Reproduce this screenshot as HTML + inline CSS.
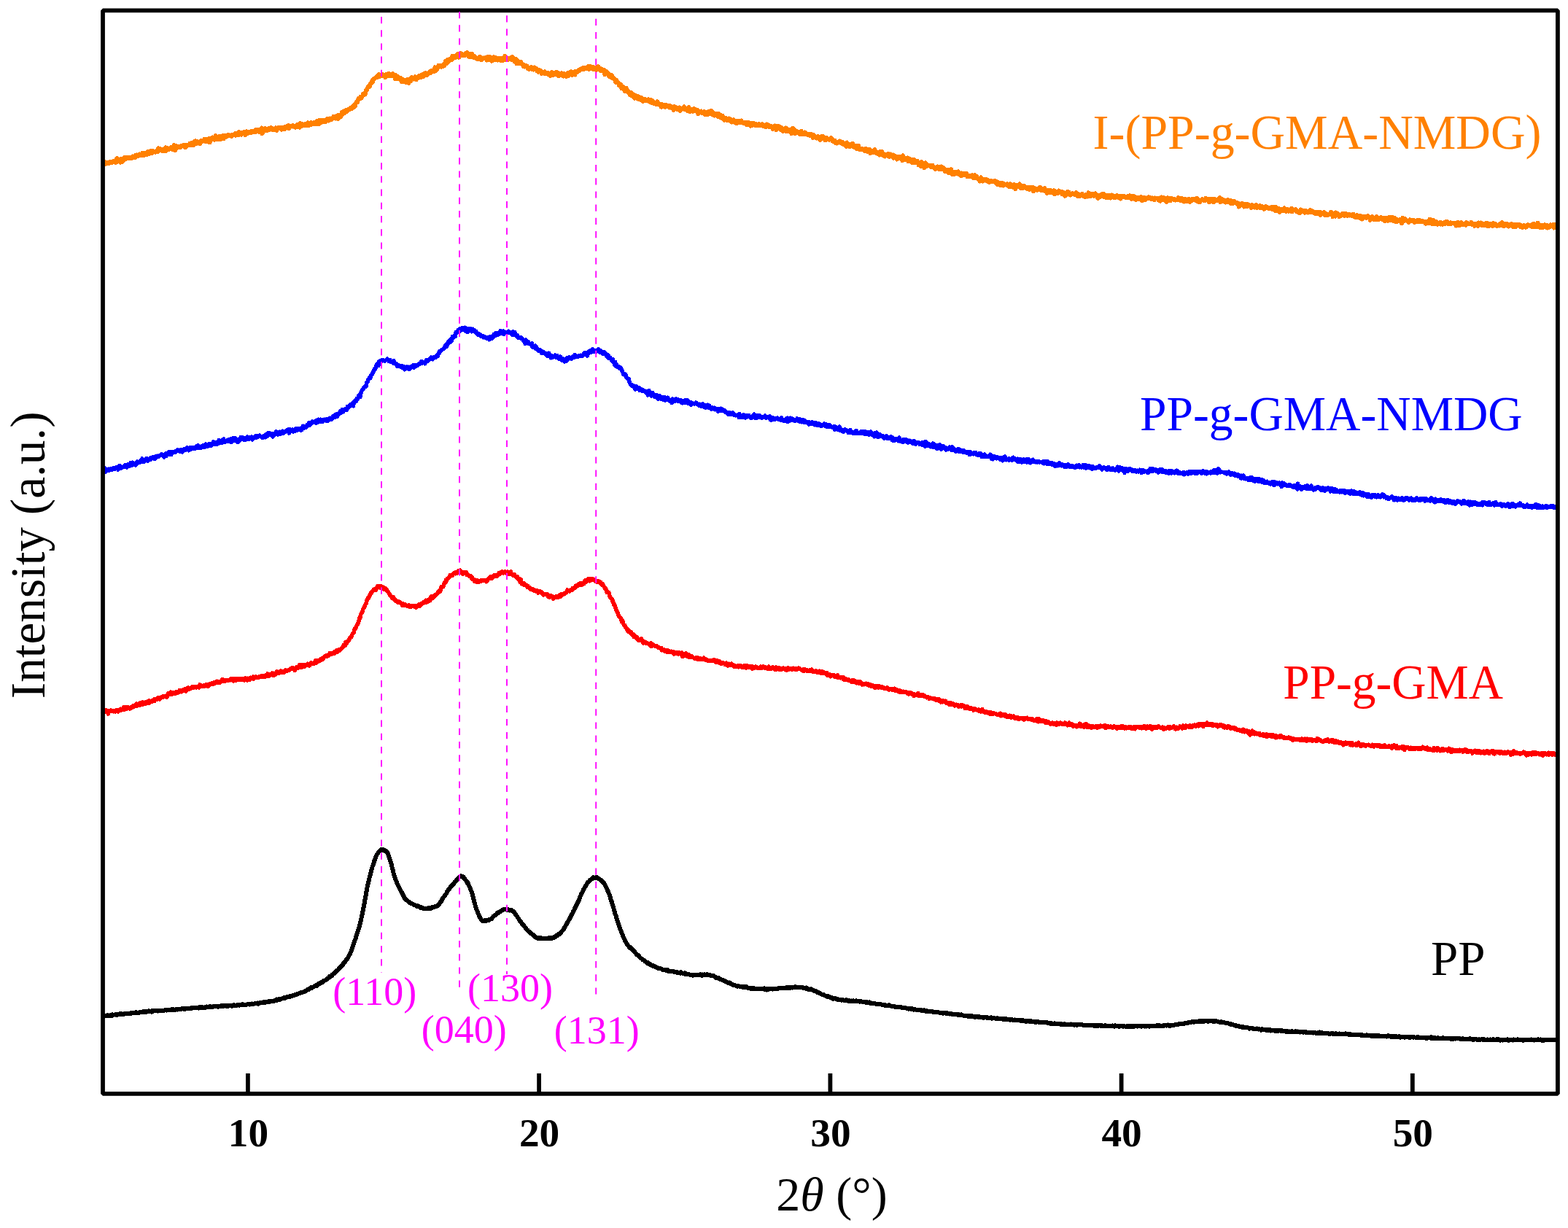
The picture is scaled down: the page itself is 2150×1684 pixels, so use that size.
<!DOCTYPE html><html><head><meta charset="utf-8"><title>XRD</title><style>html,body{margin:0;padding:0;background:#fff;}svg{display:block;}text{font-family:"Liberation Serif",serif;}</style></head><body>
<svg width="2150" height="1684" viewBox="0 0 2150 1684">
<rect x="0" y="0" width="2150" height="1684" fill="#fff"/>
<path d="M141.2 225.0L142.0 225.5L142.8 224.7L143.6 222.3L144.4 225.2L145.2 224.4L146.0 222.9L146.8 224.3L147.6 223.9L148.4 223.6L149.2 223.1L150.0 223.7L150.8 221.7L151.6 222.3L152.4 221.7L153.2 223.1L154.0 222.2L154.8 221.5L155.6 220.7L156.4 221.3L157.2 221.5L158.0 220.9L158.8 222.9L159.6 222.4L160.4 217.0L161.2 218.0L162.0 220.2L162.8 219.7L163.6 220.4L164.4 220.2L165.2 222.7L166.0 218.0L166.8 218.9L167.6 222.1L168.4 219.9L169.2 219.8L170.0 217.9L170.8 216.2L171.6 218.5L172.4 218.2L173.2 216.2L174.0 216.7L174.8 217.4L175.6 216.0L176.4 216.9L177.2 217.0L178.0 216.7L178.8 215.8L179.6 217.1L180.4 217.3L181.2 216.3L182.0 214.5L182.8 216.4L183.6 214.5L184.4 216.2L185.2 213.3L186.0 215.8L186.8 214.3L187.6 212.4L188.4 213.5L189.2 213.8L190.0 213.9L190.8 211.9L191.6 211.5L192.4 213.2L193.2 212.0L194.0 212.8L194.8 213.3L195.6 209.8L196.4 212.2L197.2 213.4L198.0 211.0L198.8 210.1L199.6 212.1L200.4 211.2L201.2 211.9L202.0 209.9L202.8 208.1L203.6 209.8L204.4 209.2L205.2 210.7L206.0 209.6L206.8 206.9L207.6 207.3L208.4 210.0L209.2 209.5L210.0 207.4L210.8 208.1L211.6 208.5L212.4 208.4L213.2 208.7L214.0 207.7L214.8 207.0L215.6 206.6L216.4 208.2L217.2 203.4L218.0 206.2L218.8 206.2L219.6 204.0L220.4 206.3L221.2 204.8L222.0 206.7L222.8 205.2L223.6 206.1L224.4 206.7L225.2 205.4L226.0 203.5L226.8 202.5L227.6 206.9L228.4 204.2L229.2 203.2L230.0 204.3L230.8 203.7L231.6 205.0L232.4 203.7L233.2 203.6L234.0 202.5L234.8 204.0L235.6 201.8L236.4 204.0L237.2 205.1L238.0 200.7L238.8 199.3L239.6 203.5L240.4 206.1L241.2 201.0L242.0 200.5L242.8 203.0L243.6 200.8L244.4 201.2L245.2 201.3L246.0 202.4L246.8 200.9L247.6 201.7L248.4 200.9L249.2 199.9L250.0 200.4L250.8 199.4L251.6 200.6L252.4 198.8L253.2 198.7L254.0 202.1L254.8 199.8L255.6 199.6L256.4 200.1L257.2 198.6L258.0 198.7L258.8 199.4L259.6 199.0L260.4 196.7L261.2 199.3L262.0 197.1L262.8 196.2L263.6 196.2L264.4 196.7L265.2 199.3L266.0 195.1L266.8 196.7L267.6 193.3L268.4 196.1L269.2 197.1L270.0 195.3L270.8 194.5L271.6 195.5L272.4 195.9L273.2 195.6L274.0 197.3L274.8 194.6L275.6 193.2L276.4 193.7L277.2 193.6L278.0 193.6L278.8 193.3L279.6 193.4L280.4 190.6L281.2 193.9L282.0 191.8L282.8 190.8L283.6 193.1L284.4 193.9L285.2 192.6L286.0 191.9L286.8 190.2L287.6 195.4L288.4 192.5L289.2 189.5L290.0 189.8L290.8 190.9L291.6 188.4L292.4 190.6L293.2 189.6L294.0 191.8L294.8 191.3L295.6 186.0L296.4 189.7L297.2 187.2L298.0 190.9L298.8 189.4L299.6 189.8L300.4 187.4L301.2 191.3L302.0 191.4L302.8 186.9L303.6 188.8L304.4 187.2L305.2 187.9L306.0 186.1L306.8 190.3L307.6 186.2L308.4 187.0L309.2 188.0L310.0 186.2L310.8 186.6L311.6 186.0L312.4 186.5L313.2 184.9L314.0 185.8L314.8 186.0L315.6 185.7L316.4 186.1L317.2 185.5L318.0 186.8L318.8 185.2L319.6 185.3L320.4 184.4L321.2 184.5L322.0 183.3L322.8 185.7L323.6 183.2L324.4 183.6L325.2 185.1L326.0 185.0L326.8 183.7L327.6 181.3L328.4 184.6L329.2 184.3L330.0 181.8L330.8 184.7L331.6 182.5L332.4 181.8L333.2 183.4L334.0 182.9L334.8 183.3L335.6 180.6L336.4 185.3L337.2 181.7L338.0 180.3L338.8 183.2L339.6 181.7L340.4 182.5L341.2 181.4L342.0 181.7L342.8 182.0L343.6 180.4L344.4 182.3L345.2 180.5L346.0 179.8L346.8 181.0L347.6 181.4L348.4 180.3L349.2 179.3L350.0 181.2L350.8 177.8L351.6 178.7L352.4 180.0L353.2 177.9L354.0 179.8L354.8 179.5L355.6 180.7L356.4 178.0L357.2 178.3L358.0 179.5L358.8 175.5L359.6 183.2L360.4 177.7L361.2 177.6L362.0 179.7L362.8 178.3L363.6 175.8L364.4 179.0L365.2 179.2L366.0 177.3L366.8 177.4L367.6 178.4L368.4 176.4L369.2 178.1L370.0 177.7L370.8 176.4L371.6 175.3L372.4 176.8L373.2 175.8L374.0 178.4L374.8 177.1L375.6 177.9L376.4 176.9L377.2 176.9L378.0 175.4L378.8 177.3L379.6 178.8L380.4 175.8L381.2 175.3L382.0 175.8L382.8 175.3L383.6 174.9L384.4 175.9L385.2 175.2L386.0 177.6L386.8 175.5L387.6 175.8L388.4 176.6L389.2 174.7L390.0 177.1L390.8 174.1L391.6 173.7L392.4 174.2L393.2 174.5L394.0 172.6L394.8 174.4L395.6 172.0L396.4 176.2L397.2 174.1L398.0 173.2L398.8 172.7L399.6 173.3L400.4 173.5L401.2 172.2L402.0 172.3L402.8 173.2L403.6 172.7L404.4 174.6L405.2 174.8L406.0 173.1L406.8 173.7L407.6 171.0L408.4 173.7L409.2 172.6L410.0 173.2L410.8 174.7L411.6 169.1L412.4 172.6L413.2 170.6L414.0 172.8L414.8 170.0L415.6 171.1L416.4 171.9L417.2 172.4L418.0 171.5L418.8 170.1L419.6 170.3L420.4 172.2L421.2 170.8L422.0 168.3L422.8 171.7L423.6 170.9L424.4 171.4L425.2 169.6L426.0 171.0L426.8 168.2L427.6 170.3L428.4 168.7L429.2 170.1L430.0 170.4L430.8 167.8L431.6 168.5L432.4 168.5L433.2 169.9L434.0 169.0L434.8 166.2L435.6 168.3L436.4 168.5L437.2 170.3L438.0 164.7L438.8 166.1L439.6 168.6L440.4 164.6L441.2 164.6L442.0 166.8L442.8 167.3L443.6 164.7L444.4 166.2L445.2 165.4L446.0 167.2L446.8 164.9L447.6 166.1L448.4 163.2L449.2 164.0L450.0 164.0L450.8 165.5L451.6 164.6L452.4 162.5L453.2 164.4L454.0 164.3L454.8 162.9L455.6 162.5L456.4 162.4L457.2 160.1L458.0 162.5L458.8 162.3L459.6 160.5L460.4 162.5L461.2 159.3L462.0 160.2L462.8 160.0L463.6 163.1L464.4 157.8L465.2 160.4L466.0 160.5L466.8 159.2L467.6 159.7L468.4 156.0L469.2 153.5L470.0 157.0L470.8 153.5L471.6 154.0L472.4 152.1L473.2 154.5L474.0 153.7L474.8 150.9L475.6 152.7L476.4 151.1L477.2 150.3L478.0 150.2L478.8 149.4L479.6 150.1L480.4 149.2L481.2 147.8L482.0 149.2L482.8 146.4L483.6 147.0L484.4 146.5L485.2 147.2L486.0 143.5L486.8 145.7L487.6 142.6L488.4 141.0L489.2 139.3L490.0 140.0L490.8 138.2L491.6 135.5L492.4 134.5L493.2 134.3L494.0 133.2L494.8 134.8L495.6 134.3L496.4 132.6L497.2 131.0L498.0 129.0L498.8 128.7L499.6 128.9L500.4 129.6L501.2 126.9L502.0 124.1L502.8 123.4L503.6 121.4L504.4 119.6L505.2 119.0L506.0 118.0L506.8 118.8L507.6 114.9L508.4 115.3L509.2 114.6L510.0 111.1L510.8 112.3L511.6 110.3L512.4 108.1L513.2 108.4L514.0 107.5L514.8 106.5L515.6 106.0L516.4 106.0L517.2 106.0L518.0 103.8L518.8 104.6L519.6 102.2L520.4 104.4L521.2 104.7L522.0 103.9L522.8 103.9L523.6 104.1L524.4 102.2L525.2 102.6L526.0 103.5L526.8 104.1L527.6 103.1L528.4 106.0L529.2 102.3L530.0 103.7L530.8 104.1L531.6 102.1L532.4 101.2L533.2 100.8L534.0 102.8L534.8 104.3L535.6 103.3L536.4 103.4L537.2 102.9L538.0 104.4L538.8 100.9L539.6 104.5L540.4 104.5L541.2 102.8L542.0 108.0L542.8 103.3L543.6 104.1L544.4 104.3L545.2 108.0L546.0 105.6L546.8 108.3L547.6 108.7L548.4 108.7L549.2 107.0L550.0 108.5L550.8 112.1L551.6 108.4L552.4 109.5L553.2 110.7L554.0 112.4L554.8 111.8L555.6 112.6L556.4 110.1L557.2 112.9L558.0 112.2L558.8 109.0L559.6 113.1L560.4 113.8L561.2 109.2L562.0 110.0L562.8 111.5L563.6 107.1L564.4 106.0L565.2 106.6L566.0 107.3L566.8 107.0L567.6 108.4L568.4 107.6L569.2 105.2L570.0 107.5L570.8 109.1L571.6 107.9L572.4 107.3L573.2 105.7L574.0 106.8L574.8 103.8L575.6 106.0L576.4 104.5L577.2 106.0L578.0 104.8L578.8 102.3L579.6 103.7L580.4 105.0L581.2 101.4L582.0 101.9L582.8 101.3L583.6 99.9L584.4 103.0L585.2 103.2L586.0 102.1L586.8 100.9L587.6 100.1L588.4 100.1L589.2 98.3L590.0 100.1L590.8 99.8L591.6 99.2L592.4 96.6L593.2 97.0L594.0 96.2L594.8 98.4L595.6 95.7L596.4 92.3L597.2 95.1L598.0 96.7L598.8 94.6L599.6 94.5L600.4 92.9L601.2 89.7L602.0 89.6L602.8 90.0L603.6 91.2L604.4 91.4L605.2 91.6L606.0 89.8L606.8 91.2L607.6 89.1L608.4 88.1L609.2 89.9L610.0 87.0L610.8 84.0L611.6 85.9L612.4 87.0L613.2 82.1L614.0 85.2L614.8 84.6L615.6 82.2L616.4 81.3L617.2 81.8L618.0 80.7L618.8 82.3L619.6 80.2L620.4 76.6L621.2 76.9L622.0 78.4L622.8 79.5L623.6 77.0L624.4 76.7L625.2 78.7L626.0 75.9L626.8 75.4L627.6 73.8L628.4 75.0L629.2 78.7L630.0 73.5L630.8 75.4L631.6 73.3L632.4 75.3L633.2 76.2L634.0 74.5L634.8 75.6L635.6 75.4L636.4 74.8L637.2 76.4L638.0 74.9L638.8 73.2L639.6 72.6L640.4 72.3L641.2 74.2L642.0 73.2L642.8 77.7L643.6 76.8L644.4 74.4L645.2 74.7L646.0 78.1L646.8 73.6L647.6 76.1L648.4 78.6L649.2 76.4L650.0 77.4L650.8 77.8L651.6 79.5L652.4 79.0L653.2 79.7L654.0 80.2L654.8 79.6L655.6 81.4L656.4 79.0L657.2 78.2L658.0 77.9L658.8 78.3L659.6 79.9L660.4 82.3L661.2 81.1L662.0 80.1L662.8 79.5L663.6 80.3L664.4 80.5L665.2 80.3L666.0 79.1L666.8 80.5L667.6 82.6L668.4 78.2L669.2 80.9L670.0 78.3L670.8 81.5L671.6 80.2L672.4 78.4L673.2 81.4L674.0 83.8L674.8 81.5L675.6 82.9L676.4 81.2L677.2 78.3L678.0 82.0L678.8 80.7L679.6 79.3L680.4 82.4L681.2 81.7L682.0 80.6L682.8 82.5L683.6 80.1L684.4 82.2L685.2 80.0L686.0 82.0L686.8 79.8L687.6 83.4L688.4 81.6L689.2 83.2L690.0 79.9L690.8 80.2L691.6 81.9L692.4 76.8L693.2 79.0L694.0 81.9L694.8 81.1L695.6 81.8L696.4 80.2L697.2 81.7L698.0 80.2L698.8 79.6L699.6 79.5L700.4 81.5L701.2 81.8L702.0 81.9L702.8 78.0L703.6 80.4L704.4 82.7L705.2 84.0L706.0 83.0L706.8 82.8L707.6 81.0L708.4 87.2L709.2 83.1L710.0 87.2L710.8 87.3L711.6 85.8L712.4 84.9L713.2 86.2L714.0 84.8L714.8 87.2L715.6 87.4L716.4 88.6L717.2 89.8L718.0 91.4L718.8 89.0L719.6 91.6L720.4 89.6L721.2 90.0L722.0 90.8L722.8 90.7L723.6 93.8L724.4 94.1L725.2 94.8L726.0 93.3L726.8 93.9L727.6 92.9L728.4 92.3L729.2 94.8L730.0 94.7L730.8 93.0L731.6 95.6L732.4 92.5L733.2 94.9L734.0 94.5L734.8 94.9L735.6 94.4L736.4 97.6L737.2 97.4L738.0 98.6L738.8 97.5L739.6 95.9L740.4 97.6L741.2 96.8L742.0 99.5L742.8 100.9L743.6 100.0L744.4 99.0L745.2 99.6L746.0 100.6L746.8 98.4L747.6 100.8L748.4 101.1L749.2 100.2L750.0 100.5L750.8 101.4L751.6 100.1L752.4 100.2L753.2 102.5L754.0 101.8L754.8 103.9L755.6 100.3L756.4 99.3L757.2 103.1L758.0 103.2L758.8 100.9L759.6 100.0L760.4 102.0L761.2 99.7L762.0 101.7L762.8 99.1L763.6 101.9L764.4 99.3L765.2 101.9L766.0 104.4L766.8 101.9L767.6 103.3L768.4 101.4L769.2 101.0L770.0 100.2L770.8 103.7L771.6 102.2L772.4 104.5L773.2 100.6L774.0 101.9L774.8 102.4L775.6 104.2L776.4 104.8L777.2 101.3L778.0 100.6L778.8 99.8L779.6 104.1L780.4 102.1L781.2 101.3L782.0 102.0L782.8 98.4L783.6 99.3L784.4 102.8L785.2 101.8L786.0 101.2L786.8 99.2L787.6 101.1L788.4 102.5L789.2 97.9L790.0 99.4L790.8 98.4L791.6 99.1L792.4 98.2L793.2 97.4L794.0 95.9L794.8 96.6L795.6 95.2L796.4 95.3L797.2 94.9L798.0 95.4L798.8 93.3L799.6 93.2L800.4 94.9L801.2 92.8L802.0 92.6L802.8 94.1L803.6 93.3L804.4 93.1L805.2 93.3L806.0 91.3L806.8 93.7L807.6 94.9L808.4 93.9L809.2 91.0L810.0 93.6L810.8 92.0L811.6 93.0L812.4 93.6L813.2 91.8L814.0 95.4L814.8 93.6L815.6 94.8L816.4 94.7L817.2 95.8L818.0 95.6L818.8 92.0L819.6 94.2L820.4 91.3L821.2 93.8L822.0 95.5L822.8 96.0L823.6 96.7L824.4 94.5L825.2 95.7L826.0 95.6L826.8 97.5L827.6 98.2L828.4 95.9L829.2 102.2L830.0 97.5L830.8 97.6L831.6 99.7L832.4 100.6L833.2 101.1L834.0 100.2L834.8 104.0L835.6 102.7L836.4 105.5L837.2 106.0L838.0 103.0L838.8 104.1L839.6 104.8L840.4 107.3L841.2 107.8L842.0 108.8L842.8 108.0L843.6 110.5L844.4 112.7L845.2 109.6L846.0 111.9L846.8 113.3L847.6 113.5L848.4 114.1L849.2 117.6L850.0 117.7L850.8 117.8L851.6 116.3L852.4 121.2L853.2 119.4L854.0 118.8L854.8 119.8L855.6 120.4L856.4 124.7L857.2 122.8L858.0 123.3L858.8 120.8L859.6 125.6L860.4 123.8L861.2 124.4L862.0 127.6L862.8 126.2L863.6 129.3L864.4 130.4L865.2 126.9L866.0 129.8L866.8 128.3L867.6 130.9L868.4 132.7L869.2 129.9L870.0 134.7L870.8 132.1L871.6 131.2L872.4 133.0L873.2 134.6L874.0 131.9L874.8 134.1L875.6 132.5L876.4 136.3L877.2 135.1L878.0 134.6L878.8 136.9L879.6 133.9L880.4 135.4L881.2 138.7L882.0 136.2L882.8 138.6L883.6 137.2L884.4 136.2L885.2 137.1L886.0 137.8L886.8 137.3L887.6 137.0L888.4 137.3L889.2 136.5L890.0 139.0L890.8 139.6L891.6 140.3L892.4 137.0L893.2 140.8L894.0 139.9L894.8 138.2L895.6 140.5L896.4 141.8L897.2 141.6L898.0 142.2L898.8 142.7L899.6 142.9L900.4 141.9L901.2 139.3L902.0 141.4L902.8 143.3L903.6 142.4L904.4 144.2L905.2 144.7L906.0 143.9L906.8 146.7L907.6 142.9L908.4 145.8L909.2 144.0L910.0 143.8L910.8 145.9L911.6 144.4L912.4 146.7L913.2 144.0L914.0 145.8L914.8 144.8L915.6 145.8L916.4 145.7L917.2 144.8L918.0 147.5L918.8 145.0L919.6 145.5L920.4 148.2L921.2 148.5L922.0 148.2L922.8 147.9L923.6 150.7L924.4 146.0L925.2 146.7L926.0 146.5L926.8 149.3L927.6 148.6L928.4 149.9L929.2 149.8L930.0 148.2L930.8 147.5L931.6 147.4L932.4 152.0L933.2 150.4L934.0 150.0L934.8 148.8L935.6 149.2L936.4 149.1L937.2 149.2L938.0 146.4L938.8 149.8L939.6 149.5L940.4 150.6L941.2 150.6L942.0 151.6L942.8 150.5L943.6 151.7L944.4 147.1L945.2 149.3L946.0 153.4L946.8 149.4L947.6 150.8L948.4 152.3L949.2 150.2L950.0 152.6L950.8 149.7L951.6 149.1L952.4 150.1L953.2 149.7L954.0 152.1L954.8 151.9L955.6 152.9L956.4 151.1L957.2 156.3L958.0 152.7L958.8 152.9L959.6 153.7L960.4 152.9L961.2 152.5L962.0 153.6L962.8 155.0L963.6 154.7L964.4 155.3L965.2 153.3L966.0 153.2L966.8 157.2L967.6 154.2L968.4 155.4L969.2 155.9L970.0 157.0L970.8 153.3L971.6 154.7L972.4 154.9L973.2 155.2L974.0 152.5L974.8 155.9L975.6 152.1L976.4 156.8L977.2 157.3L978.0 157.6L978.8 155.3L979.6 158.5L980.4 156.1L981.2 155.8L982.0 156.4L982.8 156.9L983.6 158.6L984.4 159.7L985.2 155.9L986.0 158.4L986.8 160.7L987.6 160.1L988.4 160.8L989.2 158.3L990.0 162.1L990.8 158.9L991.6 161.7L992.4 163.6L993.2 164.7L994.0 163.1L994.8 163.9L995.6 162.1L996.4 162.6L997.2 165.2L998.0 163.8L998.8 163.9L999.6 162.4L1000.4 164.8L1001.2 165.7L1002.0 163.9L1002.8 164.5L1003.6 167.6L1004.4 165.9L1005.2 165.4L1006.0 164.4L1006.8 165.3L1007.6 165.9L1008.4 168.4L1009.2 165.7L1010.0 169.2L1010.8 165.6L1011.6 166.5L1012.4 168.3L1013.2 167.0L1014.0 166.3L1014.8 167.4L1015.6 168.3L1016.4 165.4L1017.2 167.6L1018.0 167.9L1018.8 167.6L1019.6 169.3L1020.4 167.6L1021.2 168.0L1022.0 168.7L1022.8 169.8L1023.6 168.6L1024.4 171.1L1025.2 167.9L1026.0 171.1L1026.8 168.2L1027.6 169.3L1028.4 170.1L1029.2 172.6L1030.0 171.1L1030.8 169.3L1031.6 171.8L1032.4 169.8L1033.2 169.1L1034.0 170.9L1034.8 170.5L1035.6 171.8L1036.4 169.8L1037.2 171.2L1038.0 171.7L1038.8 171.3L1039.6 170.9L1040.4 170.1L1041.2 172.4L1042.0 171.5L1042.8 172.1L1043.6 171.0L1044.4 171.6L1045.2 170.2L1046.0 171.9L1046.8 173.0L1047.6 172.1L1048.4 173.3L1049.2 172.7L1050.0 174.3L1050.8 172.2L1051.6 170.4L1052.4 173.4L1053.2 172.7L1054.0 171.7L1054.8 174.1L1055.6 173.8L1056.4 174.2L1057.2 173.2L1058.0 174.1L1058.8 174.4L1059.6 176.7L1060.4 173.4L1061.2 174.5L1062.0 175.2L1062.8 172.5L1063.6 172.8L1064.4 178.3L1065.2 172.9L1066.0 176.4L1066.8 174.6L1067.6 174.8L1068.4 173.3L1069.2 175.0L1070.0 177.5L1070.8 174.6L1071.6 177.6L1072.4 177.4L1073.2 179.9L1074.0 176.6L1074.8 179.2L1075.6 178.8L1076.4 177.3L1077.2 175.5L1078.0 180.1L1078.8 176.3L1079.6 177.7L1080.4 179.7L1081.2 180.2L1082.0 177.6L1082.8 178.9L1083.6 178.7L1084.4 180.9L1085.2 182.9L1086.0 177.0L1086.8 181.0L1087.6 175.9L1088.4 180.0L1089.2 178.6L1090.0 183.1L1090.8 180.7L1091.6 179.6L1092.4 180.1L1093.2 180.2L1094.0 181.4L1094.8 181.1L1095.6 182.4L1096.4 183.8L1097.2 182.9L1098.0 180.3L1098.8 180.0L1099.6 181.4L1100.4 184.1L1101.2 182.3L1102.0 182.1L1102.8 183.4L1103.6 181.4L1104.4 182.0L1105.2 184.5L1106.0 183.6L1106.8 183.6L1107.6 184.9L1108.4 183.8L1109.2 183.9L1110.0 184.4L1110.8 186.1L1111.6 185.6L1112.4 184.0L1113.2 185.5L1114.0 187.0L1114.8 188.9L1115.6 184.9L1116.4 187.2L1117.2 186.5L1118.0 188.2L1118.8 187.9L1119.6 189.5L1120.4 188.4L1121.2 187.1L1122.0 187.3L1122.8 188.8L1123.6 188.9L1124.4 191.9L1125.2 191.1L1126.0 187.3L1126.8 189.6L1127.6 187.4L1128.4 187.1L1129.2 190.6L1130.0 190.5L1130.8 188.5L1131.6 192.4L1132.4 188.9L1133.2 188.8L1134.0 191.5L1134.8 191.1L1135.6 190.7L1136.4 191.1L1137.2 191.6L1138.0 191.3L1138.8 191.4L1139.6 189.2L1140.4 190.2L1141.2 193.1L1142.0 191.5L1142.8 193.4L1143.6 194.6L1144.4 192.6L1145.2 193.7L1146.0 196.4L1146.8 194.7L1147.6 196.5L1148.4 196.3L1149.2 195.4L1150.0 194.4L1150.8 193.6L1151.6 193.4L1152.4 195.9L1153.2 196.1L1154.0 195.4L1154.8 197.1L1155.6 195.3L1156.4 197.9L1157.2 196.7L1158.0 196.8L1158.8 197.1L1159.6 197.2L1160.4 201.0L1161.2 195.5L1162.0 198.2L1162.8 200.0L1163.6 199.5L1164.4 198.3L1165.2 201.4L1166.0 197.7L1166.8 197.6L1167.6 200.4L1168.4 197.8L1169.2 196.8L1170.0 201.6L1170.8 201.6L1171.6 201.8L1172.4 200.4L1173.2 201.6L1174.0 200.2L1174.8 204.2L1175.6 203.1L1176.4 203.3L1177.2 199.8L1178.0 203.9L1178.8 205.1L1179.6 204.9L1180.4 204.6L1181.2 203.7L1182.0 203.5L1182.8 205.0L1183.6 205.0L1184.4 205.0L1185.2 204.5L1186.0 207.5L1186.8 203.7L1187.6 205.6L1188.4 205.0L1189.2 207.5L1190.0 208.2L1190.8 208.2L1191.6 207.7L1192.4 204.9L1193.2 210.0L1194.0 208.1L1194.8 207.4L1195.6 207.8L1196.4 207.5L1197.2 208.8L1198.0 208.8L1198.8 208.1L1199.6 205.2L1200.4 209.0L1201.2 209.9L1202.0 210.2L1202.8 209.4L1203.6 210.5L1204.4 211.5L1205.2 209.6L1206.0 212.5L1206.8 207.9L1207.6 209.0L1208.4 209.7L1209.2 207.8L1210.0 210.0L1210.8 213.3L1211.6 213.5L1212.4 212.1L1213.2 214.5L1214.0 212.6L1214.8 211.7L1215.6 212.9L1216.4 212.6L1217.2 213.9L1218.0 211.0L1218.8 214.6L1219.6 212.7L1220.4 214.7L1221.2 211.5L1222.0 213.2L1222.8 214.1L1223.6 215.4L1224.4 212.5L1225.2 216.7L1226.0 215.2L1226.8 213.9L1227.6 216.5L1228.4 215.1L1229.2 216.8L1230.0 218.5L1230.8 216.5L1231.6 214.9L1232.4 215.2L1233.2 216.8L1234.0 216.5L1234.8 215.1L1235.6 215.6L1236.4 217.6L1237.2 220.2L1238.0 213.4L1238.8 218.3L1239.6 217.3L1240.4 218.9L1241.2 219.2L1242.0 218.3L1242.8 217.1L1243.6 216.8L1244.4 216.4L1245.2 221.0L1246.0 219.2L1246.8 219.0L1247.6 219.6L1248.4 218.4L1249.2 221.0L1250.0 222.7L1250.8 222.7L1251.6 219.1L1252.4 223.5L1253.2 220.8L1254.0 219.4L1254.8 220.6L1255.6 221.2L1256.4 222.8L1257.2 221.6L1258.0 221.2L1258.8 223.1L1259.6 226.4L1260.4 222.9L1261.2 224.8L1262.0 224.5L1262.8 228.3L1263.6 222.1L1264.4 226.5L1265.2 223.3L1266.0 224.5L1266.8 225.4L1267.6 230.2L1268.4 224.8L1269.2 223.5L1270.0 228.1L1270.8 225.3L1271.6 226.3L1272.4 226.8L1273.2 227.2L1274.0 227.0L1274.8 227.8L1275.6 228.2L1276.4 229.0L1277.2 227.4L1278.0 227.2L1278.8 226.9L1279.6 229.5L1280.4 228.8L1281.2 229.8L1282.0 230.0L1282.8 231.9L1283.6 230.0L1284.4 231.0L1285.2 228.5L1286.0 228.9L1286.8 230.2L1287.6 229.2L1288.4 232.1L1289.2 229.6L1290.0 231.8L1290.8 228.5L1291.6 230.7L1292.4 232.0L1293.2 232.4L1294.0 230.5L1294.8 233.4L1295.6 234.9L1296.4 234.7L1297.2 233.1L1298.0 233.4L1298.8 232.9L1299.6 235.6L1300.4 237.0L1301.2 234.5L1302.0 233.1L1302.8 235.9L1303.6 236.9L1304.4 232.3L1305.2 236.5L1306.0 239.5L1306.8 237.8L1307.6 237.6L1308.4 237.6L1309.2 238.7L1310.0 236.0L1310.8 236.3L1311.6 238.2L1312.4 236.8L1313.2 238.3L1314.0 235.4L1314.8 239.3L1315.6 239.6L1316.4 238.6L1317.2 238.9L1318.0 241.1L1318.8 237.5L1319.6 237.9L1320.4 237.7L1321.2 238.8L1322.0 238.2L1322.8 239.8L1323.6 239.0L1324.4 238.0L1325.2 238.0L1326.0 242.0L1326.8 240.4L1327.6 240.4L1328.4 240.9L1329.2 240.9L1330.0 242.3L1330.8 242.2L1331.6 240.8L1332.4 240.6L1333.2 240.4L1334.0 240.4L1334.8 244.3L1335.6 241.3L1336.4 239.9L1337.2 241.8L1338.0 242.0L1338.8 243.8L1339.6 242.3L1340.4 244.5L1341.2 244.5L1342.0 245.9L1342.8 247.4L1343.6 248.6L1344.4 246.7L1345.2 243.4L1346.0 244.6L1346.8 245.7L1347.6 248.5L1348.4 246.8L1349.2 247.7L1350.0 246.0L1350.8 247.2L1351.6 247.6L1352.4 246.2L1353.2 248.1L1354.0 248.7L1354.8 247.2L1355.6 249.1L1356.4 250.2L1357.2 248.2L1358.0 248.3L1358.8 248.1L1359.6 247.9L1360.4 249.2L1361.2 248.6L1362.0 249.0L1362.8 248.6L1363.6 247.7L1364.4 248.8L1365.2 250.8L1366.0 248.9L1366.8 249.8L1367.6 253.2L1368.4 252.7L1369.2 250.4L1370.0 252.4L1370.8 250.8L1371.6 254.2L1372.4 251.2L1373.2 252.3L1374.0 254.3L1374.8 251.4L1375.6 254.5L1376.4 251.7L1377.2 253.3L1378.0 252.7L1378.8 253.1L1379.6 253.6L1380.4 253.4L1381.2 252.2L1382.0 254.9L1382.8 254.9L1383.6 255.8L1384.4 256.0L1385.2 252.3L1386.0 256.1L1386.8 256.2L1387.6 253.8L1388.4 256.1L1389.2 256.8L1390.0 254.1L1390.8 253.0L1391.6 254.5L1392.4 259.1L1393.2 255.6L1394.0 253.7L1394.8 255.1L1395.6 254.2L1396.4 255.1L1397.2 256.0L1398.0 252.4L1398.8 256.6L1399.6 258.2L1400.4 256.0L1401.2 255.9L1402.0 258.1L1402.8 254.9L1403.6 255.0L1404.4 255.0L1405.2 256.8L1406.0 257.7L1406.8 257.2L1407.6 258.2L1408.4 258.7L1409.2 258.3L1410.0 256.6L1410.8 257.5L1411.6 259.8L1412.4 256.7L1413.2 257.9L1414.0 257.8L1414.8 258.3L1415.6 257.1L1416.4 256.9L1417.2 262.5L1418.0 260.3L1418.8 258.1L1419.6 259.2L1420.4 260.3L1421.2 259.0L1422.0 260.5L1422.8 258.9L1423.6 259.4L1424.4 259.9L1425.2 259.5L1426.0 256.8L1426.8 260.4L1427.6 260.9L1428.4 261.3L1429.2 259.3L1430.0 261.3L1430.8 261.3L1431.6 258.6L1432.4 258.1L1433.2 262.0L1434.0 260.1L1434.8 263.0L1435.6 264.7L1436.4 261.0L1437.2 260.9L1438.0 262.0L1438.8 263.1L1439.6 260.6L1440.4 264.1L1441.2 263.8L1442.0 263.5L1442.8 261.9L1443.6 264.1L1444.4 264.1L1445.2 261.3L1446.0 266.1L1446.8 262.8L1447.6 263.9L1448.4 262.7L1449.2 264.1L1450.0 265.3L1450.8 262.7L1451.6 261.6L1452.4 263.4L1453.2 262.3L1454.0 263.2L1454.8 264.2L1455.6 264.4L1456.4 266.4L1457.2 263.2L1458.0 265.2L1458.8 264.1L1459.6 266.9L1460.4 268.6L1461.2 265.6L1462.0 267.6L1462.8 264.6L1463.6 263.2L1464.4 263.7L1465.2 263.4L1466.0 264.4L1466.8 265.5L1467.6 267.5L1468.4 266.9L1469.2 266.7L1470.0 265.5L1470.8 265.2L1471.6 266.3L1472.4 266.5L1473.2 266.8L1474.0 267.0L1474.8 266.4L1475.6 263.9L1476.4 265.1L1477.2 265.6L1478.0 269.2L1478.8 266.2L1479.6 267.8L1480.4 269.0L1481.2 267.5L1482.0 266.5L1482.8 266.7L1483.6 265.7L1484.4 267.6L1485.2 268.8L1486.0 268.1L1486.8 268.4L1487.6 268.4L1488.4 270.3L1489.2 266.6L1490.0 267.8L1490.8 268.6L1491.6 269.4L1492.4 264.3L1493.2 267.0L1494.0 267.5L1494.8 266.4L1495.6 269.0L1496.4 268.2L1497.2 267.4L1498.0 265.7L1498.8 266.2L1499.6 266.7L1500.4 268.7L1501.2 266.4L1502.0 265.3L1502.8 266.2L1503.6 267.4L1504.4 270.7L1505.2 271.9L1506.0 267.7L1506.8 269.8L1507.6 270.4L1508.4 270.3L1509.2 268.4L1510.0 266.8L1510.8 268.0L1511.6 266.1L1512.4 269.1L1513.2 269.9L1514.0 266.2L1514.8 268.8L1515.6 269.3L1516.4 270.7L1517.2 270.9L1518.0 270.2L1518.8 268.1L1519.6 268.6L1520.4 270.9L1521.2 268.4L1522.0 269.2L1522.8 271.5L1523.6 269.5L1524.4 267.5L1525.2 269.0L1526.0 270.4L1526.8 269.2L1527.6 271.2L1528.4 271.4L1529.2 268.7L1530.0 269.0L1530.8 269.6L1531.6 268.1L1532.4 270.3L1533.2 269.6L1534.0 271.0L1534.8 269.1L1535.6 268.7L1536.4 272.5L1537.2 268.8L1538.0 269.2L1538.8 269.1L1539.6 269.7L1540.4 268.9L1541.2 270.2L1542.0 269.3L1542.8 269.7L1543.6 270.8L1544.4 271.4L1545.2 271.1L1546.0 269.4L1546.8 271.1L1547.6 270.4L1548.4 270.4L1549.2 268.2L1550.0 271.6L1550.8 270.5L1551.6 273.1L1552.4 271.7L1553.2 269.3L1554.0 268.9L1554.8 272.5L1555.6 269.7L1556.4 272.0L1557.2 270.6L1558.0 274.0L1558.8 271.2L1559.6 273.3L1560.4 273.1L1561.2 270.6L1562.0 270.8L1562.8 273.4L1563.6 271.4L1564.4 270.2L1565.2 273.2L1566.0 275.1L1566.8 271.5L1567.6 273.6L1568.4 271.4L1569.2 273.6L1570.0 271.4L1570.8 273.7L1571.6 272.6L1572.4 271.6L1573.2 272.3L1574.0 271.2L1574.8 270.4L1575.6 270.6L1576.4 272.0L1577.2 270.7L1578.0 272.8L1578.8 273.0L1579.6 272.9L1580.4 271.6L1581.2 272.4L1582.0 272.4L1582.8 274.3L1583.6 271.4L1584.4 272.0L1585.2 272.2L1586.0 272.4L1586.8 271.6L1587.6 271.8L1588.4 274.1L1589.2 271.9L1590.0 274.1L1590.8 275.7L1591.6 274.7L1592.4 270.4L1593.2 274.0L1594.0 273.7L1594.8 273.8L1595.6 270.8L1596.4 274.2L1597.2 271.6L1598.0 275.0L1598.8 274.7L1599.6 276.8L1600.4 272.7L1601.2 271.2L1602.0 274.8L1602.8 274.6L1603.6 272.9L1604.4 275.4L1605.2 274.5L1606.0 271.7L1606.8 273.1L1607.6 273.0L1608.4 273.5L1609.2 274.0L1610.0 272.7L1610.8 273.5L1611.6 274.6L1612.4 273.7L1613.2 273.5L1614.0 273.4L1614.8 273.7L1615.6 271.2L1616.4 274.2L1617.2 272.5L1618.0 274.1L1618.8 271.9L1619.6 275.3L1620.4 274.4L1621.2 272.2L1622.0 274.4L1622.8 273.0L1623.6 276.6L1624.4 274.8L1625.2 273.0L1626.0 274.4L1626.8 274.1L1627.6 275.8L1628.4 274.6L1629.2 274.9L1630.0 272.6L1630.8 275.3L1631.6 277.1L1632.4 275.1L1633.2 274.1L1634.0 274.4L1634.8 272.9L1635.6 274.5L1636.4 272.7L1637.2 274.3L1638.0 273.7L1638.8 273.1L1639.6 275.0L1640.4 272.1L1641.2 274.2L1642.0 272.4L1642.8 276.8L1643.6 277.0L1644.4 275.4L1645.2 276.9L1646.0 275.1L1646.8 275.0L1647.6 273.7L1648.4 273.0L1649.2 274.5L1650.0 273.5L1650.8 273.7L1651.6 275.3L1652.4 274.1L1653.2 272.1L1654.0 274.0L1654.8 273.3L1655.6 273.9L1656.4 272.8L1657.2 276.0L1658.0 277.0L1658.8 272.8L1659.6 275.3L1660.4 275.2L1661.2 272.9L1662.0 274.6L1662.8 276.4L1663.6 275.7L1664.4 276.8L1665.2 272.9L1666.0 273.5L1666.8 275.0L1667.6 275.1L1668.4 274.7L1669.2 274.2L1670.0 274.2L1670.8 274.0L1671.6 275.5L1672.4 271.1L1673.2 277.2L1674.0 274.3L1674.8 273.1L1675.6 275.9L1676.4 273.3L1677.2 275.8L1678.0 274.8L1678.8 276.3L1679.6 276.6L1680.4 277.4L1681.2 275.0L1682.0 275.4L1682.8 276.0L1683.6 274.1L1684.4 277.1L1685.2 276.6L1686.0 274.7L1686.8 278.5L1687.6 278.9L1688.4 275.3L1689.2 278.2L1690.0 279.3L1690.8 278.9L1691.6 276.6L1692.4 276.2L1693.2 278.2L1694.0 277.8L1694.8 278.7L1695.6 278.7L1696.4 279.7L1697.2 278.4L1698.0 279.1L1698.8 283.6L1699.6 279.4L1700.4 280.7L1701.2 280.2L1702.0 280.3L1702.8 278.8L1703.6 281.0L1704.4 280.3L1705.2 281.6L1706.0 283.5L1706.8 281.0L1707.6 282.0L1708.4 279.6L1709.2 281.3L1710.0 283.4L1710.8 281.3L1711.6 280.6L1712.4 281.9L1713.2 281.5L1714.0 281.5L1714.8 281.5L1715.6 284.9L1716.4 281.0L1717.2 281.8L1718.0 281.7L1718.8 284.3L1719.6 282.3L1720.4 284.6L1721.2 283.2L1722.0 283.0L1722.8 281.1L1723.6 285.0L1724.4 284.1L1725.2 284.1L1726.0 283.4L1726.8 283.1L1727.6 282.0L1728.4 285.2L1729.2 284.4L1730.0 283.6L1730.8 283.3L1731.6 284.5L1732.4 284.3L1733.2 286.8L1734.0 285.7L1734.8 283.9L1735.6 283.3L1736.4 284.6L1737.2 283.7L1738.0 285.2L1738.8 285.8L1739.6 286.2L1740.4 286.0L1741.2 285.2L1742.0 286.4L1742.8 284.4L1743.6 285.6L1744.4 286.9L1745.2 286.3L1746.0 284.2L1746.8 284.5L1747.6 283.9L1748.4 288.8L1749.2 284.1L1750.0 286.2L1750.8 289.1L1751.6 288.1L1752.4 288.5L1753.2 286.0L1754.0 287.8L1754.8 291.1L1755.6 286.9L1756.4 287.6L1757.2 286.7L1758.0 287.2L1758.8 287.8L1759.6 289.3L1760.4 286.2L1761.2 285.5L1762.0 287.6L1762.8 287.9L1763.6 289.7L1764.4 288.8L1765.2 287.0L1766.0 288.8L1766.8 289.6L1767.6 288.5L1768.4 287.7L1769.2 289.2L1770.0 287.8L1770.8 285.8L1771.6 290.4L1772.4 286.8L1773.2 288.2L1774.0 288.3L1774.8 288.3L1775.6 288.5L1776.4 287.0L1777.2 289.8L1778.0 289.2L1778.8 289.3L1779.6 290.8L1780.4 290.9L1781.2 291.3L1782.0 292.1L1782.8 290.2L1783.6 287.5L1784.4 290.0L1785.2 289.8L1786.0 290.0L1786.8 289.1L1787.6 288.8L1788.4 291.2L1789.2 291.6L1790.0 288.7L1790.8 291.1L1791.6 290.2L1792.4 290.0L1793.2 291.5L1794.0 290.6L1794.8 290.0L1795.6 290.9L1796.4 288.1L1797.2 290.1L1798.0 290.4L1798.8 289.1L1799.6 291.4L1800.4 291.6L1801.2 290.5L1802.0 291.2L1802.8 292.4L1803.6 293.0L1804.4 290.6L1805.2 292.2L1806.0 293.2L1806.8 291.8L1807.6 290.8L1808.4 290.9L1809.2 291.6L1810.0 290.7L1810.8 295.0L1811.6 291.5L1812.4 292.9L1813.2 292.7L1814.0 293.4L1814.8 292.0L1815.6 290.8L1816.4 295.0L1817.2 292.6L1818.0 293.0L1818.8 293.2L1819.6 294.7L1820.4 294.1L1821.2 294.7L1822.0 294.3L1822.8 293.4L1823.6 293.6L1824.4 292.3L1825.2 290.7L1826.0 293.1L1826.8 292.0L1827.6 297.2L1828.4 295.8L1829.2 295.4L1830.0 293.0L1830.8 296.7L1831.6 291.5L1832.4 292.3L1833.2 292.9L1834.0 292.8L1834.8 294.4L1835.6 294.5L1836.4 297.0L1837.2 295.8L1838.0 296.1L1838.8 295.1L1839.6 294.4L1840.4 293.7L1841.2 292.6L1842.0 293.6L1842.8 294.3L1843.6 296.0L1844.4 292.6L1845.2 293.1L1846.0 295.4L1846.8 293.7L1847.6 295.8L1848.4 294.8L1849.2 294.4L1850.0 293.7L1850.8 295.5L1851.6 294.7L1852.4 294.9L1853.2 295.0L1854.0 296.2L1854.8 296.3L1855.6 293.7L1856.4 296.0L1857.2 296.9L1858.0 297.9L1858.8 297.6L1859.6 296.9L1860.4 295.1L1861.2 295.7L1862.0 298.2L1862.8 296.0L1863.6 298.6L1864.4 299.0L1865.2 295.8L1866.0 298.0L1866.8 297.4L1867.6 300.5L1868.4 298.9L1869.2 297.1L1870.0 298.5L1870.8 296.7L1871.6 297.9L1872.4 298.5L1873.2 298.5L1874.0 298.8L1874.8 297.2L1875.6 296.0L1876.4 298.2L1877.2 297.5L1878.0 297.9L1878.8 301.9L1879.6 300.7L1880.4 298.9L1881.2 297.2L1882.0 297.5L1882.8 299.9L1883.6 300.9L1884.4 299.1L1885.2 299.8L1886.0 300.0L1886.8 301.2L1887.6 297.1L1888.4 300.1L1889.2 300.5L1890.0 301.3L1890.8 300.6L1891.6 298.6L1892.4 299.4L1893.2 298.1L1894.0 300.6L1894.8 300.6L1895.6 301.2L1896.4 299.1L1897.2 299.0L1898.0 302.8L1898.8 300.9L1899.6 303.2L1900.4 301.4L1901.2 298.8L1902.0 302.0L1902.8 302.7L1903.6 300.4L1904.4 298.4L1905.2 302.1L1906.0 301.0L1906.8 301.7L1907.6 297.6L1908.4 302.0L1909.2 297.6L1910.0 300.3L1910.8 302.8L1911.6 299.0L1912.4 299.0L1913.2 301.1L1914.0 304.1L1914.8 304.1L1915.6 301.0L1916.4 303.3L1917.2 302.8L1918.0 302.4L1918.8 302.6L1919.6 301.1L1920.4 303.3L1921.2 303.7L1922.0 306.1L1922.8 303.6L1923.6 298.9L1924.4 300.7L1925.2 302.9L1926.0 302.6L1926.8 299.9L1927.6 302.4L1928.4 302.1L1929.2 302.6L1930.0 302.6L1930.8 304.1L1931.6 304.9L1932.4 303.8L1933.2 301.4L1934.0 301.7L1934.8 302.1L1935.6 303.0L1936.4 302.5L1937.2 302.6L1938.0 301.9L1938.8 304.6L1939.6 304.5L1940.4 304.6L1941.2 303.2L1942.0 304.0L1942.8 302.2L1943.6 302.1L1944.4 302.8L1945.2 304.4L1946.0 303.4L1946.8 302.1L1947.6 303.9L1948.4 304.4L1949.2 304.0L1950.0 302.9L1950.8 304.0L1951.6 303.4L1952.4 303.6L1953.2 303.9L1954.0 305.2L1954.8 306.7L1955.6 306.4L1956.4 305.2L1957.2 303.8L1958.0 304.0L1958.8 304.1L1959.6 306.1L1960.4 300.7L1961.2 305.0L1962.0 301.9L1962.8 304.7L1963.6 306.7L1964.4 303.6L1965.2 301.7L1966.0 306.8L1966.8 307.1L1967.6 305.8L1968.4 306.9L1969.2 304.1L1970.0 306.9L1970.8 307.7L1971.6 306.3L1972.4 305.8L1973.2 307.3L1974.0 307.1L1974.8 304.6L1975.6 307.6L1976.4 306.8L1977.2 306.0L1978.0 307.7L1978.8 307.2L1979.6 307.0L1980.4 305.3L1981.2 307.2L1982.0 304.5L1982.8 305.9L1983.6 303.8L1984.4 303.8L1985.2 306.9L1986.0 306.2L1986.8 306.4L1987.6 307.2L1988.4 306.9L1989.2 305.2L1990.0 306.6L1990.8 306.4L1991.6 305.8L1992.4 306.4L1993.2 306.1L1994.0 305.7L1994.8 306.2L1995.6 307.0L1996.4 309.6L1997.2 305.6L1998.0 307.5L1998.8 304.7L1999.6 309.0L2000.4 306.4L2001.2 307.1L2002.0 308.7L2002.8 308.3L2003.6 304.9L2004.4 307.8L2005.2 306.7L2006.0 307.9L2006.8 307.3L2007.6 308.1L2008.4 307.5L2009.2 306.9L2010.0 308.8L2010.8 305.0L2011.6 306.6L2012.4 305.9L2013.2 307.1L2014.0 306.7L2014.8 307.1L2015.6 306.6L2016.4 306.7L2017.2 305.1L2018.0 307.4L2018.8 307.9L2019.6 306.6L2020.4 306.6L2021.2 306.6L2022.0 309.9L2022.8 307.8L2023.6 308.1L2024.4 307.2L2025.2 306.9L2026.0 306.4L2026.8 309.8L2027.6 305.3L2028.4 308.1L2029.2 307.7L2030.0 307.4L2030.8 305.6L2031.6 306.1L2032.4 309.2L2033.2 306.9L2034.0 309.1L2034.8 308.8L2035.6 308.7L2036.4 309.0L2037.2 306.3L2038.0 307.3L2038.8 309.0L2039.6 306.3L2040.4 310.4L2041.2 307.3L2042.0 308.0L2042.8 306.7L2043.6 308.7L2044.4 307.1L2045.2 307.9L2046.0 306.6L2046.8 309.9L2047.6 306.0L2048.4 308.9L2049.2 308.6L2050.0 309.0L2050.8 306.9L2051.6 309.8L2052.4 309.8L2053.2 308.7L2054.0 308.9L2054.8 308.3L2055.6 309.4L2056.4 307.4L2057.2 309.3L2058.0 309.2L2058.8 306.6L2059.6 305.0L2060.4 308.5L2061.2 308.5L2062.0 310.4L2062.8 308.8L2063.6 308.1L2064.4 306.9L2065.2 308.7L2066.0 308.1L2066.8 307.4L2067.6 308.8L2068.4 310.5L2069.2 309.1L2070.0 307.6L2070.8 309.5L2071.6 307.6L2072.4 306.9L2073.2 309.9L2074.0 308.4L2074.8 310.8L2075.6 309.7L2076.4 308.2L2077.2 309.6L2078.0 311.2L2078.8 309.1L2079.6 307.9L2080.4 308.5L2081.2 308.3L2082.0 307.8L2082.8 307.7L2083.6 310.1L2084.4 311.1L2085.2 309.1L2086.0 310.7L2086.8 310.9L2087.6 312.0L2088.4 309.4L2089.2 309.2L2090.0 310.3L2090.8 309.9L2091.6 310.2L2092.4 311.6L2093.2 309.2L2094.0 310.1L2094.8 308.4L2095.6 309.6L2096.4 308.9L2097.2 308.8L2098.0 309.6L2098.8 309.3L2099.6 310.4L2100.4 311.0L2101.2 307.8L2102.0 311.4L2102.8 306.8L2103.6 310.3L2104.4 311.0L2105.2 309.1L2106.0 309.7L2106.8 308.9L2107.6 311.3L2108.4 305.6L2109.2 308.7L2110.0 307.4L2110.8 310.4L2111.6 311.9L2112.4 311.8L2113.2 311.1L2114.0 310.5L2114.8 309.1L2115.6 311.9L2116.4 311.0L2117.2 309.0L2118.0 308.4L2118.8 309.3L2119.6 311.7L2120.4 311.9L2121.2 312.5L2122.0 309.1L2122.8 309.7L2123.6 312.1L2124.4 310.5L2125.2 311.3L2126.0 308.4L2126.8 309.7L2127.6 310.2L2128.4 309.7L2129.2 309.6L2130.0 307.9L2130.8 312.5L2131.6 310.4L2132.4 308.2L2133.2 311.7L2134.0 310.3L2134.8 311.2" fill="none" stroke="#ff8000" stroke-width="6.0" stroke-linejoin="round" stroke-linecap="butt" shape-rendering="crispEdges"/>
<path d="M141.2 645.5L142.0 644.5L142.8 644.5L143.6 641.7L144.4 647.1L145.2 646.1L146.0 644.1L146.8 645.4L147.6 644.6L148.4 643.4L149.2 645.2L150.0 643.4L150.8 643.2L151.6 642.5L152.4 644.0L153.2 643.1L154.0 643.8L154.8 642.1L155.6 642.9L156.4 641.4L157.2 643.5L158.0 642.5L158.8 642.5L159.6 642.4L160.4 640.4L161.2 642.6L162.0 644.1L162.8 639.1L163.6 638.8L164.4 638.9L165.2 641.8L166.0 640.6L166.8 641.7L167.6 641.0L168.4 640.2L169.2 640.1L170.0 639.3L170.8 640.4L171.6 637.6L172.4 638.3L173.2 639.0L174.0 640.8L174.8 637.2L175.6 636.6L176.4 637.0L177.2 638.8L178.0 637.0L178.8 638.8L179.6 634.4L180.4 638.1L181.2 637.7L182.0 634.3L182.8 636.1L183.6 637.2L184.4 635.5L185.2 636.4L186.0 638.0L186.8 635.0L187.6 634.1L188.4 633.2L189.2 634.8L190.0 633.4L190.8 633.2L191.6 633.1L192.4 633.8L193.2 631.4L194.0 630.5L194.8 629.1L195.6 633.6L196.4 631.9L197.2 633.6L198.0 631.4L198.8 630.2L199.6 631.5L200.4 630.6L201.2 628.8L202.0 629.1L202.8 632.3L203.6 630.3L204.4 630.1L205.2 629.0L206.0 628.2L206.8 630.1L207.6 628.5L208.4 627.5L209.2 628.0L210.0 626.8L210.8 628.0L211.6 629.0L212.4 626.2L213.2 629.0L214.0 626.0L214.8 626.9L215.6 625.3L216.4 625.9L217.2 626.1L218.0 625.2L218.8 624.6L219.6 624.4L220.4 624.0L221.2 622.9L222.0 624.3L222.8 625.0L223.6 625.4L224.4 624.9L225.2 627.0L226.0 624.0L226.8 622.8L227.6 625.6L228.4 621.5L229.2 623.9L230.0 621.2L230.8 622.7L231.6 619.4L232.4 622.9L233.2 621.3L234.0 620.0L234.8 623.3L235.6 621.8L236.4 620.7L237.2 619.4L238.0 620.1L238.8 619.7L239.6 620.7L240.4 620.6L241.2 618.4L242.0 618.4L242.8 618.2L243.6 616.9L244.4 617.7L245.2 618.2L246.0 619.0L246.8 619.6L247.6 616.7L248.4 618.3L249.2 616.8L250.0 619.9L250.8 617.0L251.6 617.5L252.4 615.5L253.2 615.5L254.0 616.7L254.8 615.8L255.6 616.6L256.4 613.9L257.2 616.7L258.0 614.5L258.8 617.8L259.6 615.1L260.4 616.8L261.2 613.4L262.0 615.6L262.8 613.8L263.6 614.2L264.4 614.7L265.2 614.2L266.0 614.8L266.8 615.3L267.6 615.1L268.4 614.0L269.2 612.2L270.0 612.8L270.8 613.5L271.6 610.9L272.4 614.5L273.2 613.0L274.0 612.9L274.8 614.3L275.6 613.8L276.4 613.1L277.2 611.3L278.0 612.9L278.8 612.8L279.6 611.0L280.4 613.3L281.2 612.4L282.0 609.0L282.8 611.5L283.6 609.5L284.4 612.4L285.2 611.7L286.0 609.0L286.8 609.1L287.6 610.1L288.4 609.4L289.2 611.5L290.0 610.2L290.8 608.6L291.6 609.5L292.4 605.9L293.2 608.7L294.0 609.1L294.8 607.5L295.6 606.6L296.4 608.0L297.2 609.6L298.0 607.1L298.8 605.1L299.6 608.3L300.4 603.7L301.2 606.6L302.0 605.0L302.8 606.8L303.6 604.3L304.4 607.0L305.2 605.5L306.0 602.8L306.8 602.3L307.6 604.4L308.4 606.3L309.2 604.7L310.0 604.5L310.8 604.1L311.6 605.2L312.4 604.7L313.2 604.5L314.0 602.7L314.8 605.5L315.6 605.6L316.4 602.1L317.2 606.7L318.0 604.6L318.8 602.9L319.6 601.0L320.4 604.3L321.2 604.1L322.0 602.5L322.8 600.9L323.6 604.6L324.4 602.3L325.2 602.4L326.0 606.7L326.8 605.7L327.6 604.1L328.4 602.2L329.2 603.5L330.0 599.6L330.8 602.7L331.6 601.5L332.4 600.7L333.2 600.2L334.0 602.9L334.8 602.2L335.6 602.2L336.4 603.0L337.2 600.7L338.0 600.1L338.8 599.3L339.6 601.1L340.4 602.4L341.2 601.1L342.0 602.0L342.8 599.5L343.6 600.4L344.4 599.9L345.2 599.1L346.0 603.0L346.8 601.6L347.6 599.4L348.4 599.3L349.2 600.1L350.0 598.2L350.8 600.5L351.6 598.1L352.4 599.2L353.2 598.2L354.0 598.8L354.8 597.6L355.6 597.1L356.4 597.8L357.2 598.0L358.0 598.4L358.8 598.7L359.6 600.5L360.4 599.4L361.2 597.9L362.0 599.0L362.8 597.1L363.6 599.7L364.4 598.4L365.2 595.8L366.0 598.3L366.8 598.2L367.6 593.5L368.4 595.9L369.2 596.1L370.0 594.0L370.8 594.9L371.6 594.9L372.4 596.6L373.2 596.1L374.0 599.0L374.8 594.9L375.6 596.7L376.4 595.1L377.2 595.1L378.0 593.1L378.8 591.9L379.6 593.2L380.4 595.0L381.2 595.9L382.0 594.4L382.8 594.1L383.6 592.2L384.4 595.1L385.2 594.7L386.0 592.1L386.8 592.5L387.6 591.2L388.4 594.2L389.2 592.7L390.0 591.9L390.8 592.4L391.6 592.3L392.4 591.1L393.2 589.9L394.0 589.7L394.8 589.0L395.6 591.7L396.4 593.9L397.2 588.7L398.0 591.0L398.8 591.3L399.6 589.4L400.4 590.8L401.2 589.0L402.0 591.9L402.8 589.5L403.6 590.2L404.4 590.9L405.2 589.3L406.0 587.4L406.8 588.9L407.6 590.4L408.4 589.1L409.2 589.4L410.0 587.5L410.8 588.8L411.6 589.2L412.4 588.0L413.2 590.1L414.0 586.9L414.8 585.4L415.6 584.2L416.4 587.3L417.2 585.2L418.0 586.1L418.8 584.9L419.6 586.0L420.4 585.0L421.2 582.4L422.0 582.8L422.8 583.4L423.6 579.9L424.4 583.0L425.2 582.3L426.0 581.7L426.8 579.8L427.6 580.2L428.4 578.2L429.2 579.5L430.0 578.4L430.8 579.1L431.6 578.2L432.4 579.1L433.2 580.1L434.0 576.7L434.8 579.4L435.6 575.5L436.4 575.2L437.2 577.7L438.0 577.7L438.8 578.2L439.6 575.3L440.4 577.2L441.2 577.3L442.0 578.6L442.8 576.7L443.6 577.4L444.4 575.2L445.2 576.0L446.0 575.5L446.8 576.8L447.6 574.3L448.4 574.3L449.2 575.8L450.0 577.1L450.8 575.0L451.6 574.6L452.4 573.4L453.2 575.0L454.0 573.9L454.8 575.1L455.6 572.9L456.4 570.9L457.2 571.0L458.0 570.1L458.8 569.3L459.6 572.2L460.4 571.2L461.2 568.1L462.0 571.6L462.8 569.2L463.6 567.2L464.4 568.5L465.2 567.4L466.0 566.1L466.8 564.0L467.6 566.1L468.4 565.9L469.2 561.6L470.0 565.1L470.8 564.6L471.6 562.5L472.4 562.7L473.2 561.6L474.0 560.3L474.8 560.3L475.6 561.9L476.4 557.7L477.2 559.3L478.0 558.6L478.8 556.8L479.6 556.5L480.4 554.6L481.2 554.7L482.0 555.1L482.8 554.8L483.6 552.4L484.4 556.8L485.2 551.2L486.0 551.3L486.8 549.9L487.6 548.8L488.4 550.0L489.2 546.7L490.0 548.1L490.8 546.8L491.6 542.9L492.4 544.5L493.2 541.2L494.0 544.5L494.8 539.2L495.6 537.3L496.4 534.7L497.2 534.3L498.0 533.9L498.8 532.0L499.6 530.4L500.4 529.7L501.2 529.0L502.0 529.8L502.8 524.3L503.6 524.4L504.4 522.4L505.2 520.2L506.0 519.0L506.8 518.0L507.6 518.7L508.4 516.0L509.2 514.1L510.0 514.1L510.8 512.3L511.6 510.3L512.4 509.6L513.2 506.5L514.0 506.8L514.8 505.0L515.6 502.4L516.4 499.8L517.2 502.0L518.0 498.9L518.8 501.6L519.6 495.9L520.4 497.3L521.2 495.2L522.0 495.7L522.8 496.1L523.6 493.7L524.4 494.3L525.2 494.4L526.0 494.1L526.8 494.5L527.6 495.0L528.4 494.6L529.2 493.8L530.0 493.1L530.8 492.2L531.6 492.9L532.4 493.5L533.2 495.4L534.0 494.4L534.8 493.6L535.6 496.5L536.4 495.1L537.2 495.5L538.0 496.6L538.8 497.9L539.6 494.5L540.4 496.6L541.2 498.7L542.0 498.5L542.8 498.3L543.6 499.1L544.4 502.1L545.2 500.1L546.0 502.0L546.8 502.5L547.6 501.2L548.4 502.7L549.2 501.8L550.0 501.9L550.8 501.6L551.6 504.5L552.4 503.2L553.2 503.3L554.0 502.8L554.8 506.8L555.6 505.7L556.4 504.7L557.2 504.1L558.0 503.2L558.8 505.6L559.6 505.6L560.4 503.3L561.2 506.4L562.0 505.7L562.8 503.1L563.6 503.3L564.4 503.1L565.2 503.5L566.0 502.7L566.8 500.4L567.6 504.0L568.4 502.1L569.2 503.0L570.0 502.6L570.8 500.4L571.6 500.8L572.4 501.0L573.2 500.8L574.0 499.3L574.8 498.4L575.6 499.0L576.4 497.6L577.2 497.7L578.0 495.5L578.8 497.9L579.6 496.2L580.4 496.5L581.2 496.9L582.0 497.0L582.8 498.7L583.6 496.2L584.4 493.8L585.2 495.4L586.0 494.1L586.8 495.0L587.6 493.2L588.4 492.8L589.2 492.7L590.0 492.1L590.8 490.1L591.6 491.2L592.4 491.6L593.2 492.7L594.0 490.3L594.8 489.7L595.6 490.4L596.4 489.8L597.2 490.6L598.0 488.7L598.8 487.3L599.6 488.5L600.4 488.0L601.2 484.7L602.0 484.7L602.8 481.5L603.6 482.4L604.4 480.9L605.2 480.9L606.0 479.7L606.8 479.2L607.6 478.4L608.4 478.3L609.2 477.1L610.0 475.2L610.8 473.4L611.6 475.8L612.4 475.1L613.2 471.8L614.0 472.2L614.8 468.5L615.6 467.5L616.4 468.3L617.2 469.6L618.0 465.4L618.8 464.7L619.6 466.9L620.4 461.4L621.2 463.6L622.0 462.3L622.8 460.3L623.6 459.6L624.4 461.6L625.2 455.6L626.0 455.7L626.8 454.9L627.6 453.7L628.4 452.4L629.2 455.7L630.0 453.5L630.8 450.5L631.6 451.5L632.4 452.7L633.2 452.4L634.0 449.8L634.8 451.5L635.6 451.9L636.4 452.1L637.2 452.1L638.0 449.3L638.8 454.1L639.6 452.0L640.4 454.2L641.2 455.6L642.0 451.8L642.8 450.5L643.6 453.3L644.4 452.1L645.2 451.8L646.0 451.2L646.8 454.8L647.6 452.3L648.4 451.4L649.2 453.0L650.0 452.5L650.8 454.7L651.6 454.5L652.4 454.2L653.2 457.0L654.0 455.9L654.8 458.3L655.6 459.5L656.4 457.9L657.2 458.0L658.0 459.5L658.8 460.8L659.6 460.1L660.4 460.7L661.2 460.9L662.0 461.8L662.8 462.7L663.6 461.3L664.4 462.0L665.2 463.0L666.0 462.4L666.8 463.6L667.6 464.3L668.4 463.7L669.2 462.9L670.0 462.6L670.8 465.7L671.6 464.4L672.4 461.5L673.2 461.5L674.0 464.7L674.8 463.8L675.6 461.6L676.4 462.5L677.2 458.6L678.0 460.1L678.8 460.7L679.6 456.9L680.4 457.9L681.2 459.5L682.0 459.4L682.8 456.6L683.6 457.2L684.4 458.4L685.2 455.4L686.0 453.8L686.8 455.3L687.6 454.8L688.4 457.0L689.2 455.5L690.0 454.3L690.8 458.5L691.6 454.8L692.4 456.2L693.2 456.5L694.0 456.7L694.8 456.0L695.6 456.6L696.4 455.9L697.2 454.3L698.0 455.9L698.8 456.1L699.6 456.3L700.4 456.9L701.2 456.1L702.0 458.9L702.8 459.5L703.6 455.0L704.4 458.2L705.2 457.6L706.0 455.6L706.8 459.9L707.6 459.0L708.4 459.7L709.2 459.7L710.0 462.4L710.8 463.1L711.6 462.3L712.4 463.3L713.2 462.8L714.0 463.7L714.8 463.1L715.6 464.7L716.4 464.3L717.2 466.3L718.0 467.4L718.8 467.3L719.6 469.0L720.4 471.6L721.2 465.9L722.0 469.2L722.8 468.9L723.6 469.6L724.4 469.0L725.2 471.4L726.0 471.5L726.8 471.5L727.6 472.6L728.4 472.7L729.2 470.9L730.0 475.9L730.8 474.6L731.6 474.3L732.4 476.4L733.2 475.6L734.0 474.1L734.8 478.6L735.6 475.7L736.4 478.1L737.2 479.0L738.0 481.1L738.8 481.3L739.6 480.5L740.4 479.7L741.2 480.6L742.0 483.0L742.8 484.4L743.6 483.2L744.4 482.1L745.2 484.7L746.0 483.4L746.8 483.8L747.6 484.5L748.4 486.1L749.2 486.1L750.0 487.5L750.8 488.3L751.6 487.7L752.4 484.3L753.2 485.4L754.0 488.0L754.8 487.9L755.6 490.9L756.4 488.1L757.2 488.1L758.0 489.6L758.8 489.8L759.6 488.2L760.4 489.2L761.2 487.2L762.0 487.6L762.8 490.6L763.6 487.5L764.4 490.8L765.2 490.9L766.0 491.5L766.8 492.1L767.6 492.1L768.4 489.1L769.2 491.1L770.0 492.0L770.8 494.4L771.6 492.1L772.4 493.0L773.2 493.7L774.0 496.0L774.8 492.5L775.6 492.6L776.4 495.0L777.2 491.1L778.0 493.8L778.8 492.3L779.6 490.3L780.4 491.3L781.2 490.0L782.0 491.0L782.8 490.8L783.6 491.9L784.4 489.7L785.2 489.7L786.0 488.6L786.8 489.1L787.6 490.4L788.4 486.4L789.2 489.6L790.0 487.9L790.8 488.6L791.6 488.8L792.4 489.4L793.2 488.4L794.0 487.5L794.8 488.3L795.6 487.8L796.4 487.3L797.2 487.7L798.0 488.4L798.8 487.3L799.6 487.1L800.4 484.9L801.2 486.1L802.0 483.4L802.8 486.4L803.6 483.8L804.4 486.2L805.2 488.0L806.0 483.1L806.8 484.8L807.6 483.2L808.4 481.5L809.2 480.7L810.0 482.2L810.8 482.9L811.6 481.3L812.4 478.7L813.2 479.2L814.0 480.2L814.8 482.3L815.6 480.9L816.4 481.0L817.2 482.3L818.0 480.6L818.8 480.8L819.6 480.9L820.4 479.0L821.2 482.1L822.0 482.2L822.8 483.2L823.6 480.6L824.4 481.4L825.2 483.9L826.0 483.4L826.8 485.0L827.6 482.4L828.4 484.3L829.2 483.7L830.0 485.6L830.8 485.3L831.6 487.5L832.4 489.0L833.2 489.3L834.0 486.9L834.8 491.4L835.6 491.5L836.4 490.3L837.2 491.3L838.0 493.1L838.8 494.6L839.6 493.9L840.4 493.1L841.2 496.3L842.0 496.9L842.8 500.5L843.6 496.4L844.4 502.1L845.2 501.9L846.0 500.8L846.8 503.4L847.6 502.2L848.4 504.3L849.2 503.0L850.0 505.1L850.8 504.7L851.6 505.0L852.4 507.8L853.2 508.3L854.0 511.0L854.8 513.1L855.6 512.3L856.4 513.7L857.2 515.0L858.0 513.7L858.8 517.3L859.6 518.1L860.4 519.3L861.2 519.2L862.0 519.3L862.8 522.8L863.6 524.7L864.4 527.1L865.2 527.7L866.0 528.9L866.8 528.1L867.6 529.8L868.4 528.6L869.2 530.2L870.0 531.1L870.8 533.9L871.6 531.1L872.4 529.6L873.2 533.5L874.0 531.0L874.8 532.4L875.6 532.4L876.4 532.0L877.2 535.3L878.0 534.7L878.8 533.5L879.6 534.8L880.4 534.5L881.2 536.2L882.0 535.3L882.8 535.2L883.6 535.8L884.4 536.4L885.2 537.8L886.0 536.6L886.8 538.0L887.6 539.1L888.4 541.9L889.2 540.3L890.0 535.7L890.8 539.3L891.6 539.7L892.4 541.0L893.2 542.9L894.0 542.2L894.8 538.5L895.6 542.2L896.4 542.3L897.2 542.9L898.0 544.5L898.8 541.6L899.6 544.7L900.4 541.4L901.2 543.9L902.0 544.6L902.8 547.3L903.6 543.7L904.4 542.7L905.2 546.0L906.0 544.5L906.8 547.6L907.6 544.9L908.4 544.8L909.2 547.8L910.0 546.5L910.8 547.8L911.6 544.8L912.4 549.0L913.2 546.2L914.0 548.2L914.8 545.9L915.6 545.3L916.4 547.1L917.2 547.8L918.0 549.8L918.8 548.3L919.6 548.9L920.4 548.9L921.2 552.2L922.0 547.2L922.8 550.0L923.6 548.2L924.4 548.9L925.2 547.9L926.0 550.2L926.8 547.2L927.6 547.2L928.4 548.8L929.2 547.7L930.0 550.2L930.8 550.6L931.6 548.5L932.4 550.7L933.2 548.9L934.0 549.9L934.8 550.1L935.6 552.7L936.4 550.4L937.2 549.4L938.0 549.5L938.8 552.4L939.6 548.9L940.4 550.6L941.2 550.9L942.0 548.4L942.8 551.1L943.6 553.2L944.4 552.4L945.2 551.1L946.0 553.4L946.8 553.3L947.6 555.5L948.4 552.1L949.2 552.7L950.0 553.5L950.8 553.4L951.6 553.9L952.4 553.8L953.2 553.3L954.0 552.3L954.8 553.8L955.6 552.9L956.4 553.5L957.2 554.3L958.0 555.9L958.8 556.5L959.6 554.2L960.4 556.1L961.2 556.9L962.0 556.0L962.8 554.1L963.6 553.6L964.4 557.6L965.2 557.9L966.0 557.2L966.8 555.6L967.6 559.1L968.4 558.9L969.2 557.4L970.0 557.4L970.8 555.3L971.6 559.0L972.4 556.1L973.2 559.3L974.0 559.5L974.8 558.9L975.6 561.0L976.4 558.7L977.2 560.1L978.0 560.5L978.8 560.0L979.6 559.4L980.4 561.7L981.2 560.9L982.0 560.3L982.8 560.6L983.6 561.3L984.4 564.3L985.2 561.8L986.0 561.6L986.8 560.8L987.6 560.9L988.4 560.3L989.2 563.4L990.0 563.4L990.8 562.4L991.6 562.1L992.4 563.9L993.2 563.9L994.0 563.2L994.8 565.6L995.6 565.7L996.4 565.7L997.2 567.0L998.0 565.4L998.8 568.3L999.6 565.5L1000.4 567.7L1001.2 568.0L1002.0 567.1L1002.8 568.1L1003.6 566.1L1004.4 566.0L1005.2 567.9L1006.0 567.4L1006.8 569.3L1007.6 568.7L1008.4 569.7L1009.2 569.4L1010.0 569.5L1010.8 569.5L1011.6 569.0L1012.4 569.1L1013.2 572.5L1014.0 567.7L1014.8 569.9L1015.6 571.6L1016.4 571.0L1017.2 572.4L1018.0 571.4L1018.8 569.2L1019.6 570.5L1020.4 569.2L1021.2 572.4L1022.0 573.1L1022.8 570.7L1023.6 572.1L1024.4 570.9L1025.2 569.6L1026.0 571.0L1026.8 569.5L1027.6 570.9L1028.4 571.9L1029.2 572.6L1030.0 573.4L1030.8 571.3L1031.6 572.1L1032.4 572.3L1033.2 572.5L1034.0 568.1L1034.8 570.8L1035.6 572.9L1036.4 570.4L1037.2 572.2L1038.0 573.0L1038.8 569.4L1039.6 571.7L1040.4 572.2L1041.2 572.0L1042.0 570.0L1042.8 572.4L1043.6 571.3L1044.4 573.1L1045.2 572.6L1046.0 571.4L1046.8 572.3L1047.6 571.2L1048.4 571.3L1049.2 570.1L1050.0 571.9L1050.8 573.3L1051.6 572.5L1052.4 572.4L1053.2 571.7L1054.0 571.9L1054.8 573.7L1055.6 570.9L1056.4 575.7L1057.2 573.0L1058.0 576.1L1058.8 574.9L1059.6 573.0L1060.4 574.7L1061.2 574.2L1062.0 574.6L1062.8 575.2L1063.6 573.6L1064.4 573.7L1065.2 574.1L1066.0 573.0L1066.8 574.5L1067.6 575.3L1068.4 575.5L1069.2 575.5L1070.0 574.8L1070.8 576.5L1071.6 572.9L1072.4 575.1L1073.2 575.2L1074.0 576.9L1074.8 576.6L1075.6 576.9L1076.4 575.9L1077.2 577.1L1078.0 574.6L1078.8 576.1L1079.6 573.3L1080.4 578.3L1081.2 578.1L1082.0 575.3L1082.8 575.0L1083.6 573.4L1084.4 574.2L1085.2 576.4L1086.0 576.0L1086.8 574.4L1087.6 575.7L1088.4 575.5L1089.2 577.0L1090.0 577.3L1090.8 576.2L1091.6 576.7L1092.4 576.5L1093.2 573.9L1094.0 576.9L1094.8 576.6L1095.6 577.8L1096.4 574.5L1097.2 577.9L1098.0 576.2L1098.8 577.5L1099.6 578.8L1100.4 575.4L1101.2 575.8L1102.0 578.9L1102.8 576.3L1103.6 576.7L1104.4 578.9L1105.2 578.0L1106.0 579.4L1106.8 579.0L1107.6 578.7L1108.4 580.2L1109.2 582.0L1110.0 579.2L1110.8 581.4L1111.6 581.2L1112.4 580.0L1113.2 580.7L1114.0 579.0L1114.8 579.6L1115.6 581.0L1116.4 580.7L1117.2 582.7L1118.0 579.5L1118.8 580.9L1119.6 580.7L1120.4 581.4L1121.2 583.3L1122.0 580.4L1122.8 583.2L1123.6 581.5L1124.4 582.0L1125.2 583.9L1126.0 582.4L1126.8 583.8L1127.6 583.2L1128.4 583.0L1129.2 582.9L1130.0 581.3L1130.8 582.7L1131.6 584.1L1132.4 584.3L1133.2 582.2L1134.0 585.6L1134.8 585.2L1135.6 583.0L1136.4 583.5L1137.2 585.6L1138.0 582.9L1138.8 584.4L1139.6 585.4L1140.4 585.5L1141.2 585.8L1142.0 586.5L1142.8 585.2L1143.6 585.7L1144.4 589.2L1145.2 585.0L1146.0 586.4L1146.8 587.4L1147.6 586.6L1148.4 589.2L1149.2 588.0L1150.0 589.1L1150.8 585.0L1151.6 590.1L1152.4 590.3L1153.2 588.1L1154.0 591.0L1154.8 589.9L1155.6 591.0L1156.4 592.3L1157.2 590.3L1158.0 589.1L1158.8 590.6L1159.6 589.2L1160.4 590.0L1161.2 590.2L1162.0 590.4L1162.8 593.0L1163.6 592.7L1164.4 590.6L1165.2 593.4L1166.0 589.8L1166.8 591.3L1167.6 592.0L1168.4 593.8L1169.2 593.3L1170.0 593.0L1170.8 594.2L1171.6 593.5L1172.4 594.4L1173.2 591.7L1174.0 590.5L1174.8 592.3L1175.6 593.9L1176.4 593.2L1177.2 594.1L1178.0 593.9L1178.8 593.7L1179.6 594.2L1180.4 592.2L1181.2 594.6L1182.0 592.0L1182.8 593.2L1183.6 591.5L1184.4 594.1L1185.2 591.5L1186.0 595.4L1186.8 591.9L1187.6 594.1L1188.4 593.7L1189.2 592.8L1190.0 595.7L1190.8 593.6L1191.6 596.2L1192.4 593.1L1193.2 593.5L1194.0 592.1L1194.8 595.6L1195.6 596.2L1196.4 595.5L1197.2 595.2L1198.0 594.4L1198.8 598.8L1199.6 596.9L1200.4 593.7L1201.2 595.9L1202.0 593.1L1202.8 598.8L1203.6 599.5L1204.4 599.0L1205.2 597.3L1206.0 596.8L1206.8 595.9L1207.6 598.6L1208.4 597.2L1209.2 597.8L1210.0 597.7L1210.8 598.3L1211.6 600.0L1212.4 601.2L1213.2 599.4L1214.0 599.4L1214.8 598.1L1215.6 598.1L1216.4 598.5L1217.2 601.2L1218.0 600.5L1218.8 601.6L1219.6 601.1L1220.4 600.2L1221.2 599.2L1222.0 600.5L1222.8 599.3L1223.6 603.9L1224.4 601.8L1225.2 601.2L1226.0 604.4L1226.8 601.4L1227.6 602.8L1228.4 602.0L1229.2 602.9L1230.0 602.1L1230.8 603.4L1231.6 604.7L1232.4 601.4L1233.2 600.3L1234.0 605.1L1234.8 603.7L1235.6 604.8L1236.4 603.4L1237.2 606.0L1238.0 606.5L1238.8 602.7L1239.6 605.3L1240.4 603.7L1241.2 602.6L1242.0 604.4L1242.8 605.7L1243.6 603.3L1244.4 603.6L1245.2 607.0L1246.0 605.6L1246.8 606.2L1247.6 604.3L1248.4 605.1L1249.2 606.3L1250.0 606.5L1250.8 606.6L1251.6 608.6L1252.4 606.9L1253.2 604.8L1254.0 605.8L1254.8 607.0L1255.6 608.9L1256.4 606.4L1257.2 607.0L1258.0 607.6L1258.8 606.8L1259.6 606.8L1260.4 607.7L1261.2 609.5L1262.0 608.9L1262.8 608.1L1263.6 609.1L1264.4 607.0L1265.2 610.2L1266.0 610.0L1266.8 609.5L1267.6 607.1L1268.4 612.1L1269.2 605.7L1270.0 608.4L1270.8 608.6L1271.6 610.9L1272.4 608.1L1273.2 610.5L1274.0 610.2L1274.8 610.1L1275.6 611.8L1276.4 612.6L1277.2 611.4L1278.0 610.7L1278.8 608.2L1279.6 613.2L1280.4 611.1L1281.2 609.1L1282.0 611.9L1282.8 613.8L1283.6 611.8L1284.4 610.6L1285.2 615.2L1286.0 613.2L1286.8 613.0L1287.6 614.0L1288.4 609.9L1289.2 612.8L1290.0 612.8L1290.8 616.2L1291.6 612.6L1292.4 612.7L1293.2 611.7L1294.0 612.6L1294.8 613.5L1295.6 614.3L1296.4 613.8L1297.2 616.9L1298.0 615.0L1298.8 615.3L1299.6 616.4L1300.4 615.6L1301.2 614.2L1302.0 613.0L1302.8 615.7L1303.6 614.3L1304.4 617.2L1305.2 614.6L1306.0 612.9L1306.8 616.0L1307.6 617.6L1308.4 616.0L1309.2 616.7L1310.0 616.9L1310.8 619.1L1311.6 617.5L1312.4 617.2L1313.2 616.6L1314.0 615.5L1314.8 619.7L1315.6 619.6L1316.4 617.0L1317.2 619.2L1318.0 619.1L1318.8 618.3L1319.6 618.6L1320.4 620.2L1321.2 617.8L1322.0 618.9L1322.8 619.7L1323.6 620.0L1324.4 619.9L1325.2 620.6L1326.0 621.2L1326.8 619.5L1327.6 621.0L1328.4 620.3L1329.2 623.2L1330.0 619.5L1330.8 621.2L1331.6 622.6L1332.4 621.4L1333.2 621.5L1334.0 621.4L1334.8 622.6L1335.6 620.8L1336.4 622.4L1337.2 622.5L1338.0 620.8L1338.8 623.2L1339.6 622.4L1340.4 623.6L1341.2 624.4L1342.0 623.9L1342.8 622.0L1343.6 624.1L1344.4 621.7L1345.2 622.9L1346.0 626.3L1346.8 624.2L1347.6 626.4L1348.4 624.2L1349.2 624.6L1350.0 623.2L1350.8 626.1L1351.6 624.7L1352.4 625.9L1353.2 625.8L1354.0 626.1L1354.8 625.9L1355.6 625.6L1356.4 625.8L1357.2 625.0L1358.0 623.3L1358.8 626.9L1359.6 629.1L1360.4 627.9L1361.2 629.7L1362.0 627.4L1362.8 625.7L1363.6 625.8L1364.4 628.2L1365.2 627.8L1366.0 627.3L1366.8 628.6L1367.6 626.6L1368.4 628.6L1369.2 627.6L1370.0 628.3L1370.8 629.8L1371.6 628.2L1372.4 630.3L1373.2 630.3L1374.0 627.7L1374.8 631.8L1375.6 627.2L1376.4 628.8L1377.2 630.0L1378.0 626.1L1378.8 630.6L1379.6 630.8L1380.4 629.2L1381.2 629.8L1382.0 629.8L1382.8 629.3L1383.6 631.0L1384.4 629.2L1385.2 629.7L1386.0 630.3L1386.8 631.0L1387.6 631.4L1388.4 628.1L1389.2 627.4L1390.0 630.0L1390.8 630.1L1391.6 628.9L1392.4 630.7L1393.2 631.2L1394.0 631.0L1394.8 632.7L1395.6 629.2L1396.4 630.7L1397.2 633.3L1398.0 631.7L1398.8 629.4L1399.6 631.2L1400.4 632.6L1401.2 633.9L1402.0 632.1L1402.8 632.8L1403.6 629.9L1404.4 631.1L1405.2 633.1L1406.0 630.4L1406.8 631.7L1407.6 629.4L1408.4 633.9L1409.2 631.8L1410.0 632.8L1410.8 630.2L1411.6 630.6L1412.4 634.8L1413.2 632.0L1414.0 631.8L1414.8 633.3L1415.6 633.5L1416.4 630.3L1417.2 631.7L1418.0 633.1L1418.8 633.1L1419.6 633.7L1420.4 632.7L1421.2 633.0L1422.0 633.8L1422.8 632.7L1423.6 632.6L1424.4 633.0L1425.2 633.9L1426.0 633.7L1426.8 633.4L1427.6 633.8L1428.4 634.1L1429.2 634.7L1430.0 634.9L1430.8 632.8L1431.6 635.9L1432.4 632.6L1433.2 635.5L1434.0 634.0L1434.8 635.7L1435.6 636.5L1436.4 632.7L1437.2 636.1L1438.0 635.8L1438.8 634.9L1439.6 636.1L1440.4 635.1L1441.2 636.0L1442.0 634.6L1442.8 637.1L1443.6 637.0L1444.4 637.3L1445.2 635.6L1446.0 639.0L1446.8 639.3L1447.6 636.8L1448.4 636.5L1449.2 636.6L1450.0 638.2L1450.8 638.7L1451.6 636.5L1452.4 635.0L1453.2 638.3L1454.0 637.8L1454.8 638.2L1455.6 638.7L1456.4 636.7L1457.2 638.3L1458.0 638.0L1458.8 638.9L1459.6 640.1L1460.4 638.6L1461.2 637.6L1462.0 640.5L1462.8 639.9L1463.6 638.7L1464.4 636.7L1465.2 638.0L1466.0 639.5L1466.8 640.1L1467.6 638.7L1468.4 640.1L1469.2 638.8L1470.0 639.1L1470.8 640.4L1471.6 639.4L1472.4 640.0L1473.2 641.0L1474.0 641.4L1474.8 639.2L1475.6 639.7L1476.4 638.3L1477.2 638.4L1478.0 640.5L1478.8 639.4L1479.6 637.7L1480.4 640.8L1481.2 639.1L1482.0 639.8L1482.8 640.8L1483.6 640.8L1484.4 640.2L1485.2 637.7L1486.0 641.0L1486.8 639.5L1487.6 638.5L1488.4 637.5L1489.2 642.1L1490.0 640.6L1490.8 640.6L1491.6 641.3L1492.4 640.4L1493.2 638.6L1494.0 641.5L1494.8 641.9L1495.6 641.3L1496.4 642.7L1497.2 643.2L1498.0 639.8L1498.8 640.3L1499.6 642.1L1500.4 641.2L1501.2 641.3L1502.0 642.3L1502.8 642.1L1503.6 640.6L1504.4 641.4L1505.2 640.4L1506.0 641.1L1506.8 640.0L1507.6 639.0L1508.4 640.9L1509.2 640.9L1510.0 642.9L1510.8 643.8L1511.6 641.9L1512.4 642.5L1513.2 641.2L1514.0 640.9L1514.8 641.8L1515.6 641.8L1516.4 642.7L1517.2 642.5L1518.0 644.6L1518.8 642.3L1519.6 640.5L1520.4 642.9L1521.2 642.0L1522.0 643.2L1522.8 644.5L1523.6 642.2L1524.4 643.1L1525.2 643.9L1526.0 642.1L1526.8 643.7L1527.6 644.2L1528.4 644.6L1529.2 645.0L1530.0 644.4L1530.8 644.2L1531.6 642.0L1532.4 640.3L1533.2 642.6L1534.0 645.8L1534.8 644.1L1535.6 641.1L1536.4 643.5L1537.2 644.5L1538.0 641.7L1538.8 644.9L1539.6 642.7L1540.4 645.6L1541.2 644.3L1542.0 648.3L1542.8 642.6L1543.6 644.7L1544.4 642.5L1545.2 646.0L1546.0 644.7L1546.8 645.8L1547.6 644.7L1548.4 643.1L1549.2 643.9L1550.0 643.2L1550.8 643.5L1551.6 645.1L1552.4 646.4L1553.2 646.2L1554.0 645.9L1554.8 644.6L1555.6 646.1L1556.4 644.4L1557.2 645.9L1558.0 646.8L1558.8 645.6L1559.6 645.3L1560.4 645.5L1561.2 646.9L1562.0 645.8L1562.8 644.4L1563.6 645.8L1564.4 645.0L1565.2 648.4L1566.0 646.5L1566.8 644.6L1567.6 646.8L1568.4 647.4L1569.2 646.9L1570.0 645.9L1570.8 646.4L1571.6 646.5L1572.4 647.3L1573.2 646.3L1574.0 648.6L1574.8 645.2L1575.6 647.3L1576.4 645.2L1577.2 642.9L1578.0 643.4L1578.8 642.5L1579.6 642.6L1580.4 646.3L1581.2 643.8L1582.0 645.5L1582.8 643.6L1583.6 644.7L1584.4 643.4L1585.2 646.0L1586.0 644.6L1586.8 644.4L1587.6 644.9L1588.4 648.0L1589.2 645.8L1590.0 646.4L1590.8 643.9L1591.6 644.7L1592.4 646.1L1593.2 643.4L1594.0 647.7L1594.8 646.4L1595.6 646.2L1596.4 646.1L1597.2 646.1L1598.0 645.9L1598.8 648.5L1599.6 647.7L1600.4 648.5L1601.2 646.6L1602.0 646.0L1602.8 649.0L1603.6 645.7L1604.4 646.6L1605.2 648.4L1606.0 648.9L1606.8 645.9L1607.6 647.3L1608.4 647.8L1609.2 647.6L1610.0 646.8L1610.8 648.8L1611.6 647.4L1612.4 647.8L1613.2 645.3L1614.0 648.1L1614.8 645.8L1615.6 649.3L1616.4 649.1L1617.2 647.8L1618.0 648.7L1618.8 648.7L1619.6 648.4L1620.4 649.1L1621.2 648.5L1622.0 648.1L1622.8 647.7L1623.6 650.9L1624.4 648.9L1625.2 648.7L1626.0 649.6L1626.8 648.1L1627.6 648.1L1628.4 649.5L1629.2 649.9L1630.0 649.4L1630.8 646.6L1631.6 648.5L1632.4 648.4L1633.2 649.0L1634.0 647.2L1634.8 647.0L1635.6 648.1L1636.4 647.1L1637.2 646.8L1638.0 648.1L1638.8 649.3L1639.6 648.3L1640.4 649.5L1641.2 646.7L1642.0 648.9L1642.8 647.9L1643.6 646.8L1644.4 647.4L1645.2 646.8L1646.0 647.6L1646.8 646.9L1647.6 649.4L1648.4 647.3L1649.2 645.9L1650.0 647.5L1650.8 648.2L1651.6 647.3L1652.4 648.8L1653.2 646.5L1654.0 646.5L1654.8 649.7L1655.6 647.6L1656.4 648.3L1657.2 648.2L1658.0 648.2L1658.8 647.5L1659.6 647.2L1660.4 648.8L1661.2 646.7L1662.0 647.4L1662.8 648.1L1663.6 646.6L1664.4 645.0L1665.2 647.5L1666.0 648.2L1666.8 647.0L1667.6 644.5L1668.4 647.4L1669.2 649.0L1670.0 644.5L1670.8 643.0L1671.6 646.2L1672.4 646.7L1673.2 647.7L1674.0 647.8L1674.8 647.0L1675.6 647.7L1676.4 647.6L1677.2 647.5L1678.0 647.5L1678.8 647.5L1679.6 648.8L1680.4 648.6L1681.2 647.8L1682.0 649.9L1682.8 647.8L1683.6 648.7L1684.4 649.3L1685.2 647.0L1686.0 649.1L1686.8 650.9L1687.6 651.0L1688.4 648.7L1689.2 649.3L1690.0 649.2L1690.8 650.5L1691.6 651.0L1692.4 649.3L1693.2 652.0L1694.0 651.9L1694.8 652.0L1695.6 651.5L1696.4 652.4L1697.2 650.6L1698.0 653.4L1698.8 653.7L1699.6 653.5L1700.4 652.4L1701.2 655.8L1702.0 655.9L1702.8 652.3L1703.6 655.5L1704.4 655.3L1705.2 652.1L1706.0 656.2L1706.8 656.6L1707.6 656.8L1708.4 656.3L1709.2 655.4L1710.0 655.8L1710.8 657.2L1711.6 658.2L1712.4 656.3L1713.2 656.7L1714.0 658.1L1714.8 654.6L1715.6 658.0L1716.4 657.3L1717.2 655.0L1718.0 658.9L1718.8 656.9L1719.6 659.2L1720.4 660.0L1721.2 656.8L1722.0 657.0L1722.8 658.6L1723.6 656.6L1724.4 659.8L1725.2 659.3L1726.0 660.4L1726.8 657.0L1727.6 659.6L1728.4 660.1L1729.2 657.4L1730.0 660.9L1730.8 658.1L1731.6 660.2L1732.4 658.5L1733.2 661.2L1734.0 662.5L1734.8 660.6L1735.6 660.7L1736.4 662.4L1737.2 660.3L1738.0 661.1L1738.8 662.2L1739.6 661.8L1740.4 663.4L1741.2 663.0L1742.0 664.1L1742.8 661.8L1743.6 663.3L1744.4 661.0L1745.2 663.3L1746.0 664.5L1746.8 665.4L1747.6 660.9L1748.4 662.4L1749.2 663.7L1750.0 661.8L1750.8 663.7L1751.6 663.8L1752.4 662.6L1753.2 662.7L1754.0 662.3L1754.8 664.0L1755.6 665.3L1756.4 664.2L1757.2 667.5L1758.0 662.2L1758.8 663.5L1759.6 665.2L1760.4 663.0L1761.2 665.0L1762.0 665.7L1762.8 665.0L1763.6 664.7L1764.4 666.3L1765.2 665.7L1766.0 666.3L1766.8 666.2L1767.6 664.8L1768.4 664.4L1769.2 665.4L1770.0 666.3L1770.8 666.0L1771.6 667.6L1772.4 666.8L1773.2 667.9L1774.0 666.9L1774.8 666.0L1775.6 668.1L1776.4 667.8L1777.2 666.2L1778.0 666.8L1778.8 671.0L1779.6 663.2L1780.4 669.1L1781.2 667.8L1782.0 667.7L1782.8 667.5L1783.6 667.3L1784.4 671.1L1785.2 667.6L1786.0 667.8L1786.8 669.3L1787.6 668.8L1788.4 668.2L1789.2 668.1L1790.0 666.8L1790.8 670.0L1791.6 667.3L1792.4 665.6L1793.2 670.1L1794.0 669.8L1794.8 669.3L1795.6 668.3L1796.4 670.5L1797.2 667.7L1798.0 666.3L1798.8 669.4L1799.6 670.2L1800.4 670.1L1801.2 672.0L1802.0 670.5L1802.8 669.1L1803.6 669.2L1804.4 670.7L1805.2 669.5L1806.0 669.5L1806.8 667.5L1807.6 669.4L1808.4 668.2L1809.2 670.2L1810.0 670.2L1810.8 671.0L1811.6 672.5L1812.4 670.0L1813.2 672.2L1814.0 668.9L1814.8 670.7L1815.6 671.8L1816.4 673.2L1817.2 669.3L1818.0 670.5L1818.8 671.1L1819.6 670.9L1820.4 669.9L1821.2 669.1L1822.0 669.7L1822.8 671.3L1823.6 669.8L1824.4 673.9L1825.2 673.3L1826.0 669.4L1826.8 671.3L1827.6 673.8L1828.4 674.1L1829.2 673.7L1830.0 670.5L1830.8 672.0L1831.6 674.3L1832.4 672.9L1833.2 672.3L1834.0 673.6L1834.8 674.4L1835.6 673.4L1836.4 673.6L1837.2 674.8L1838.0 672.8L1838.8 672.5L1839.6 674.8L1840.4 672.4L1841.2 674.7L1842.0 673.2L1842.8 675.4L1843.6 672.8L1844.4 676.0L1845.2 675.0L1846.0 674.3L1846.8 673.7L1847.6 674.7L1848.4 673.9L1849.2 673.6L1850.0 676.7L1850.8 676.2L1851.6 677.1L1852.4 673.9L1853.2 673.2L1854.0 673.8L1854.8 676.8L1855.6 677.1L1856.4 673.8L1857.2 677.6L1858.0 675.8L1858.8 675.0L1859.6 676.5L1860.4 677.5L1861.2 676.6L1862.0 676.8L1862.8 676.0L1863.6 675.4L1864.4 676.8L1865.2 675.3L1866.0 678.3L1866.8 676.6L1867.6 679.5L1868.4 675.8L1869.2 679.8L1870.0 677.0L1870.8 677.1L1871.6 678.7L1872.4 679.6L1873.2 678.5L1874.0 678.2L1874.8 681.4L1875.6 679.6L1876.4 677.4L1877.2 678.8L1878.0 681.4L1878.8 679.8L1879.6 680.5L1880.4 682.2L1881.2 678.9L1882.0 680.2L1882.8 679.0L1883.6 679.9L1884.4 680.7L1885.2 678.4L1886.0 680.4L1886.8 680.5L1887.6 681.8L1888.4 679.8L1889.2 679.0L1890.0 681.3L1890.8 679.4L1891.6 681.2L1892.4 681.8L1893.2 680.0L1894.0 681.1L1894.8 680.0L1895.6 677.7L1896.4 679.6L1897.2 678.9L1898.0 681.7L1898.8 680.4L1899.6 681.7L1900.4 681.9L1901.2 683.5L1902.0 681.7L1902.8 681.8L1903.6 683.0L1904.4 684.6L1905.2 682.5L1906.0 683.1L1906.8 682.5L1907.6 681.9L1908.4 680.9L1909.2 682.9L1910.0 682.7L1910.8 682.8L1911.6 685.8L1912.4 682.8L1913.2 683.8L1914.0 682.9L1914.8 685.0L1915.6 683.2L1916.4 686.0L1917.2 683.3L1918.0 684.7L1918.8 685.1L1919.6 683.5L1920.4 685.0L1921.2 684.0L1922.0 683.0L1922.8 683.1L1923.6 684.5L1924.4 686.4L1925.2 683.5L1926.0 684.9L1926.8 683.2L1927.6 684.6L1928.4 682.6L1929.2 683.3L1930.0 684.4L1930.8 683.4L1931.6 684.1L1932.4 685.8L1933.2 684.4L1934.0 683.6L1934.8 683.0L1935.6 683.9L1936.4 686.2L1937.2 684.6L1938.0 684.5L1938.8 685.7L1939.6 685.9L1940.4 686.1L1941.2 684.4L1942.0 683.7L1942.8 682.8L1943.6 684.1L1944.4 684.5L1945.2 686.0L1946.0 685.5L1946.8 684.4L1947.6 686.3L1948.4 683.6L1949.2 683.9L1950.0 683.7L1950.8 683.9L1951.6 685.0L1952.4 684.3L1953.2 684.5L1954.0 687.2L1954.8 683.6L1955.6 684.2L1956.4 685.3L1957.2 686.3L1958.0 686.4L1958.8 685.4L1959.6 685.3L1960.4 685.5L1961.2 686.9L1962.0 684.8L1962.8 683.0L1963.6 686.3L1964.4 684.6L1965.2 686.1L1966.0 688.0L1966.8 686.4L1967.6 688.7L1968.4 684.3L1969.2 686.7L1970.0 687.0L1970.8 687.6L1971.6 685.6L1972.4 686.9L1973.2 686.9L1974.0 686.9L1974.8 685.0L1975.6 684.6L1976.4 687.6L1977.2 687.4L1978.0 687.1L1978.8 687.9L1979.6 688.5L1980.4 685.7L1981.2 688.3L1982.0 689.2L1982.8 688.7L1983.6 688.2L1984.4 688.4L1985.2 685.7L1986.0 686.9L1986.8 689.0L1987.6 689.6L1988.4 688.3L1989.2 687.2L1990.0 687.7L1990.8 689.0L1991.6 690.6L1992.4 689.1L1993.2 687.4L1994.0 689.0L1994.8 688.8L1995.6 691.4L1996.4 689.1L1997.2 688.4L1998.0 688.3L1998.8 686.9L1999.6 687.2L2000.4 688.0L2001.2 687.6L2002.0 688.9L2002.8 688.9L2003.6 690.0L2004.4 690.8L2005.2 689.1L2006.0 688.7L2006.8 686.6L2007.6 689.6L2008.4 690.0L2009.2 688.2L2010.0 688.7L2010.8 688.4L2011.6 690.7L2012.4 690.2L2013.2 691.0L2014.0 687.9L2014.8 693.0L2015.6 688.5L2016.4 688.3L2017.2 690.0L2018.0 689.0L2018.8 692.2L2019.6 689.3L2020.4 689.0L2021.2 691.2L2022.0 691.6L2022.8 689.0L2023.6 689.5L2024.4 689.7L2025.2 690.0L2026.0 692.5L2026.8 692.0L2027.6 691.8L2028.4 692.1L2029.2 690.5L2030.0 691.7L2030.8 690.5L2031.6 689.6L2032.4 692.8L2033.2 688.4L2034.0 690.8L2034.8 690.1L2035.6 688.7L2036.4 690.4L2037.2 691.0L2038.0 691.6L2038.8 690.0L2039.6 692.1L2040.4 691.5L2041.2 692.2L2042.0 688.7L2042.8 690.7L2043.6 690.5L2044.4 692.1L2045.2 690.5L2046.0 690.8L2046.8 690.0L2047.6 690.0L2048.4 690.4L2049.2 692.9L2050.0 690.3L2050.8 688.6L2051.6 692.2L2052.4 691.2L2053.2 692.6L2054.0 692.6L2054.8 691.5L2055.6 691.5L2056.4 691.3L2057.2 692.1L2058.0 691.1L2058.8 692.4L2059.6 694.0L2060.4 691.4L2061.2 691.5L2062.0 691.5L2062.8 693.2L2063.6 693.3L2064.4 694.3L2065.2 693.4L2066.0 692.7L2066.8 693.2L2067.6 690.9L2068.4 693.4L2069.2 692.9L2070.0 695.5L2070.8 694.6L2071.6 691.8L2072.4 692.2L2073.2 694.1L2074.0 690.3L2074.8 691.8L2075.6 693.5L2076.4 693.9L2077.2 693.4L2078.0 694.7L2078.8 692.8L2079.6 693.4L2080.4 693.0L2081.2 691.9L2082.0 693.4L2082.8 692.7L2083.6 693.5L2084.4 690.1L2085.2 693.6L2086.0 692.8L2086.8 692.8L2087.6 693.7L2088.4 693.0L2089.2 694.9L2090.0 695.3L2090.8 694.9L2091.6 695.0L2092.4 694.3L2093.2 693.9L2094.0 692.2L2094.8 693.5L2095.6 695.5L2096.4 695.0L2097.2 693.4L2098.0 694.2L2098.8 695.5L2099.6 694.0L2100.4 696.3L2101.2 693.3L2102.0 695.3L2102.8 695.2L2103.6 694.6L2104.4 694.8L2105.2 695.2L2106.0 691.5L2106.8 695.1L2107.6 696.1L2108.4 695.1L2109.2 696.1L2110.0 693.1L2110.8 694.6L2111.6 695.2L2112.4 694.4L2113.2 696.3L2114.0 695.5L2114.8 694.2L2115.6 695.9L2116.4 696.0L2117.2 694.4L2118.0 695.7L2118.8 695.4L2119.6 695.4L2120.4 693.4L2121.2 696.6L2122.0 695.8L2122.8 695.0L2123.6 695.5L2124.4 695.4L2125.2 694.6L2126.0 694.2L2126.8 695.1L2127.6 694.2L2128.4 694.4L2129.2 693.5L2130.0 694.6L2130.8 696.3L2131.6 695.3L2132.4 695.1L2133.2 694.6L2134.0 694.4L2134.8 693.1" fill="none" stroke="#0000ff" stroke-width="5.6" stroke-linejoin="round" stroke-linecap="butt" shape-rendering="crispEdges"/>
<path d="M141.2 978.3L142.0 973.7L142.8 976.6L143.6 975.5L144.4 975.6L145.2 975.7L146.0 973.9L146.8 975.6L147.6 974.9L148.4 979.0L149.2 975.8L150.0 975.1L150.8 975.1L151.6 974.6L152.4 974.1L153.2 974.7L154.0 975.4L154.8 974.6L155.6 975.7L156.4 974.4L157.2 974.5L158.0 975.9L158.8 974.8L159.6 973.6L160.4 973.8L161.2 974.4L162.0 975.7L162.8 973.3L163.6 973.2L164.4 974.3L165.2 972.3L166.0 972.7L166.8 973.7L167.6 973.3L168.4 972.6L169.2 973.0L170.0 969.4L170.8 973.0L171.6 970.9L172.4 970.0L173.2 971.8L174.0 972.0L174.8 970.7L175.6 969.8L176.4 970.8L177.2 970.5L178.0 971.7L178.8 970.9L179.6 970.1L180.4 970.8L181.2 969.2L182.0 968.3L182.8 969.6L183.6 969.3L184.4 968.3L185.2 967.4L186.0 968.2L186.8 965.2L187.6 968.2L188.4 967.7L189.2 965.3L190.0 966.8L190.8 965.5L191.6 966.9L192.4 963.9L193.2 964.8L194.0 966.1L194.8 966.3L195.6 962.8L196.4 964.2L197.2 964.8L198.0 963.6L198.8 965.6L199.6 962.6L200.4 963.9L201.2 962.3L202.0 964.5L202.8 962.8L203.6 962.3L204.4 960.7L205.2 963.8L206.0 962.7L206.8 962.4L207.6 962.6L208.4 961.6L209.2 960.3L210.0 959.9L210.8 959.7L211.6 961.6L212.4 958.5L213.2 959.1L214.0 959.1L214.8 959.3L215.6 959.4L216.4 957.3L217.2 956.5L218.0 957.9L218.8 958.8L219.6 958.0L220.4 957.1L221.2 956.2L222.0 956.5L222.8 955.6L223.6 956.4L224.4 954.4L225.2 955.0L226.0 954.4L226.8 954.7L227.6 954.1L228.4 956.1L229.2 954.7L230.0 954.4L230.8 950.6L231.6 952.0L232.4 951.5L233.2 952.3L234.0 949.2L234.8 952.4L235.6 952.1L236.4 949.4L237.2 949.5L238.0 949.4L238.8 950.0L239.6 950.4L240.4 951.5L241.2 949.1L242.0 949.8L242.8 948.9L243.6 950.3L244.4 949.1L245.2 949.5L246.0 946.8L246.8 947.4L247.6 946.6L248.4 948.7L249.2 947.6L250.0 946.4L250.8 946.1L251.6 946.8L252.4 945.4L253.2 945.0L254.0 946.2L254.8 947.9L255.6 945.0L256.4 944.5L257.2 943.7L258.0 943.3L258.8 945.0L259.6 945.1L260.4 944.0L261.2 944.2L262.0 943.8L262.8 943.6L263.6 941.7L264.4 942.6L265.2 943.0L266.0 941.9L266.8 942.0L267.6 941.5L268.4 941.8L269.2 942.8L270.0 941.4L270.8 941.5L271.6 942.3L272.4 941.9L273.2 942.8L274.0 938.9L274.8 941.6L275.6 940.1L276.4 940.6L277.2 941.1L278.0 941.2L278.8 941.0L279.6 940.0L280.4 941.3L281.2 939.2L282.0 939.2L282.8 940.0L283.6 938.5L284.4 941.1L285.2 939.7L286.0 940.7L286.8 938.4L287.6 937.8L288.4 938.2L289.2 938.6L290.0 937.1L290.8 937.8L291.6 937.2L292.4 938.6L293.2 936.1L294.0 937.6L294.8 935.7L295.6 935.1L296.4 935.1L297.2 934.4L298.0 935.5L298.8 936.2L299.6 935.1L300.4 935.3L301.2 936.1L302.0 934.6L302.8 934.3L303.6 933.7L304.4 932.2L305.2 934.5L306.0 931.8L306.8 934.1L307.6 933.4L308.4 934.5L309.2 933.2L310.0 932.4L310.8 933.5L311.6 932.5L312.4 932.8L313.2 933.0L314.0 932.8L314.8 932.7L315.6 932.0L316.4 932.6L317.2 930.6L318.0 932.5L318.8 931.5L319.6 933.7L320.4 933.8L321.2 930.6L322.0 932.6L322.8 932.3L323.6 931.3L324.4 932.8L325.2 931.7L326.0 930.4L326.8 931.8L327.6 931.8L328.4 932.0L329.2 930.6L330.0 932.3L330.8 932.4L331.6 930.4L332.4 930.8L333.2 931.2L334.0 930.7L334.8 932.9L335.6 931.2L336.4 929.9L337.2 930.0L338.0 930.6L338.8 932.9L339.6 930.3L340.4 930.5L341.2 930.7L342.0 930.1L342.8 932.3L343.6 929.3L344.4 930.5L345.2 929.8L346.0 930.1L346.8 928.2L347.6 931.0L348.4 929.0L349.2 929.0L350.0 927.9L350.8 928.0L351.6 929.1L352.4 929.4L353.2 929.1L354.0 929.4L354.8 928.7L355.6 927.9L356.4 928.6L357.2 928.2L358.0 927.3L358.8 928.0L359.6 928.4L360.4 927.2L361.2 926.5L362.0 927.4L362.8 928.5L363.6 926.2L364.4 926.2L365.2 926.0L366.0 927.2L366.8 924.0L367.6 926.0L368.4 926.7L369.2 924.6L370.0 926.7L370.8 925.6L371.6 924.4L372.4 925.0L373.2 923.1L374.0 923.9L374.8 926.1L375.6 923.2L376.4 925.8L377.2 923.7L378.0 924.6L378.8 923.5L379.6 921.0L380.4 922.5L381.2 923.1L382.0 921.6L382.8 921.2L383.6 922.7L384.4 921.5L385.2 920.2L386.0 921.0L386.8 922.3L387.6 920.8L388.4 922.0L389.2 922.3L390.0 920.6L390.8 919.2L391.6 918.8L392.4 919.9L393.2 920.5L394.0 919.7L394.8 919.7L395.6 918.5L396.4 919.0L397.2 918.0L398.0 917.9L398.8 916.7L399.6 916.2L400.4 917.0L401.2 916.2L402.0 916.1L402.8 917.5L403.6 916.5L404.4 919.3L405.2 917.0L406.0 915.2L406.8 916.4L407.6 915.7L408.4 914.5L409.2 916.0L410.0 913.9L410.8 911.4L411.6 915.0L412.4 913.3L413.2 915.2L414.0 912.8L414.8 912.0L415.6 914.5L416.4 911.6L417.2 912.7L418.0 913.7L418.8 912.1L419.6 911.7L420.4 911.6L421.2 912.1L422.0 910.3L422.8 911.5L423.6 911.3L424.4 912.8L425.2 909.9L426.0 909.2L426.8 910.6L427.6 909.3L428.4 909.7L429.2 909.3L430.0 910.2L430.8 908.1L431.6 908.4L432.4 905.7L433.2 907.1L434.0 909.2L434.8 906.7L435.6 906.4L436.4 905.5L437.2 907.0L438.0 906.2L438.8 904.3L439.6 905.6L440.4 904.6L441.2 904.5L442.0 902.5L442.8 904.2L443.6 902.2L444.4 901.1L445.2 900.1L446.0 899.9L446.8 900.6L447.6 899.1L448.4 900.0L449.2 899.2L450.0 899.6L450.8 898.7L451.6 897.6L452.4 895.4L453.2 897.3L454.0 897.5L454.8 896.6L455.6 896.7L456.4 895.3L457.2 895.1L458.0 894.2L458.8 896.1L459.6 894.5L460.4 893.5L461.2 892.2L462.0 892.9L462.8 893.9L463.6 892.4L464.4 890.7L465.2 892.2L466.0 891.6L466.8 890.5L467.6 889.6L468.4 889.2L469.2 887.9L470.0 887.4L470.8 885.0L471.6 886.5L472.4 884.4L473.2 885.4L474.0 880.5L474.8 882.3L475.6 881.7L476.4 879.4L477.2 879.2L478.0 878.4L478.8 877.1L479.6 874.9L480.4 874.1L481.2 874.0L482.0 873.0L482.8 870.6L483.6 869.2L484.4 868.0L485.2 867.4L486.0 863.8L486.8 861.9L487.6 861.8L488.4 858.8L489.2 857.6L490.0 856.5L490.8 855.1L491.6 851.6L492.4 851.4L493.2 846.7L494.0 846.8L494.8 842.4L495.6 840.5L496.4 840.4L497.2 837.4L498.0 835.1L498.8 833.5L499.6 832.6L500.4 830.3L501.2 828.5L502.0 827.8L502.8 824.2L503.6 822.5L504.4 820.5L505.2 820.3L506.0 818.4L506.8 817.1L507.6 814.5L508.4 813.3L509.2 813.3L510.0 811.0L510.8 811.3L511.6 810.4L512.4 808.2L513.2 808.1L514.0 807.5L514.8 808.9L515.6 809.3L516.4 806.3L517.2 806.0L518.0 803.4L518.8 805.6L519.6 805.2L520.4 804.0L521.2 805.9L522.0 803.7L522.8 805.2L523.6 805.8L524.4 804.7L525.2 807.2L526.0 807.8L526.8 805.8L527.6 806.3L528.4 808.8L529.2 808.6L530.0 808.0L530.8 809.6L531.6 810.7L532.4 811.6L533.2 813.6L534.0 814.2L534.8 816.7L535.6 817.4L536.4 817.8L537.2 819.1L538.0 820.3L538.8 820.4L539.6 819.1L540.4 821.9L541.2 821.7L542.0 823.9L542.8 822.9L543.6 823.9L544.4 824.3L545.2 826.1L546.0 825.1L546.8 825.1L547.6 826.1L548.4 825.8L549.2 826.9L550.0 827.1L550.8 827.8L551.6 829.9L552.4 828.0L553.2 828.8L554.0 828.9L554.8 830.1L555.6 828.6L556.4 829.4L557.2 830.3L558.0 831.0L558.8 830.6L559.6 830.3L560.4 830.0L561.2 831.5L562.0 832.5L562.8 831.5L563.6 831.4L564.4 831.8L565.2 830.4L566.0 831.1L566.8 831.2L567.6 831.8L568.4 831.5L569.2 830.4L570.0 832.7L570.8 833.3L571.6 831.1L572.4 831.5L573.2 831.1L574.0 831.2L574.8 828.4L575.6 831.0L576.4 828.4L577.2 829.6L578.0 827.9L578.8 827.0L579.6 826.8L580.4 827.5L581.2 825.3L582.0 825.4L582.8 825.0L583.6 823.4L584.4 826.0L585.2 824.9L586.0 824.0L586.8 824.8L587.6 822.2L588.4 822.7L589.2 824.0L590.0 822.8L590.8 819.1L591.6 817.5L592.4 819.2L593.2 820.6L594.0 818.4L594.8 818.0L595.6 818.0L596.4 815.8L597.2 816.1L598.0 815.9L598.8 814.7L599.6 813.8L600.4 812.0L601.2 812.2L602.0 810.3L602.8 811.1L603.6 811.4L604.4 807.0L605.2 804.6L606.0 805.2L606.8 804.9L607.6 804.5L608.4 803.2L609.2 800.0L610.0 798.5L610.8 799.1L611.6 795.2L612.4 796.0L613.2 793.4L614.0 793.3L614.8 792.4L615.6 791.8L616.4 791.2L617.2 788.8L618.0 789.5L618.8 788.7L619.6 788.5L620.4 789.0L621.2 787.1L622.0 786.2L622.8 785.9L623.6 785.9L624.4 786.7L625.2 784.8L626.0 786.4L626.8 785.2L627.6 784.4L628.4 783.0L629.2 784.4L630.0 784.6L630.8 782.1L631.6 785.0L632.4 785.5L633.2 784.4L634.0 784.8L634.8 787.1L635.6 786.3L636.4 784.6L637.2 785.9L638.0 786.3L638.8 786.7L639.6 784.9L640.4 788.5L641.2 787.5L642.0 788.8L642.8 789.0L643.6 790.5L644.4 789.9L645.2 789.9L646.0 791.8L646.8 793.2L647.6 792.1L648.4 794.6L649.2 794.3L650.0 794.3L650.8 797.1L651.6 795.4L652.4 797.7L653.2 796.6L654.0 797.7L654.8 796.0L655.6 796.3L656.4 798.2L657.2 797.3L658.0 797.1L658.8 796.6L659.6 797.4L660.4 795.5L661.2 795.7L662.0 796.5L662.8 795.8L663.6 795.8L664.4 796.3L665.2 796.1L666.0 795.9L666.8 797.6L667.6 796.6L668.4 796.5L669.2 794.8L670.0 793.9L670.8 792.5L671.6 793.1L672.4 790.9L673.2 791.9L674.0 792.8L674.8 793.1L675.6 792.0L676.4 789.8L677.2 790.7L678.0 788.9L678.8 790.0L679.6 788.6L680.4 789.0L681.2 790.2L682.0 788.0L682.8 789.0L683.6 786.4L684.4 785.5L685.2 786.8L686.0 787.0L686.8 784.6L687.6 785.2L688.4 783.7L689.2 784.9L690.0 786.0L690.8 785.1L691.6 784.6L692.4 783.8L693.2 785.6L694.0 786.1L694.8 786.0L695.6 785.7L696.4 784.2L697.2 787.3L698.0 785.6L698.8 785.6L699.6 786.6L700.4 784.0L701.2 786.5L702.0 786.9L702.8 787.9L703.6 789.4L704.4 789.1L705.2 787.4L706.0 789.5L706.8 790.6L707.6 791.2L708.4 790.5L709.2 790.9L710.0 793.9L710.8 794.5L711.6 795.0L712.4 794.0L713.2 798.3L714.0 794.3L714.8 797.5L715.6 800.7L716.4 799.1L717.2 800.2L718.0 799.4L718.8 802.6L719.6 800.6L720.4 802.7L721.2 803.2L722.0 802.5L722.8 805.0L723.6 803.2L724.4 804.5L725.2 805.6L726.0 805.7L726.8 807.1L727.6 808.0L728.4 807.2L729.2 807.3L730.0 807.7L730.8 808.2L731.6 809.8L732.4 809.1L733.2 810.1L734.0 809.9L734.8 809.5L735.6 811.5L736.4 809.9L737.2 811.3L738.0 813.1L738.8 810.8L739.6 812.2L740.4 811.0L741.2 812.3L742.0 811.7L742.8 813.1L743.6 813.2L744.4 814.2L745.2 815.9L746.0 814.9L746.8 815.6L747.6 815.2L748.4 815.3L749.2 815.1L750.0 814.4L750.8 816.6L751.6 818.4L752.4 817.5L753.2 816.8L754.0 819.2L754.8 817.4L755.6 817.4L756.4 817.1L757.2 817.6L758.0 818.6L758.8 821.1L759.6 819.0L760.4 818.4L761.2 818.9L762.0 819.3L762.8 817.7L763.6 819.4L764.4 819.6L765.2 818.9L766.0 818.8L766.8 816.4L767.6 815.5L768.4 818.0L769.2 817.4L770.0 814.4L770.8 815.7L771.6 815.2L772.4 815.3L773.2 814.6L774.0 813.5L774.8 813.8L775.6 813.4L776.4 812.8L777.2 810.6L778.0 809.0L778.8 810.8L779.6 809.5L780.4 810.9L781.2 810.8L782.0 809.8L782.8 808.6L783.6 808.4L784.4 808.9L785.2 806.4L786.0 807.5L786.8 806.7L787.6 805.7L788.4 806.4L789.2 803.7L790.0 805.0L790.8 802.7L791.6 802.4L792.4 801.7L793.2 802.8L794.0 801.0L794.8 801.6L795.6 800.1L796.4 801.9L797.2 802.3L798.0 800.3L798.8 801.3L799.6 799.8L800.4 800.9L801.2 798.4L802.0 796.2L802.8 798.8L803.6 796.7L804.4 795.4L805.2 795.4L806.0 794.1L806.8 795.3L807.6 794.3L808.4 796.8L809.2 796.0L810.0 793.7L810.8 793.9L811.6 794.9L812.4 793.6L813.2 795.5L814.0 795.7L814.8 795.0L815.6 795.4L816.4 796.6L817.2 797.6L818.0 797.9L818.8 796.6L819.6 797.8L820.4 796.6L821.2 798.3L822.0 797.5L822.8 799.8L823.6 798.5L824.4 799.4L825.2 801.1L826.0 802.4L826.8 801.3L827.6 803.3L828.4 805.0L829.2 806.3L830.0 806.5L830.8 808.6L831.6 809.5L832.4 812.5L833.2 812.8L834.0 812.2L834.8 812.6L835.6 816.3L836.4 818.7L837.2 819.1L838.0 821.2L838.8 821.4L839.6 822.0L840.4 825.8L841.2 826.9L842.0 829.4L842.8 829.4L843.6 833.0L844.4 834.2L845.2 837.7L846.0 838.2L846.8 840.0L847.6 841.7L848.4 845.1L849.2 845.4L850.0 846.1L850.8 847.2L851.6 848.6L852.4 852.4L853.2 850.4L854.0 852.6L854.8 855.4L855.6 857.2L856.4 857.1L857.2 859.2L858.0 860.4L858.8 861.7L859.6 861.9L860.4 864.6L861.2 864.1L862.0 866.4L862.8 864.7L863.6 867.5L864.4 866.2L865.2 866.7L866.0 869.4L866.8 868.8L867.6 870.8L868.4 870.0L869.2 873.3L870.0 872.3L870.8 871.8L871.6 873.7L872.4 875.0L873.2 873.9L874.0 875.8L874.8 877.9L875.6 877.3L876.4 877.0L877.2 876.9L878.0 878.6L878.8 877.0L879.6 875.9L880.4 878.7L881.2 878.7L882.0 881.9L882.8 880.7L883.6 879.9L884.4 880.0L885.2 882.0L886.0 880.9L886.8 881.4L887.6 882.2L888.4 882.6L889.2 882.8L890.0 883.0L890.8 884.4L891.6 885.1L892.4 881.9L893.2 886.4L894.0 884.2L894.8 885.5L895.6 883.8L896.4 885.1L897.2 885.3L898.0 885.5L898.8 886.6L899.6 886.7L900.4 885.5L901.2 886.8L902.0 888.0L902.8 888.4L903.6 887.8L904.4 888.3L905.2 888.8L906.0 888.3L906.8 888.5L907.6 891.8L908.4 890.2L909.2 891.0L910.0 890.5L910.8 892.8L911.6 893.5L912.4 891.8L913.2 892.7L914.0 891.7L914.8 894.4L915.6 893.8L916.4 892.2L917.2 894.5L918.0 893.8L918.8 894.1L919.6 894.2L920.4 893.3L921.2 893.6L922.0 895.0L922.8 894.4L923.6 893.7L924.4 896.9L925.2 894.8L926.0 894.6L926.8 894.6L927.6 896.2L928.4 896.6L929.2 896.1L930.0 896.9L930.8 894.7L931.6 896.0L932.4 896.1L933.2 896.7L934.0 897.4L934.8 895.1L935.6 900.5L936.4 896.7L937.2 898.2L938.0 898.9L938.8 899.1L939.6 898.7L940.4 895.8L941.2 897.9L942.0 900.0L942.8 898.5L943.6 898.6L944.4 897.6L945.2 901.4L946.0 900.9L946.8 899.7L947.6 900.7L948.4 901.0L949.2 900.2L950.0 901.2L950.8 902.0L951.6 902.5L952.4 903.4L953.2 902.3L954.0 902.0L954.8 903.1L955.6 902.2L956.4 901.8L957.2 904.3L958.0 902.9L958.8 903.6L959.6 904.2L960.4 902.6L961.2 904.5L962.0 904.4L962.8 904.0L963.6 904.6L964.4 903.5L965.2 902.2L966.0 904.2L966.8 903.7L967.6 905.6L968.4 905.1L969.2 904.4L970.0 905.1L970.8 906.5L971.6 906.4L972.4 905.7L973.2 905.9L974.0 905.3L974.8 905.6L975.6 906.4L976.4 905.8L977.2 906.4L978.0 905.1L978.8 904.7L979.6 904.8L980.4 906.2L981.2 908.1L982.0 908.2L982.8 906.2L983.6 905.8L984.4 908.4L985.2 908.2L986.0 906.6L986.8 909.3L987.6 908.6L988.4 910.0L989.2 909.2L990.0 910.0L990.8 909.7L991.6 908.6L992.4 909.6L993.2 909.4L994.0 911.1L994.8 909.5L995.6 909.2L996.4 911.6L997.2 912.3L998.0 912.8L998.8 912.6L999.6 910.2L1000.4 911.2L1001.2 911.5L1002.0 912.1L1002.8 910.1L1003.6 912.4L1004.4 912.8L1005.2 911.7L1006.0 912.8L1006.8 914.0L1007.6 913.0L1008.4 914.1L1009.2 914.2L1010.0 913.6L1010.8 913.7L1011.6 913.0L1012.4 914.8L1013.2 913.1L1014.0 913.0L1014.8 914.5L1015.6 913.1L1016.4 914.3L1017.2 915.1L1018.0 914.2L1018.8 914.2L1019.6 915.1L1020.4 915.0L1021.2 912.8L1022.0 913.1L1022.8 915.8L1023.6 914.9L1024.4 912.5L1025.2 913.3L1026.0 914.7L1026.8 913.8L1027.6 915.3L1028.4 914.9L1029.2 915.4L1030.0 913.8L1030.8 915.6L1031.6 917.0L1032.4 914.3L1033.2 916.4L1034.0 916.1L1034.8 915.8L1035.6 915.2L1036.4 914.1L1037.2 914.4L1038.0 916.1L1038.8 916.3L1039.6 916.6L1040.4 916.4L1041.2 916.4L1042.0 915.1L1042.8 914.3L1043.6 915.8L1044.4 916.1L1045.2 915.7L1046.0 914.1L1046.8 915.2L1047.6 914.3L1048.4 915.9L1049.2 914.8L1050.0 915.7L1050.8 916.2L1051.6 916.1L1052.4 917.3L1053.2 914.9L1054.0 913.9L1054.8 917.0L1055.6 917.6L1056.4 917.6L1057.2 916.5L1058.0 916.8L1058.8 916.5L1059.6 915.1L1060.4 915.8L1061.2 917.0L1062.0 915.9L1062.8 918.5L1063.6 915.1L1064.4 916.2L1065.2 917.8L1066.0 916.1L1066.8 915.6L1067.6 915.4L1068.4 916.1L1069.2 918.4L1070.0 917.3L1070.8 917.5L1071.6 916.5L1072.4 917.9L1073.2 917.2L1074.0 916.2L1074.8 916.7L1075.6 917.3L1076.4 918.3L1077.2 917.1L1078.0 917.7L1078.8 919.2L1079.6 916.4L1080.4 916.0L1081.2 918.3L1082.0 917.7L1082.8 917.2L1083.6 917.6L1084.4 917.0L1085.2 917.9L1086.0 917.1L1086.8 918.2L1087.6 916.3L1088.4 916.6L1089.2 917.6L1090.0 917.0L1090.8 918.2L1091.6 917.5L1092.4 917.0L1093.2 917.8L1094.0 917.1L1094.8 916.1L1095.6 916.6L1096.4 917.0L1097.2 917.3L1098.0 918.0L1098.8 918.8L1099.6 918.5L1100.4 919.8L1101.2 919.4L1102.0 918.0L1102.8 920.0L1103.6 919.6L1104.4 918.1L1105.2 918.9L1106.0 919.8L1106.8 919.1L1107.6 920.0L1108.4 919.5L1109.2 919.9L1110.0 919.0L1110.8 919.9L1111.6 919.3L1112.4 920.4L1113.2 918.2L1114.0 920.4L1114.8 921.4L1115.6 920.9L1116.4 920.4L1117.2 921.1L1118.0 919.9L1118.8 920.0L1119.6 920.6L1120.4 921.0L1121.2 922.3L1122.0 920.5L1122.8 922.6L1123.6 920.2L1124.4 921.1L1125.2 922.0L1126.0 923.4L1126.8 921.8L1127.6 920.5L1128.4 923.2L1129.2 922.9L1130.0 922.1L1130.8 922.3L1131.6 922.8L1132.4 923.8L1133.2 924.6L1134.0 922.7L1134.8 926.6L1135.6 924.5L1136.4 924.4L1137.2 925.6L1138.0 925.3L1138.8 927.7L1139.6 926.7L1140.4 925.4L1141.2 925.6L1142.0 925.7L1142.8 926.1L1143.6 927.3L1144.4 926.2L1145.2 928.7L1146.0 927.2L1146.8 927.4L1147.6 928.7L1148.4 926.0L1149.2 927.3L1150.0 929.1L1150.8 928.8L1151.6 929.0L1152.4 929.7L1153.2 928.9L1154.0 929.6L1154.8 928.7L1155.6 928.4L1156.4 931.8L1157.2 929.9L1158.0 930.3L1158.8 932.7L1159.6 932.6L1160.4 931.3L1161.2 931.5L1162.0 932.2L1162.8 931.6L1163.6 933.3L1164.4 933.1L1165.2 933.3L1166.0 934.1L1166.8 934.3L1167.6 935.6L1168.4 935.5L1169.2 932.5L1170.0 935.3L1170.8 933.5L1171.6 933.3L1172.4 935.7L1173.2 934.5L1174.0 935.0L1174.8 936.6L1175.6 935.0L1176.4 935.0L1177.2 936.4L1178.0 937.5L1178.8 936.9L1179.6 935.0L1180.4 936.1L1181.2 936.8L1182.0 939.0L1182.8 938.2L1183.6 938.3L1184.4 938.8L1185.2 937.5L1186.0 938.5L1186.8 938.6L1187.6 937.3L1188.4 938.5L1189.2 939.2L1190.0 937.8L1190.8 939.8L1191.6 939.9L1192.4 940.4L1193.2 938.7L1194.0 939.8L1194.8 941.3L1195.6 940.8L1196.4 939.4L1197.2 940.5L1198.0 941.9L1198.8 940.5L1199.6 941.2L1200.4 943.5L1201.2 941.1L1202.0 941.1L1202.8 940.4L1203.6 940.9L1204.4 943.2L1205.2 941.7L1206.0 940.9L1206.8 941.3L1207.6 942.4L1208.4 943.3L1209.2 941.9L1210.0 943.6L1210.8 942.5L1211.6 943.5L1212.4 943.9L1213.2 944.1L1214.0 943.3L1214.8 943.7L1215.6 944.5L1216.4 942.9L1217.2 944.5L1218.0 945.1L1218.8 945.8L1219.6 944.9L1220.4 944.9L1221.2 945.4L1222.0 944.7L1222.8 945.4L1223.6 946.2L1224.4 946.2L1225.2 945.1L1226.0 946.0L1226.8 944.4L1227.6 947.5L1228.4 946.3L1229.2 947.3L1230.0 946.1L1230.8 947.3L1231.6 948.0L1232.4 948.7L1233.2 946.5L1234.0 948.9L1234.8 948.1L1235.6 947.6L1236.4 949.0L1237.2 948.4L1238.0 948.6L1238.8 948.3L1239.6 949.4L1240.4 949.4L1241.2 949.3L1242.0 948.7L1242.8 949.3L1243.6 950.4L1244.4 951.4L1245.2 950.2L1246.0 951.8L1246.8 950.6L1247.6 949.6L1248.4 951.5L1249.2 950.1L1250.0 951.6L1250.8 952.4L1251.6 951.2L1252.4 951.6L1253.2 954.3L1254.0 952.2L1254.8 952.4L1255.6 953.1L1256.4 952.4L1257.2 952.5L1258.0 953.2L1258.8 950.6L1259.6 954.6L1260.4 952.3L1261.2 952.4L1262.0 954.2L1262.8 953.9L1263.6 952.8L1264.4 954.5L1265.2 953.3L1266.0 953.9L1266.8 953.3L1267.6 954.2L1268.4 955.6L1269.2 955.5L1270.0 955.9L1270.8 956.7L1271.6 956.0L1272.4 955.6L1273.2 956.1L1274.0 958.3L1274.8 956.9L1275.6 957.4L1276.4 957.2L1277.2 957.7L1278.0 958.1L1278.8 957.9L1279.6 958.0L1280.4 957.5L1281.2 957.7L1282.0 959.2L1282.8 959.7L1283.6 960.1L1284.4 959.5L1285.2 958.8L1286.0 960.5L1286.8 960.8L1287.6 958.9L1288.4 961.5L1289.2 961.5L1290.0 962.8L1290.8 960.3L1291.6 960.4L1292.4 962.7L1293.2 960.4L1294.0 961.7L1294.8 961.6L1295.6 962.0L1296.4 961.3L1297.2 963.3L1298.0 964.7L1298.8 964.4L1299.6 964.7L1300.4 964.1L1301.2 966.1L1302.0 965.5L1302.8 966.2L1303.6 963.8L1304.4 965.9L1305.2 964.6L1306.0 966.3L1306.8 966.3L1307.6 965.2L1308.4 966.7L1309.2 967.8L1310.0 967.3L1310.8 967.6L1311.6 966.3L1312.4 966.7L1313.2 966.4L1314.0 967.8L1314.8 969.0L1315.6 968.4L1316.4 968.1L1317.2 967.1L1318.0 968.8L1318.8 968.3L1319.6 966.8L1320.4 967.1L1321.2 968.7L1322.0 968.3L1322.8 971.0L1323.6 969.5L1324.4 968.6L1325.2 969.3L1326.0 971.5L1326.8 969.2L1327.6 971.1L1328.4 970.9L1329.2 972.1L1330.0 971.4L1330.8 970.6L1331.6 971.7L1332.4 971.5L1333.2 972.6L1334.0 971.7L1334.8 974.0L1335.6 972.1L1336.4 972.9L1337.2 972.0L1338.0 973.0L1338.8 973.1L1339.6 973.4L1340.4 974.4L1341.2 973.2L1342.0 973.1L1342.8 975.2L1343.6 974.0L1344.4 973.9L1345.2 975.9L1346.0 975.7L1346.8 972.5L1347.6 975.0L1348.4 976.3L1349.2 976.5L1350.0 975.4L1350.8 977.6L1351.6 975.5L1352.4 976.2L1353.2 976.7L1354.0 976.7L1354.8 977.7L1355.6 978.1L1356.4 977.2L1357.2 978.8L1358.0 976.8L1358.8 977.5L1359.6 979.5L1360.4 978.1L1361.2 979.2L1362.0 977.8L1362.8 978.1L1363.6 978.4L1364.4 978.8L1365.2 978.5L1366.0 979.0L1366.8 979.7L1367.6 980.4L1368.4 979.5L1369.2 980.1L1370.0 980.5L1370.8 978.7L1371.6 978.3L1372.4 981.7L1373.2 981.5L1374.0 980.4L1374.8 980.8L1375.6 979.7L1376.4 979.4L1377.2 981.2L1378.0 979.6L1378.8 982.1L1379.6 980.7L1380.4 981.8L1381.2 983.6L1382.0 983.7L1382.8 981.7L1383.6 983.2L1384.4 981.3L1385.2 981.9L1386.0 983.0L1386.8 984.1L1387.6 982.3L1388.4 983.6L1389.2 983.3L1390.0 982.1L1390.8 983.4L1391.6 985.1L1392.4 983.7L1393.2 984.4L1394.0 984.9L1394.8 983.5L1395.6 985.6L1396.4 986.0L1397.2 986.2L1398.0 986.0L1398.8 984.4L1399.6 984.4L1400.4 984.3L1401.2 984.3L1402.0 984.5L1402.8 986.4L1403.6 986.9L1404.4 984.9L1405.2 986.5L1406.0 984.5L1406.8 985.5L1407.6 984.9L1408.4 984.4L1409.2 986.2L1410.0 986.3L1410.8 985.9L1411.6 985.8L1412.4 985.5L1413.2 986.4L1414.0 986.0L1414.8 987.0L1415.6 985.6L1416.4 987.1L1417.2 987.5L1418.0 988.4L1418.8 988.3L1419.6 987.6L1420.4 986.8L1421.2 985.8L1422.0 987.8L1422.8 989.3L1423.6 989.7L1424.4 985.7L1425.2 987.6L1426.0 988.2L1426.8 987.7L1427.6 989.1L1428.4 989.1L1429.2 988.7L1430.0 989.3L1430.8 987.9L1431.6 988.7L1432.4 988.9L1433.2 990.9L1434.0 988.5L1434.8 990.0L1435.6 991.2L1436.4 990.4L1437.2 991.4L1438.0 990.1L1438.8 991.2L1439.6 991.8L1440.4 993.2L1441.2 991.8L1442.0 992.6L1442.8 991.2L1443.6 991.4L1444.4 993.0L1445.2 992.0L1446.0 992.9L1446.8 992.3L1447.6 993.8L1448.4 994.1L1449.2 991.0L1450.0 993.7L1450.8 992.4L1451.6 992.5L1452.4 992.0L1453.2 992.9L1454.0 991.1L1454.8 991.6L1455.6 991.6L1456.4 992.8L1457.2 993.5L1458.0 993.4L1458.8 993.1L1459.6 992.2L1460.4 991.1L1461.2 993.4L1462.0 993.2L1462.8 993.5L1463.6 994.7L1464.4 993.2L1465.2 993.2L1466.0 991.2L1466.8 994.2L1467.6 993.6L1468.4 993.0L1469.2 994.2L1470.0 992.9L1470.8 993.5L1471.6 996.0L1472.4 994.9L1473.2 995.2L1474.0 995.0L1474.8 995.0L1475.6 994.6L1476.4 996.8L1477.2 994.5L1478.0 995.3L1478.8 994.4L1479.6 994.4L1480.4 992.3L1481.2 992.9L1482.0 996.4L1482.8 996.4L1483.6 994.6L1484.4 995.0L1485.2 995.7L1486.0 994.2L1486.8 997.0L1487.6 994.2L1488.4 994.6L1489.2 992.6L1490.0 996.9L1490.8 995.5L1491.6 997.1L1492.4 994.6L1493.2 996.0L1494.0 995.8L1494.8 996.0L1495.6 997.9L1496.4 998.2L1497.2 997.3L1498.0 995.6L1498.8 997.0L1499.6 997.5L1500.4 996.8L1501.2 996.9L1502.0 996.9L1502.8 995.6L1503.6 996.8L1504.4 998.2L1505.2 995.7L1506.0 996.8L1506.8 997.6L1507.6 995.4L1508.4 996.7L1509.2 995.2L1510.0 996.3L1510.8 995.5L1511.6 996.0L1512.4 996.4L1513.2 996.6L1514.0 996.7L1514.8 994.5L1515.6 998.5L1516.4 996.6L1517.2 995.8L1518.0 996.3L1518.8 997.2L1519.6 995.9L1520.4 996.5L1521.2 996.4L1522.0 997.4L1522.8 996.2L1523.6 997.4L1524.4 997.2L1525.2 996.8L1526.0 998.1L1526.8 996.9L1527.6 995.7L1528.4 997.2L1529.2 997.0L1530.0 996.9L1530.8 997.1L1531.6 999.3L1532.4 997.2L1533.2 997.4L1534.0 996.8L1534.8 998.4L1535.6 997.1L1536.4 996.4L1537.2 996.0L1538.0 997.8L1538.8 998.1L1539.6 995.9L1540.4 996.8L1541.2 998.2L1542.0 998.7L1542.8 996.4L1543.6 997.4L1544.4 998.7L1545.2 997.4L1546.0 997.5L1546.8 997.4L1547.6 996.7L1548.4 998.0L1549.2 998.3L1550.0 996.6L1550.8 998.1L1551.6 999.1L1552.4 998.1L1553.2 998.9L1554.0 997.3L1554.8 999.2L1555.6 997.0L1556.4 999.7L1557.2 997.3L1558.0 997.0L1558.8 996.8L1559.6 997.2L1560.4 997.1L1561.2 996.9L1562.0 997.2L1562.8 998.2L1563.6 998.3L1564.4 997.1L1565.2 998.7L1566.0 996.4L1566.8 996.4L1567.6 996.3L1568.4 998.0L1569.2 995.9L1570.0 996.0L1570.8 998.7L1571.6 999.2L1572.4 998.8L1573.2 996.0L1574.0 997.6L1574.8 998.4L1575.6 997.7L1576.4 996.1L1577.2 997.4L1578.0 996.1L1578.8 996.6L1579.6 1000.0L1580.4 998.5L1581.2 996.4L1582.0 996.4L1582.8 998.4L1583.6 997.4L1584.4 998.6L1585.2 997.3L1586.0 997.8L1586.8 998.2L1587.6 997.0L1588.4 996.1L1589.2 996.8L1590.0 997.3L1590.8 997.8L1591.6 997.9L1592.4 997.9L1593.2 998.5L1594.0 997.1L1594.8 999.4L1595.6 1000.0L1596.4 998.4L1597.2 998.2L1598.0 999.2L1598.8 998.6L1599.6 998.2L1600.4 997.8L1601.2 997.2L1602.0 996.8L1602.8 998.6L1603.6 999.2L1604.4 996.9L1605.2 997.9L1606.0 998.2L1606.8 997.5L1607.6 997.2L1608.4 997.5L1609.2 995.9L1610.0 997.8L1610.8 997.5L1611.6 999.9L1612.4 998.7L1613.2 997.3L1614.0 997.6L1614.8 999.3L1615.6 999.1L1616.4 997.6L1617.2 997.2L1618.0 995.9L1618.8 996.9L1619.6 997.0L1620.4 996.4L1621.2 998.8L1622.0 995.1L1622.8 996.8L1623.6 997.3L1624.4 997.2L1625.2 998.4L1626.0 995.2L1626.8 995.8L1627.6 996.6L1628.4 996.5L1629.2 995.9L1630.0 995.4L1630.8 997.2L1631.6 994.9L1632.4 995.3L1633.2 997.2L1634.0 997.4L1634.8 996.4L1635.6 994.6L1636.4 994.5L1637.2 994.3L1638.0 994.0L1638.8 994.6L1639.6 996.2L1640.4 995.1L1641.2 994.0L1642.0 993.9L1642.8 993.4L1643.6 995.7L1644.4 992.4L1645.2 994.5L1646.0 992.7L1646.8 993.0L1647.6 992.5L1648.4 994.8L1649.2 993.7L1650.0 996.4L1650.8 992.5L1651.6 992.4L1652.4 994.0L1653.2 993.9L1654.0 993.0L1654.8 991.2L1655.6 994.6L1656.4 993.7L1657.2 993.6L1658.0 992.6L1658.8 993.9L1659.6 992.7L1660.4 993.4L1661.2 993.2L1662.0 994.8L1662.8 993.1L1663.6 993.4L1664.4 994.9L1665.2 994.2L1666.0 994.0L1666.8 993.9L1667.6 995.3L1668.4 993.8L1669.2 995.0L1670.0 996.7L1670.8 995.2L1671.6 994.1L1672.4 993.9L1673.2 995.4L1674.0 994.2L1674.8 993.9L1675.6 994.9L1676.4 994.8L1677.2 996.9L1678.0 994.8L1678.8 998.0L1679.6 995.9L1680.4 996.9L1681.2 997.7L1682.0 997.4L1682.8 998.1L1683.6 996.6L1684.4 995.5L1685.2 997.7L1686.0 996.4L1686.8 997.7L1687.6 999.4L1688.4 998.4L1689.2 998.2L1690.0 997.8L1690.8 998.8L1691.6 999.1L1692.4 997.9L1693.2 999.9L1694.0 998.7L1694.8 1000.1L1695.6 999.6L1696.4 1001.2L1697.2 1001.3L1698.0 1000.6L1698.8 1000.6L1699.6 1001.3L1700.4 1002.4L1701.2 1002.3L1702.0 1001.5L1702.8 1001.9L1703.6 1003.3L1704.4 1000.3L1705.2 1002.6L1706.0 1001.3L1706.8 1003.8L1707.6 1002.1L1708.4 1002.7L1709.2 1001.9L1710.0 1003.2L1710.8 1004.1L1711.6 1005.2L1712.4 1002.5L1713.2 1003.5L1714.0 1008.0L1714.8 1005.3L1715.6 1004.5L1716.4 1005.2L1717.2 1002.2L1718.0 1006.7L1718.8 1005.5L1719.6 1004.0L1720.4 1006.8L1721.2 1005.2L1722.0 1005.0L1722.8 1006.7L1723.6 1006.7L1724.4 1006.0L1725.2 1006.6L1726.0 1005.4L1726.8 1005.4L1727.6 1007.9L1728.4 1008.5L1729.2 1007.7L1730.0 1007.8L1730.8 1007.1L1731.6 1007.5L1732.4 1006.8L1733.2 1009.6L1734.0 1007.4L1734.8 1008.4L1735.6 1008.1L1736.4 1006.8L1737.2 1010.3L1738.0 1008.1L1738.8 1007.8L1739.6 1008.7L1740.4 1007.8L1741.2 1008.9L1742.0 1008.0L1742.8 1009.6L1743.6 1009.2L1744.4 1007.9L1745.2 1010.4L1746.0 1009.6L1746.8 1008.4L1747.6 1010.0L1748.4 1010.1L1749.2 1011.7L1750.0 1009.0L1750.8 1010.9L1751.6 1010.0L1752.4 1010.8L1753.2 1010.0L1754.0 1010.3L1754.8 1011.0L1755.6 1009.4L1756.4 1008.5L1757.2 1010.7L1758.0 1010.4L1758.8 1011.0L1759.6 1011.7L1760.4 1010.9L1761.2 1012.4L1762.0 1011.3L1762.8 1011.5L1763.6 1012.4L1764.4 1012.2L1765.2 1011.6L1766.0 1012.0L1766.8 1011.2L1767.6 1011.5L1768.4 1012.3L1769.2 1013.1L1770.0 1012.0L1770.8 1013.4L1771.6 1014.6L1772.4 1014.9L1773.2 1012.9L1774.0 1014.1L1774.8 1013.7L1775.6 1014.0L1776.4 1014.2L1777.2 1013.9L1778.0 1014.3L1778.8 1013.8L1779.6 1013.4L1780.4 1014.0L1781.2 1014.3L1782.0 1015.1L1782.8 1014.3L1783.6 1014.8L1784.4 1015.5L1785.2 1013.2L1786.0 1013.9L1786.8 1014.8L1787.6 1014.3L1788.4 1013.3L1789.2 1015.4L1790.0 1014.3L1790.8 1013.4L1791.6 1016.4L1792.4 1013.2L1793.2 1014.6L1794.0 1013.9L1794.8 1014.7L1795.6 1015.2L1796.4 1013.9L1797.2 1014.6L1798.0 1014.6L1798.8 1013.8L1799.6 1016.0L1800.4 1015.1L1801.2 1014.6L1802.0 1014.3L1802.8 1014.6L1803.6 1015.2L1804.4 1014.6L1805.2 1016.3L1806.0 1012.6L1806.8 1013.0L1807.6 1015.0L1808.4 1013.4L1809.2 1015.2L1810.0 1014.7L1810.8 1016.0L1811.6 1015.9L1812.4 1016.8L1813.2 1016.5L1814.0 1016.9L1814.8 1016.2L1815.6 1016.8L1816.4 1016.3L1817.2 1015.3L1818.0 1014.7L1818.8 1014.8L1819.6 1016.6L1820.4 1013.8L1821.2 1016.4L1822.0 1015.6L1822.8 1017.2L1823.6 1016.7L1824.4 1015.9L1825.2 1016.7L1826.0 1014.5L1826.8 1017.2L1827.6 1017.5L1828.4 1015.3L1829.2 1018.1L1830.0 1017.2L1830.8 1017.6L1831.6 1016.1L1832.4 1018.3L1833.2 1018.3L1834.0 1017.8L1834.8 1017.0L1835.6 1018.8L1836.4 1019.4L1837.2 1018.7L1838.0 1019.4L1838.8 1017.9L1839.6 1018.8L1840.4 1019.1L1841.2 1019.0L1842.0 1021.7L1842.8 1019.4L1843.6 1018.5L1844.4 1020.0L1845.2 1018.2L1846.0 1019.8L1846.8 1020.2L1847.6 1019.1L1848.4 1019.3L1849.2 1018.8L1850.0 1019.9L1850.8 1019.2L1851.6 1021.7L1852.4 1020.7L1853.2 1019.9L1854.0 1018.8L1854.8 1022.3L1855.6 1021.6L1856.4 1020.9L1857.2 1020.7L1858.0 1020.7L1858.8 1020.2L1859.6 1022.6L1860.4 1021.0L1861.2 1019.4L1862.0 1020.3L1862.8 1018.4L1863.6 1021.7L1864.4 1021.9L1865.2 1023.0L1866.0 1023.4L1866.8 1020.5L1867.6 1021.8L1868.4 1022.5L1869.2 1022.3L1870.0 1021.1L1870.8 1022.5L1871.6 1022.2L1872.4 1023.1L1873.2 1021.8L1874.0 1021.7L1874.8 1021.4L1875.6 1021.6L1876.4 1021.3L1877.2 1021.8L1878.0 1022.7L1878.8 1022.7L1879.6 1023.6L1880.4 1023.5L1881.2 1023.1L1882.0 1021.3L1882.8 1023.1L1883.6 1023.8L1884.4 1021.4L1885.2 1021.6L1886.0 1021.8L1886.8 1021.8L1887.6 1022.6L1888.4 1022.0L1889.2 1023.4L1890.0 1021.8L1890.8 1023.0L1891.6 1022.6L1892.4 1022.2L1893.2 1024.3L1894.0 1023.3L1894.8 1023.9L1895.6 1023.1L1896.4 1024.1L1897.2 1024.1L1898.0 1023.4L1898.8 1021.8L1899.6 1024.5L1900.4 1024.4L1901.2 1023.9L1902.0 1024.0L1902.8 1024.0L1903.6 1024.1L1904.4 1022.9L1905.2 1023.9L1906.0 1024.4L1906.8 1023.5L1907.6 1023.2L1908.4 1026.0L1909.2 1024.8L1910.0 1024.0L1910.8 1023.8L1911.6 1021.7L1912.4 1023.0L1913.2 1024.2L1914.0 1025.8L1914.8 1022.5L1915.6 1023.9L1916.4 1026.6L1917.2 1025.4L1918.0 1025.2L1918.8 1026.0L1919.6 1024.8L1920.4 1024.7L1921.2 1025.7L1922.0 1025.9L1922.8 1024.0L1923.6 1026.7L1924.4 1023.4L1925.2 1024.5L1926.0 1028.3L1926.8 1024.8L1927.6 1026.0L1928.4 1024.4L1929.2 1025.2L1930.0 1024.8L1930.8 1025.2L1931.6 1026.3L1932.4 1027.4L1933.2 1026.6L1934.0 1027.3L1934.8 1025.3L1935.6 1027.3L1936.4 1026.5L1937.2 1027.3L1938.0 1025.6L1938.8 1025.8L1939.6 1027.5L1940.4 1026.8L1941.2 1026.3L1942.0 1025.6L1942.8 1026.2L1943.6 1026.8L1944.4 1027.1L1945.2 1025.9L1946.0 1026.1L1946.8 1027.0L1947.6 1025.5L1948.4 1027.6L1949.2 1026.7L1950.0 1026.6L1950.8 1024.3L1951.6 1025.2L1952.4 1025.8L1953.2 1026.3L1954.0 1025.8L1954.8 1027.3L1955.6 1027.2L1956.4 1026.8L1957.2 1025.1L1958.0 1028.6L1958.8 1026.9L1959.6 1027.9L1960.4 1026.6L1961.2 1027.4L1962.0 1028.1L1962.8 1027.7L1963.6 1028.5L1964.4 1027.4L1965.2 1029.6L1966.0 1025.8L1966.8 1027.2L1967.6 1028.7L1968.4 1027.6L1969.2 1027.4L1970.0 1026.1L1970.8 1029.2L1971.6 1026.1L1972.4 1028.6L1973.2 1028.3L1974.0 1029.0L1974.8 1029.7L1975.6 1027.6L1976.4 1027.5L1977.2 1028.0L1978.0 1026.7L1978.8 1029.3L1979.6 1028.1L1980.4 1028.7L1981.2 1027.4L1982.0 1028.6L1982.8 1028.0L1983.6 1028.6L1984.4 1027.7L1985.2 1029.8L1986.0 1028.2L1986.8 1026.3L1987.6 1029.6L1988.4 1028.7L1989.2 1028.1L1990.0 1031.6L1990.8 1029.0L1991.6 1027.8L1992.4 1028.6L1993.2 1029.6L1994.0 1029.0L1994.8 1030.5L1995.6 1030.4L1996.4 1028.6L1997.2 1029.5L1998.0 1030.1L1998.8 1029.1L1999.6 1029.1L2000.4 1030.5L2001.2 1030.1L2002.0 1028.3L2002.8 1029.2L2003.6 1029.3L2004.4 1029.7L2005.2 1029.1L2006.0 1031.2L2006.8 1028.9L2007.6 1028.9L2008.4 1030.2L2009.2 1027.8L2010.0 1029.0L2010.8 1030.7L2011.6 1028.8L2012.4 1029.3L2013.2 1031.3L2014.0 1030.7L2014.8 1030.3L2015.6 1030.6L2016.4 1029.7L2017.2 1030.7L2018.0 1030.2L2018.8 1033.0L2019.6 1031.0L2020.4 1030.2L2021.2 1030.5L2022.0 1030.7L2022.8 1029.3L2023.6 1029.9L2024.4 1032.3L2025.2 1029.4L2026.0 1030.2L2026.8 1031.9L2027.6 1032.4L2028.4 1029.9L2029.2 1032.4L2030.0 1030.6L2030.8 1032.7L2031.6 1031.5L2032.4 1030.8L2033.2 1031.8L2034.0 1031.7L2034.8 1030.4L2035.6 1033.4L2036.4 1030.9L2037.2 1032.4L2038.0 1030.8L2038.8 1029.5L2039.6 1030.2L2040.4 1031.3L2041.2 1032.1L2042.0 1033.2L2042.8 1031.6L2043.6 1031.2L2044.4 1030.3L2045.2 1031.5L2046.0 1031.9L2046.8 1029.4L2047.6 1033.0L2048.4 1032.9L2049.2 1034.0L2050.0 1030.9L2050.8 1031.8L2051.6 1031.9L2052.4 1030.5L2053.2 1031.1L2054.0 1030.9L2054.8 1032.5L2055.6 1032.4L2056.4 1033.4L2057.2 1031.7L2058.0 1030.7L2058.8 1032.6L2059.6 1032.5L2060.4 1032.9L2061.2 1033.5L2062.0 1031.7L2062.8 1033.1L2063.6 1031.3L2064.4 1032.5L2065.2 1033.1L2066.0 1032.3L2066.8 1032.7L2067.6 1031.1L2068.4 1031.9L2069.2 1032.7L2070.0 1031.4L2070.8 1031.8L2071.6 1035.1L2072.4 1032.9L2073.2 1031.9L2074.0 1031.7L2074.8 1034.1L2075.6 1030.0L2076.4 1032.4L2077.2 1033.4L2078.0 1032.3L2078.8 1033.4L2079.6 1031.8L2080.4 1032.9L2081.2 1033.0L2082.0 1033.0L2082.8 1033.1L2083.6 1033.0L2084.4 1034.1L2085.2 1032.8L2086.0 1032.5L2086.8 1032.8L2087.6 1032.8L2088.4 1031.6L2089.2 1031.2L2090.0 1031.8L2090.8 1033.5L2091.6 1032.5L2092.4 1032.8L2093.2 1036.1L2094.0 1034.4L2094.8 1033.1L2095.6 1032.7L2096.4 1034.7L2097.2 1032.6L2098.0 1034.6L2098.8 1034.0L2099.6 1034.8L2100.4 1032.7L2101.2 1034.4L2102.0 1031.7L2102.8 1033.3L2103.6 1034.6L2104.4 1034.3L2105.2 1031.7L2106.0 1034.3L2106.8 1034.1L2107.6 1033.6L2108.4 1032.9L2109.2 1033.4L2110.0 1033.1L2110.8 1034.7L2111.6 1034.2L2112.4 1034.8L2113.2 1034.4L2114.0 1032.5L2114.8 1033.9L2115.6 1035.9L2116.4 1032.7L2117.2 1034.1L2118.0 1033.0L2118.8 1032.9L2119.6 1034.1L2120.4 1034.8L2121.2 1034.6L2122.0 1034.3L2122.8 1034.8L2123.6 1032.2L2124.4 1034.7L2125.2 1034.3L2126.0 1033.7L2126.8 1033.8L2127.6 1033.0L2128.4 1035.0L2129.2 1033.1L2130.0 1032.4L2130.8 1033.9L2131.6 1033.3L2132.4 1033.8L2133.2 1035.4L2134.0 1033.7L2134.8 1034.0" fill="none" stroke="#ff0000" stroke-width="5.6" stroke-linejoin="round" stroke-linecap="butt" shape-rendering="crispEdges"/>
<path d="M141.2 1393.3L142.0 1393.4L142.8 1393.9L143.6 1393.5L144.4 1392.6L145.2 1393.1L146.0 1392.8L146.8 1392.9L147.6 1392.2L148.4 1392.8L149.2 1392.7L150.0 1393.1L150.8 1392.6L151.6 1392.5L152.4 1391.7L153.2 1393.0L154.0 1391.4L154.8 1392.4L155.6 1391.8L156.4 1391.5L157.2 1391.5L158.0 1391.4L158.8 1391.7L159.6 1391.5L160.4 1391.9L161.2 1390.7L162.0 1391.2L162.8 1390.8L163.6 1391.3L164.4 1390.3L165.2 1390.8L166.0 1390.9L166.8 1390.2L167.6 1391.0L168.4 1390.6L169.2 1390.8L170.0 1390.7L170.8 1390.0L171.6 1390.0L172.4 1390.1L173.2 1390.3L174.0 1390.3L174.8 1389.7L175.6 1389.6L176.4 1389.5L177.2 1389.5L178.0 1389.5L178.8 1389.4L179.6 1390.1L180.4 1389.1L181.2 1389.1L182.0 1389.3L182.8 1388.7L183.6 1388.9L184.4 1388.9L185.2 1389.1L186.0 1388.3L186.8 1389.1L187.6 1388.5L188.4 1388.6L189.2 1388.7L190.0 1388.6L190.8 1388.6L191.6 1388.2L192.4 1388.1L193.2 1388.1L194.0 1387.6L194.8 1388.3L195.6 1387.5L196.4 1387.3L197.2 1388.4L198.0 1387.5L198.8 1387.1L199.6 1388.1L200.4 1387.2L201.2 1387.7L202.0 1386.9L202.8 1387.1L203.6 1386.5L204.4 1386.3L205.2 1386.6L206.0 1386.8L206.8 1387.1L207.6 1387.6L208.4 1386.3L209.2 1387.0L210.0 1386.3L210.8 1386.4L211.6 1385.9L212.4 1385.8L213.2 1386.0L214.0 1385.8L214.8 1386.2L215.6 1385.9L216.4 1386.5L217.2 1386.0L218.0 1386.0L218.8 1386.3L219.6 1386.0L220.4 1385.7L221.2 1385.7L222.0 1385.6L222.8 1385.9L223.6 1385.8L224.4 1385.6L225.2 1385.7L226.0 1385.1L226.8 1385.5L227.6 1384.7L228.4 1385.6L229.2 1385.1L230.0 1385.1L230.8 1385.2L231.6 1384.9L232.4 1384.8L233.2 1385.2L234.0 1384.8L234.8 1384.4L235.6 1384.8L236.4 1384.0L237.2 1385.1L238.0 1384.4L238.8 1384.4L239.6 1385.1L240.4 1385.0L241.2 1384.3L242.0 1384.4L242.8 1384.5L243.6 1384.6L244.4 1383.9L245.2 1384.0L246.0 1384.3L246.8 1383.9L247.6 1384.0L248.4 1383.9L249.2 1383.2L250.0 1383.3L250.8 1382.6L251.6 1383.3L252.4 1383.8L253.2 1382.9L254.0 1383.7L254.8 1383.5L255.6 1383.1L256.4 1383.1L257.2 1383.0L258.0 1382.6L258.8 1382.8L259.6 1382.8L260.4 1383.0L261.2 1383.0L262.0 1382.4L262.8 1382.9L263.6 1382.2L264.4 1382.4L265.2 1382.5L266.0 1382.3L266.8 1382.2L267.6 1382.3L268.4 1382.0L269.2 1381.9L270.0 1382.0L270.8 1382.3L271.6 1381.9L272.4 1382.5L273.2 1381.9L274.0 1380.7L274.8 1381.5L275.6 1382.2L276.4 1381.6L277.2 1381.4L278.0 1381.1L278.8 1381.9L279.6 1381.7L280.4 1381.5L281.2 1381.4L282.0 1381.7L282.8 1381.4L283.6 1380.6L284.4 1381.3L285.2 1381.0L286.0 1380.9L286.8 1381.1L287.6 1380.8L288.4 1379.7L289.2 1381.3L290.0 1381.0L290.8 1380.6L291.6 1380.4L292.4 1380.6L293.2 1380.0L294.0 1380.5L294.8 1380.3L295.6 1380.2L296.4 1379.9L297.2 1380.0L298.0 1380.5L298.8 1380.6L299.6 1380.2L300.4 1380.0L301.2 1379.6L302.0 1380.2L302.8 1380.4L303.6 1379.2L304.4 1380.2L305.2 1378.9L306.0 1379.5L306.8 1379.7L307.6 1379.1L308.4 1379.0L309.2 1379.5L310.0 1379.7L310.8 1379.2L311.6 1379.8L312.4 1379.0L313.2 1379.8L314.0 1379.2L314.8 1379.2L315.6 1379.2L316.4 1379.1L317.2 1379.6L318.0 1379.6L318.8 1379.0L319.6 1378.7L320.4 1378.3L321.2 1378.4L322.0 1378.6L322.8 1378.5L323.6 1378.5L324.4 1378.5L325.2 1378.6L326.0 1377.9L326.8 1377.9L327.6 1378.6L328.4 1378.5L329.2 1377.9L330.0 1378.5L330.8 1377.8L331.6 1377.9L332.4 1377.2L333.2 1378.1L334.0 1377.8L334.8 1378.1L335.6 1377.9L336.4 1377.6L337.2 1377.5L338.0 1377.8L338.8 1377.3L339.6 1377.2L340.4 1377.2L341.2 1377.4L342.0 1377.4L342.8 1377.6L343.6 1376.9L344.4 1377.3L345.2 1376.5L346.0 1376.9L346.8 1376.6L347.6 1377.1L348.4 1376.6L349.2 1376.1L350.0 1376.4L350.8 1376.2L351.6 1375.9L352.4 1375.8L353.2 1375.5L354.0 1376.7L354.8 1375.7L355.6 1375.9L356.4 1375.0L357.2 1374.9L358.0 1375.2L358.8 1375.1L359.6 1375.3L360.4 1374.5L361.2 1375.0L362.0 1375.2L362.8 1374.2L363.6 1374.7L364.4 1374.0L365.2 1374.3L366.0 1374.2L366.8 1374.5L367.6 1373.5L368.4 1373.7L369.2 1373.9L370.0 1373.0L370.8 1373.2L371.6 1372.8L372.4 1372.7L373.2 1373.0L374.0 1372.8L374.8 1373.3L375.6 1372.7L376.4 1372.5L377.2 1371.8L378.0 1371.6L378.8 1371.6L379.6 1370.5L380.4 1371.7L381.2 1370.7L382.0 1370.3L382.8 1370.3L383.6 1370.6L384.4 1370.5L385.2 1369.7L386.0 1369.8L386.8 1369.4L387.6 1368.9L388.4 1369.0L389.2 1368.8L390.0 1368.0L390.8 1368.7L391.6 1367.6L392.4 1368.0L393.2 1367.3L394.0 1367.2L394.8 1367.0L395.6 1367.3L396.4 1366.4L397.2 1366.5L398.0 1366.9L398.8 1365.9L399.6 1365.9L400.4 1365.9L401.2 1365.2L402.0 1365.3L402.8 1364.7L403.6 1364.9L404.4 1364.4L405.2 1363.8L406.0 1364.4L406.8 1363.6L407.6 1363.2L408.4 1362.7L409.2 1362.6L410.0 1362.4L410.8 1362.2L411.6 1362.2L412.4 1361.1L413.2 1361.1L414.0 1361.3L414.8 1360.6L415.6 1360.3L416.4 1360.4L417.2 1359.6L418.0 1359.3L418.8 1358.7L419.6 1359.0L420.4 1358.3L421.2 1357.3L422.0 1357.4L422.8 1356.4L423.6 1356.8L424.4 1356.3L425.2 1355.6L426.0 1355.1L426.8 1354.2L427.6 1354.7L428.4 1354.0L429.2 1353.6L430.0 1353.5L430.8 1352.6L431.6 1352.3L432.4 1351.8L433.2 1351.2L434.0 1352.1L434.8 1350.8L435.6 1350.3L436.4 1350.3L437.2 1348.5L438.0 1349.1L438.8 1348.7L439.6 1347.9L440.4 1348.0L441.2 1346.6L442.0 1346.9L442.8 1346.7L443.6 1345.1L444.4 1344.9L445.2 1344.8L446.0 1344.4L446.8 1343.6L447.6 1343.4L448.4 1342.8L449.2 1341.7L450.0 1341.5L450.8 1340.5L451.6 1339.6L452.4 1338.8L453.2 1339.4L454.0 1338.3L454.8 1338.4L455.6 1336.5L456.4 1336.2L457.2 1335.7L458.0 1334.9L458.8 1334.4L459.6 1333.5L460.4 1332.6L461.2 1331.2L462.0 1331.0L462.8 1331.1L463.6 1330.0L464.4 1329.4L465.2 1327.8L466.0 1327.1L466.8 1326.0L467.6 1325.5L468.4 1324.5L469.2 1323.7L470.0 1323.2L470.8 1321.3L471.6 1320.8L472.4 1319.1L473.2 1318.9L474.0 1317.3L474.8 1316.3L475.6 1315.3L476.4 1314.7L477.2 1312.9L478.0 1311.5L478.8 1309.9L479.6 1308.9L480.4 1306.8L481.2 1305.0L482.0 1302.9L482.8 1300.8L483.6 1298.0L484.4 1296.2L485.2 1294.1L486.0 1290.5L486.8 1289.0L487.6 1286.9L488.4 1283.7L489.2 1281.9L490.0 1278.9L490.8 1277.2L491.6 1274.6L492.4 1272.2L493.2 1268.9L494.0 1265.7L494.8 1262.3L495.6 1258.6L496.4 1254.8L497.2 1251.0L498.0 1246.7L498.8 1243.1L499.6 1239.2L500.4 1233.8L501.2 1230.2L502.0 1225.4L502.8 1220.9L503.6 1216.7L504.4 1213.1L505.2 1209.6L506.0 1206.5L506.8 1202.6L507.6 1200.1L508.4 1196.4L509.2 1194.0L510.0 1191.3L510.8 1187.9L511.6 1186.2L512.4 1184.1L513.2 1180.8L514.0 1178.9L514.8 1176.5L515.6 1174.6L516.4 1172.7L517.2 1171.1L518.0 1170.3L518.8 1169.2L519.6 1167.7L520.4 1167.2L521.2 1166.2L522.0 1165.5L522.8 1164.8L523.6 1165.8L524.4 1165.7L525.2 1164.7L526.0 1165.3L526.8 1165.8L527.6 1166.7L528.4 1167.2L529.2 1167.1L530.0 1167.8L530.8 1168.8L531.6 1169.5L532.4 1172.1L533.2 1174.2L534.0 1176.9L534.8 1179.5L535.6 1181.8L536.4 1184.4L537.2 1187.7L538.0 1190.9L538.8 1193.9L539.6 1197.5L540.4 1200.0L541.2 1202.3L542.0 1204.8L542.8 1207.0L543.6 1209.0L544.4 1211.3L545.2 1212.9L546.0 1214.8L546.8 1216.3L547.6 1217.6L548.4 1219.6L549.2 1220.7L550.0 1222.4L550.8 1223.5L551.6 1225.3L552.4 1226.7L553.2 1228.3L554.0 1230.2L554.8 1231.7L555.6 1232.4L556.4 1233.1L557.2 1234.3L558.0 1234.9L558.8 1235.3L559.6 1236.1L560.4 1236.6L561.2 1237.1L562.0 1238.3L562.8 1238.1L563.6 1238.6L564.4 1239.4L565.2 1239.3L566.0 1239.6L566.8 1240.0L567.6 1240.9L568.4 1241.2L569.2 1241.5L570.0 1241.5L570.8 1241.7L571.6 1242.7L572.4 1242.2L573.2 1243.0L574.0 1242.9L574.8 1243.6L575.6 1244.0L576.4 1244.8L577.2 1243.6L578.0 1245.4L578.8 1244.8L579.6 1245.5L580.4 1245.8L581.2 1245.5L582.0 1245.8L582.8 1246.1L583.6 1246.0L584.4 1245.7L585.2 1246.1L586.0 1246.0L586.8 1245.3L587.6 1246.3L588.4 1245.7L589.2 1244.7L590.0 1245.1L590.8 1245.8L591.6 1245.5L592.4 1244.9L593.2 1243.9L594.0 1244.2L594.8 1244.4L595.6 1243.9L596.4 1243.3L597.2 1242.8L598.0 1243.1L598.8 1242.4L599.6 1242.2L600.4 1241.7L601.2 1241.3L602.0 1239.9L602.8 1239.0L603.6 1237.1L604.4 1236.9L605.2 1235.6L606.0 1234.0L606.8 1231.9L607.6 1231.2L608.4 1230.1L609.2 1229.6L610.0 1227.9L610.8 1226.9L611.6 1225.7L612.4 1224.8L613.2 1222.8L614.0 1221.7L614.8 1220.4L615.6 1219.6L616.4 1218.4L617.2 1217.5L618.0 1216.0L618.8 1215.3L619.6 1214.0L620.4 1214.1L621.2 1212.2L622.0 1212.4L622.8 1211.1L623.6 1209.3L624.4 1209.2L625.2 1208.2L626.0 1206.6L626.8 1206.5L627.6 1205.4L628.4 1204.7L629.2 1203.5L630.0 1202.7L630.8 1201.9L631.6 1201.3L632.4 1201.3L633.2 1201.7L634.0 1201.9L634.8 1203.0L635.6 1202.7L636.4 1204.9L637.2 1205.3L638.0 1206.4L638.8 1207.6L639.6 1207.9L640.4 1210.2L641.2 1210.2L642.0 1212.2L642.8 1213.8L643.6 1216.0L644.4 1217.5L645.2 1219.1L646.0 1221.8L646.8 1223.1L647.6 1226.1L648.4 1228.7L649.2 1232.5L650.0 1235.1L650.8 1238.3L651.6 1241.3L652.4 1244.0L653.2 1246.3L654.0 1248.7L654.8 1250.1L655.6 1252.5L656.4 1254.0L657.2 1256.3L658.0 1258.1L658.8 1259.1L659.6 1260.6L660.4 1261.8L661.2 1262.7L662.0 1263.1L662.8 1262.8L663.6 1262.4L664.4 1262.1L665.2 1262.8L666.0 1262.9L666.8 1262.4L667.6 1262.6L668.4 1261.7L669.2 1261.5L670.0 1262.0L670.8 1260.8L671.6 1261.1L672.4 1260.7L673.2 1260.2L674.0 1260.2L674.8 1258.6L675.6 1258.1L676.4 1256.7L677.2 1256.3L678.0 1255.8L678.8 1255.1L679.6 1254.4L680.4 1254.0L681.2 1253.1L682.0 1252.0L682.8 1252.2L683.6 1251.6L684.4 1250.5L685.2 1250.0L686.0 1250.3L686.8 1249.5L687.6 1249.0L688.4 1248.3L689.2 1247.8L690.0 1247.2L690.8 1247.4L691.6 1247.0L692.4 1246.8L693.2 1247.0L694.0 1247.1L694.8 1247.5L695.6 1247.0L696.4 1248.4L697.2 1247.3L698.0 1247.7L698.8 1248.5L699.6 1248.1L700.4 1248.5L701.2 1249.0L702.0 1248.2L702.8 1249.4L703.6 1249.6L704.4 1250.4L705.2 1251.4L706.0 1252.3L706.8 1253.6L707.6 1254.7L708.4 1255.8L709.2 1256.7L710.0 1258.3L710.8 1259.0L711.6 1260.6L712.4 1262.4L713.2 1263.4L714.0 1263.7L714.8 1265.0L715.6 1266.5L716.4 1267.5L717.2 1268.6L718.0 1268.7L718.8 1269.9L719.6 1271.2L720.4 1271.9L721.2 1273.2L722.0 1274.2L722.8 1275.2L723.6 1275.8L724.4 1276.8L725.2 1277.6L726.0 1278.1L726.8 1278.3L727.6 1279.9L728.4 1280.2L729.2 1280.9L730.0 1281.5L730.8 1281.6L731.6 1283.0L732.4 1283.2L733.2 1283.6L734.0 1285.0L734.8 1285.0L735.6 1285.6L736.4 1286.3L737.2 1286.9L738.0 1286.0L738.8 1286.6L739.6 1287.2L740.4 1286.8L741.2 1285.9L742.0 1287.1L742.8 1287.1L743.6 1287.3L744.4 1287.1L745.2 1286.9L746.0 1287.1L746.8 1287.0L747.6 1286.8L748.4 1287.1L749.2 1287.1L750.0 1286.6L750.8 1287.4L751.6 1287.3L752.4 1287.3L753.2 1286.0L754.0 1287.0L754.8 1286.9L755.6 1286.4L756.4 1286.8L757.2 1285.9L758.0 1286.5L758.8 1285.9L759.6 1285.2L760.4 1285.5L761.2 1284.7L762.0 1284.2L762.8 1283.1L763.6 1283.2L764.4 1283.0L765.2 1282.3L766.0 1280.9L766.8 1281.2L767.6 1280.7L768.4 1279.8L769.2 1278.7L770.0 1277.5L770.8 1276.8L771.6 1275.8L772.4 1275.0L773.2 1273.9L774.0 1272.2L774.8 1270.5L775.6 1269.5L776.4 1267.8L777.2 1267.3L778.0 1264.9L778.8 1264.0L779.6 1262.6L780.4 1260.5L781.2 1259.8L782.0 1258.0L782.8 1256.3L783.6 1254.7L784.4 1253.6L785.2 1252.4L786.0 1249.7L786.8 1249.0L787.6 1247.1L788.4 1245.3L789.2 1243.8L790.0 1242.2L790.8 1240.5L791.6 1239.1L792.4 1236.8L793.2 1236.1L794.0 1233.9L794.8 1231.4L795.6 1229.0L796.4 1227.8L797.2 1225.8L798.0 1224.3L798.8 1222.6L799.6 1221.4L800.4 1219.2L801.2 1218.1L802.0 1216.2L802.8 1214.9L803.6 1214.2L804.4 1212.4L805.2 1211.2L806.0 1210.1L806.8 1209.5L807.6 1208.8L808.4 1207.9L809.2 1206.8L810.0 1206.7L810.8 1205.7L811.6 1205.2L812.4 1204.9L813.2 1204.4L814.0 1203.1L814.8 1204.2L815.6 1203.7L816.4 1204.0L817.2 1204.2L818.0 1203.1L818.8 1203.5L819.6 1204.1L820.4 1204.7L821.2 1204.7L822.0 1205.3L822.8 1206.4L823.6 1206.4L824.4 1207.4L825.2 1208.5L826.0 1208.7L826.8 1209.9L827.6 1210.6L828.4 1211.2L829.2 1212.9L830.0 1214.5L830.8 1216.0L831.6 1217.8L832.4 1219.6L833.2 1221.3L834.0 1223.1L834.8 1224.9L835.6 1227.2L836.4 1229.5L837.2 1232.0L838.0 1235.3L838.8 1236.7L839.6 1240.1L840.4 1242.0L841.2 1244.9L842.0 1248.0L842.8 1250.2L843.6 1253.5L844.4 1255.4L845.2 1258.3L846.0 1260.9L846.8 1263.6L847.6 1266.0L848.4 1268.2L849.2 1270.6L850.0 1273.1L850.8 1275.0L851.6 1277.1L852.4 1279.1L853.2 1281.1L854.0 1282.8L854.8 1284.9L855.6 1287.1L856.4 1288.2L857.2 1290.7L858.0 1291.8L858.8 1292.9L859.6 1294.3L860.4 1295.7L861.2 1296.6L862.0 1297.4L862.8 1298.7L863.6 1299.7L864.4 1299.1L865.2 1300.6L866.0 1300.8L866.8 1301.4L867.6 1302.5L868.4 1303.8L869.2 1304.2L870.0 1305.0L870.8 1306.5L871.6 1307.1L872.4 1307.7L873.2 1309.2L874.0 1309.6L874.8 1309.9L875.6 1310.6L876.4 1311.6L877.2 1312.5L878.0 1313.5L878.8 1314.2L879.6 1314.6L880.4 1314.8L881.2 1316.1L882.0 1316.5L882.8 1316.7L883.6 1317.2L884.4 1318.3L885.2 1318.9L886.0 1319.6L886.8 1319.4L887.6 1321.1L888.4 1320.2L889.2 1321.3L890.0 1322.3L890.8 1322.6L891.6 1322.3L892.4 1323.3L893.2 1323.9L894.0 1324.1L894.8 1323.9L895.6 1325.2L896.4 1324.4L897.2 1325.4L898.0 1325.3L898.8 1325.9L899.6 1326.3L900.4 1326.9L901.2 1326.6L902.0 1327.4L902.8 1328.1L903.6 1327.9L904.4 1328.3L905.2 1328.5L906.0 1328.4L906.8 1328.7L907.6 1329.1L908.4 1329.5L909.2 1330.2L910.0 1330.3L910.8 1329.7L911.6 1329.9L912.4 1329.9L913.2 1329.6L914.0 1331.1L914.8 1331.0L915.6 1330.2L916.4 1331.1L917.2 1332.1L918.0 1331.6L918.8 1331.7L919.6 1331.8L920.4 1331.6L921.2 1331.6L922.0 1331.8L922.8 1332.3L923.6 1332.3L924.4 1332.8L925.2 1333.3L926.0 1333.0L926.8 1333.3L927.6 1333.0L928.4 1332.8L929.2 1334.1L930.0 1333.8L930.8 1334.1L931.6 1333.7L932.4 1333.4L933.2 1334.6L934.0 1333.5L934.8 1334.4L935.6 1334.4L936.4 1334.8L937.2 1335.2L938.0 1335.4L938.8 1334.5L939.6 1335.7L940.4 1334.9L941.2 1335.9L942.0 1335.7L942.8 1335.6L943.6 1335.9L944.4 1335.8L945.2 1336.4L946.0 1336.8L946.8 1336.9L947.6 1336.7L948.4 1337.1L949.2 1337.0L950.0 1337.7L950.8 1337.1L951.6 1336.8L952.4 1336.9L953.2 1336.7L954.0 1336.9L954.8 1336.9L955.6 1337.2L956.4 1337.3L957.2 1337.0L958.0 1337.1L958.8 1336.7L959.6 1336.8L960.4 1336.1L961.2 1336.7L962.0 1336.8L962.8 1337.9L963.6 1336.5L964.4 1337.0L965.2 1336.9L966.0 1336.4L966.8 1337.1L967.6 1337.0L968.4 1336.5L969.2 1336.2L970.0 1337.0L970.8 1336.5L971.6 1337.2L972.4 1336.9L973.2 1337.3L974.0 1337.1L974.8 1337.9L975.6 1337.8L976.4 1338.4L977.2 1338.1L978.0 1338.0L978.8 1338.2L979.6 1338.9L980.4 1339.5L981.2 1339.6L982.0 1341.0L982.8 1340.5L983.6 1341.1L984.4 1341.3L985.2 1341.2L986.0 1342.4L986.8 1342.6L987.6 1343.0L988.4 1342.7L989.2 1343.3L990.0 1343.6L990.8 1344.4L991.6 1343.8L992.4 1344.9L993.2 1345.5L994.0 1345.2L994.8 1345.5L995.6 1346.6L996.4 1346.6L997.2 1347.2L998.0 1347.5L998.8 1348.0L999.6 1347.9L1000.4 1347.5L1001.2 1348.9L1002.0 1348.8L1002.8 1349.6L1003.6 1349.5L1004.4 1350.6L1005.2 1350.2L1006.0 1350.9L1006.8 1351.3L1007.6 1351.1L1008.4 1351.5L1009.2 1351.6L1010.0 1351.5L1010.8 1352.6L1011.6 1351.9L1012.4 1351.8L1013.2 1352.4L1014.0 1352.8L1014.8 1352.9L1015.6 1352.9L1016.4 1353.0L1017.2 1352.6L1018.0 1353.7L1018.8 1354.3L1019.6 1353.5L1020.4 1353.3L1021.2 1354.4L1022.0 1354.2L1022.8 1352.9L1023.6 1354.2L1024.4 1354.1L1025.2 1354.3L1026.0 1355.5L1026.8 1355.3L1027.6 1355.0L1028.4 1355.1L1029.2 1355.8L1030.0 1354.9L1030.8 1355.6L1031.6 1355.2L1032.4 1355.8L1033.2 1355.6L1034.0 1355.3L1034.8 1356.0L1035.6 1355.9L1036.4 1356.4L1037.2 1355.6L1038.0 1355.8L1038.8 1355.6L1039.6 1356.3L1040.4 1355.6L1041.2 1355.9L1042.0 1356.4L1042.8 1356.2L1043.6 1356.1L1044.4 1356.2L1045.2 1356.2L1046.0 1356.3L1046.8 1356.0L1047.6 1355.4L1048.4 1356.7L1049.2 1355.8L1050.0 1356.9L1050.8 1356.3L1051.6 1357.4L1052.4 1356.7L1053.2 1356.4L1054.0 1356.6L1054.8 1355.8L1055.6 1356.4L1056.4 1356.2L1057.2 1356.3L1058.0 1355.6L1058.8 1355.5L1059.6 1356.5L1060.4 1356.3L1061.2 1356.1L1062.0 1356.1L1062.8 1355.9L1063.6 1355.9L1064.4 1356.2L1065.2 1355.8L1066.0 1356.1L1066.8 1355.5L1067.6 1355.0L1068.4 1355.3L1069.2 1355.4L1070.0 1355.0L1070.8 1355.2L1071.6 1355.0L1072.4 1355.5L1073.2 1355.4L1074.0 1355.4L1074.8 1354.6L1075.6 1354.9L1076.4 1355.2L1077.2 1354.7L1078.0 1354.6L1078.8 1354.2L1079.6 1354.8L1080.4 1354.5L1081.2 1354.7L1082.0 1354.3L1082.8 1355.1L1083.6 1354.3L1084.4 1353.8L1085.2 1354.3L1086.0 1354.3L1086.8 1354.6L1087.6 1353.9L1088.4 1353.9L1089.2 1353.9L1090.0 1353.9L1090.8 1353.2L1091.6 1354.3L1092.4 1354.4L1093.2 1353.7L1094.0 1353.7L1094.8 1354.0L1095.6 1353.8L1096.4 1354.4L1097.2 1354.0L1098.0 1354.5L1098.8 1353.9L1099.6 1354.0L1100.4 1354.0L1101.2 1354.2L1102.0 1355.0L1102.8 1355.3L1103.6 1355.2L1104.4 1355.4L1105.2 1354.6L1106.0 1356.0L1106.8 1355.3L1107.6 1356.4L1108.4 1357.0L1109.2 1356.3L1110.0 1356.7L1110.8 1356.8L1111.6 1356.3L1112.4 1356.6L1113.2 1357.0L1114.0 1357.6L1114.8 1358.1L1115.6 1358.2L1116.4 1358.9L1117.2 1358.7L1118.0 1358.8L1118.8 1359.7L1119.6 1360.1L1120.4 1360.0L1121.2 1361.3L1122.0 1360.9L1122.8 1361.4L1123.6 1362.2L1124.4 1362.1L1125.2 1363.0L1126.0 1363.3L1126.8 1363.6L1127.6 1363.8L1128.4 1363.9L1129.2 1364.1L1130.0 1364.8L1130.8 1365.4L1131.6 1365.5L1132.4 1365.6L1133.2 1366.2L1134.0 1366.6L1134.8 1365.9L1135.6 1366.6L1136.4 1367.4L1137.2 1367.0L1138.0 1367.3L1138.8 1367.9L1139.6 1367.9L1140.4 1368.7L1141.2 1368.4L1142.0 1368.9L1142.8 1369.8L1143.6 1369.6L1144.4 1368.9L1145.2 1369.2L1146.0 1369.4L1146.8 1369.9L1147.6 1369.6L1148.4 1370.5L1149.2 1371.1L1150.0 1371.2L1150.8 1370.5L1151.6 1370.7L1152.4 1370.9L1153.2 1370.8L1154.0 1371.8L1154.8 1371.0L1155.6 1371.0L1156.4 1371.6L1157.2 1371.7L1158.0 1372.2L1158.8 1372.3L1159.6 1371.8L1160.4 1371.2L1161.2 1372.2L1162.0 1372.4L1162.8 1372.8L1163.6 1371.7L1164.4 1371.9L1165.2 1372.9L1166.0 1373.0L1166.8 1373.0L1167.6 1372.5L1168.4 1373.1L1169.2 1372.5L1170.0 1372.3L1170.8 1372.8L1171.6 1372.9L1172.4 1373.2L1173.2 1373.4L1174.0 1372.4L1174.8 1373.2L1175.6 1373.4L1176.4 1372.8L1177.2 1373.2L1178.0 1373.4L1178.8 1373.6L1179.6 1373.2L1180.4 1373.4L1181.2 1373.3L1182.0 1373.9L1182.8 1373.7L1183.6 1373.7L1184.4 1374.3L1185.2 1374.1L1186.0 1373.8L1186.8 1374.7L1187.6 1374.8L1188.4 1374.7L1189.2 1374.3L1190.0 1375.2L1190.8 1374.7L1191.6 1374.3L1192.4 1375.1L1193.2 1375.9L1194.0 1375.2L1194.8 1375.7L1195.6 1376.1L1196.4 1375.8L1197.2 1375.7L1198.0 1376.0L1198.8 1376.3L1199.6 1376.1L1200.4 1376.5L1201.2 1376.7L1202.0 1376.5L1202.8 1377.0L1203.6 1377.1L1204.4 1376.9L1205.2 1377.1L1206.0 1377.3L1206.8 1377.3L1207.6 1377.4L1208.4 1377.3L1209.2 1377.8L1210.0 1378.1L1210.8 1378.2L1211.6 1377.8L1212.4 1378.4L1213.2 1378.6L1214.0 1378.2L1214.8 1378.8L1215.6 1378.7L1216.4 1378.7L1217.2 1379.0L1218.0 1379.0L1218.8 1378.4L1219.6 1379.4L1220.4 1379.1L1221.2 1379.5L1222.0 1379.9L1222.8 1379.7L1223.6 1379.8L1224.4 1380.1L1225.2 1380.4L1226.0 1380.0L1226.8 1380.2L1227.6 1380.7L1228.4 1381.2L1229.2 1380.8L1230.0 1381.2L1230.8 1380.7L1231.6 1381.1L1232.4 1381.3L1233.2 1380.9L1234.0 1381.4L1234.8 1381.5L1235.6 1380.8L1236.4 1381.8L1237.2 1382.0L1238.0 1382.1L1238.8 1382.2L1239.6 1381.8L1240.4 1382.1L1241.2 1382.4L1242.0 1382.3L1242.8 1382.5L1243.6 1383.2L1244.4 1382.6L1245.2 1382.9L1246.0 1383.8L1246.8 1383.2L1247.6 1383.0L1248.4 1383.5L1249.2 1383.6L1250.0 1383.7L1250.8 1383.2L1251.6 1384.0L1252.4 1384.1L1253.2 1384.8L1254.0 1384.4L1254.8 1384.2L1255.6 1384.5L1256.4 1384.8L1257.2 1384.6L1258.0 1384.7L1258.8 1385.3L1259.6 1385.1L1260.4 1385.3L1261.2 1384.8L1262.0 1385.4L1262.8 1384.7L1263.6 1385.9L1264.4 1385.4L1265.2 1385.9L1266.0 1386.3L1266.8 1385.5L1267.6 1386.4L1268.4 1386.2L1269.2 1386.6L1270.0 1386.2L1270.8 1386.2L1271.6 1387.0L1272.4 1386.8L1273.2 1386.8L1274.0 1386.5L1274.8 1387.4L1275.6 1386.9L1276.4 1387.1L1277.2 1387.0L1278.0 1387.4L1278.8 1387.7L1279.6 1387.5L1280.4 1387.6L1281.2 1387.6L1282.0 1388.4L1282.8 1388.5L1283.6 1387.9L1284.4 1387.8L1285.2 1388.3L1286.0 1387.8L1286.8 1388.5L1287.6 1388.6L1288.4 1388.7L1289.2 1389.3L1290.0 1389.4L1290.8 1389.1L1291.6 1388.9L1292.4 1389.5L1293.2 1389.6L1294.0 1388.9L1294.8 1389.1L1295.6 1389.4L1296.4 1389.0L1297.2 1389.3L1298.0 1390.3L1298.8 1389.4L1299.6 1390.2L1300.4 1389.8L1301.2 1390.5L1302.0 1390.3L1302.8 1390.6L1303.6 1389.9L1304.4 1390.6L1305.2 1390.4L1306.0 1391.0L1306.8 1391.0L1307.6 1390.9L1308.4 1390.9L1309.2 1391.1L1310.0 1391.2L1310.8 1391.1L1311.6 1391.2L1312.4 1391.2L1313.2 1391.2L1314.0 1392.0L1314.8 1391.2L1315.6 1392.2L1316.4 1392.1L1317.2 1391.4L1318.0 1391.4L1318.8 1392.1L1319.6 1391.9L1320.4 1392.4L1321.2 1392.7L1322.0 1392.6L1322.8 1392.5L1323.6 1392.6L1324.4 1393.2L1325.2 1392.7L1326.0 1393.5L1326.8 1393.7L1327.6 1393.0L1328.4 1393.3L1329.2 1393.8L1330.0 1393.1L1330.8 1393.6L1331.6 1393.9L1332.4 1393.2L1333.2 1393.8L1334.0 1393.8L1334.8 1393.7L1335.6 1394.5L1336.4 1394.0L1337.2 1394.9L1338.0 1394.4L1338.8 1394.0L1339.6 1394.4L1340.4 1394.2L1341.2 1394.8L1342.0 1394.8L1342.8 1394.2L1343.6 1394.6L1344.4 1395.0L1345.2 1394.9L1346.0 1394.6L1346.8 1395.4L1347.6 1395.6L1348.4 1394.7L1349.2 1395.8L1350.0 1394.6L1350.8 1395.4L1351.6 1395.2L1352.4 1395.3L1353.2 1395.7L1354.0 1395.3L1354.8 1395.7L1355.6 1396.4L1356.4 1396.0L1357.2 1396.5L1358.0 1396.3L1358.8 1395.5L1359.6 1396.7L1360.4 1396.5L1361.2 1396.5L1362.0 1396.2L1362.8 1396.2L1363.6 1396.1L1364.4 1396.5L1365.2 1396.6L1366.0 1396.6L1366.8 1396.7L1367.6 1396.1L1368.4 1396.6L1369.2 1396.6L1370.0 1397.1L1370.8 1396.9L1371.6 1396.9L1372.4 1397.2L1373.2 1397.0L1374.0 1397.2L1374.8 1397.7L1375.6 1397.3L1376.4 1397.1L1377.2 1397.7L1378.0 1397.8L1378.8 1397.8L1379.6 1397.2L1380.4 1398.1L1381.2 1397.8L1382.0 1397.9L1382.8 1398.0L1383.6 1398.2L1384.4 1398.2L1385.2 1398.7L1386.0 1398.3L1386.8 1398.3L1387.6 1398.6L1388.4 1398.4L1389.2 1398.9L1390.0 1398.6L1390.8 1398.9L1391.6 1398.5L1392.4 1399.1L1393.2 1399.1L1394.0 1398.6L1394.8 1398.9L1395.6 1399.1L1396.4 1398.7L1397.2 1398.8L1398.0 1399.5L1398.8 1399.5L1399.6 1399.9L1400.4 1399.1L1401.2 1399.5L1402.0 1399.0L1402.8 1400.3L1403.6 1399.4L1404.4 1399.8L1405.2 1400.6L1406.0 1400.5L1406.8 1399.8L1407.6 1401.0L1408.4 1400.4L1409.2 1400.0L1410.0 1400.5L1410.8 1400.7L1411.6 1400.8L1412.4 1399.9L1413.2 1401.3L1414.0 1400.2L1414.8 1400.8L1415.6 1401.4L1416.4 1401.1L1417.2 1401.1L1418.0 1400.9L1418.8 1401.4L1419.6 1401.8L1420.4 1401.2L1421.2 1401.6L1422.0 1401.4L1422.8 1401.4L1423.6 1400.9L1424.4 1401.8L1425.2 1402.1L1426.0 1401.8L1426.8 1402.3L1427.6 1402.1L1428.4 1402.5L1429.2 1402.2L1430.0 1402.1L1430.8 1402.1L1431.6 1402.4L1432.4 1402.5L1433.2 1402.2L1434.0 1402.5L1434.8 1402.2L1435.6 1402.3L1436.4 1403.0L1437.2 1403.0L1438.0 1403.2L1438.8 1403.1L1439.6 1403.2L1440.4 1403.8L1441.2 1402.9L1442.0 1403.4L1442.8 1403.9L1443.6 1404.1L1444.4 1403.7L1445.2 1403.5L1446.0 1403.3L1446.8 1403.7L1447.6 1403.8L1448.4 1403.8L1449.2 1404.1L1450.0 1404.2L1450.8 1403.9L1451.6 1403.8L1452.4 1404.0L1453.2 1404.3L1454.0 1404.8L1454.8 1403.8L1455.6 1404.7L1456.4 1404.3L1457.2 1404.8L1458.0 1405.1L1458.8 1404.7L1459.6 1404.2L1460.4 1404.5L1461.2 1404.8L1462.0 1404.6L1462.8 1404.8L1463.6 1404.6L1464.4 1404.8L1465.2 1404.7L1466.0 1405.2L1466.8 1405.1L1467.6 1405.2L1468.4 1404.5L1469.2 1404.9L1470.0 1404.9L1470.8 1405.0L1471.6 1404.9L1472.4 1405.0L1473.2 1405.8L1474.0 1405.2L1474.8 1404.9L1475.6 1405.2L1476.4 1406.1L1477.2 1405.6L1478.0 1405.1L1478.8 1405.4L1479.6 1405.4L1480.4 1405.5L1481.2 1404.9L1482.0 1405.2L1482.8 1405.5L1483.6 1405.0L1484.4 1405.6L1485.2 1405.7L1486.0 1405.9L1486.8 1406.1L1487.6 1405.7L1488.4 1405.8L1489.2 1406.0L1490.0 1406.2L1490.8 1405.9L1491.6 1405.6L1492.4 1406.1L1493.2 1406.2L1494.0 1406.0L1494.8 1406.2L1495.6 1406.5L1496.4 1405.9L1497.2 1405.8L1498.0 1405.7L1498.8 1406.2L1499.6 1406.5L1500.4 1406.0L1501.2 1406.8L1502.0 1406.0L1502.8 1406.4L1503.6 1406.3L1504.4 1406.8L1505.2 1406.2L1506.0 1406.9L1506.8 1406.4L1507.6 1406.0L1508.4 1406.3L1509.2 1406.5L1510.0 1407.1L1510.8 1406.4L1511.6 1406.6L1512.4 1407.4L1513.2 1406.8L1514.0 1406.5L1514.8 1406.5L1515.6 1406.3L1516.4 1407.0L1517.2 1407.3L1518.0 1406.8L1518.8 1406.6L1519.6 1407.0L1520.4 1407.0L1521.2 1407.0L1522.0 1407.2L1522.8 1407.1L1523.6 1407.0L1524.4 1407.4L1525.2 1406.5L1526.0 1406.8L1526.8 1407.1L1527.6 1406.7L1528.4 1407.7L1529.2 1406.5L1530.0 1407.5L1530.8 1407.4L1531.6 1407.4L1532.4 1407.4L1533.2 1407.1L1534.0 1407.0L1534.8 1407.8L1535.6 1407.2L1536.4 1406.8L1537.2 1406.9L1538.0 1406.8L1538.8 1407.4L1539.6 1407.7L1540.4 1407.2L1541.2 1407.3L1542.0 1407.1L1542.8 1407.6L1543.6 1407.6L1544.4 1407.6L1545.2 1407.9L1546.0 1406.9L1546.8 1407.6L1547.6 1406.8L1548.4 1407.5L1549.2 1407.6L1550.0 1407.6L1550.8 1407.6L1551.6 1407.3L1552.4 1407.1L1553.2 1407.6L1554.0 1407.1L1554.8 1407.6L1555.6 1407.0L1556.4 1407.4L1557.2 1407.4L1558.0 1407.0L1558.8 1407.2L1559.6 1407.6L1560.4 1407.3L1561.2 1407.5L1562.0 1407.1L1562.8 1407.4L1563.6 1406.8L1564.4 1407.1L1565.2 1407.7L1566.0 1407.5L1566.8 1407.3L1567.6 1407.4L1568.4 1406.9L1569.2 1407.5L1570.0 1406.9L1570.8 1407.1L1571.6 1407.5L1572.4 1407.1L1573.2 1407.1L1574.0 1407.3L1574.8 1407.3L1575.6 1407.7L1576.4 1406.7L1577.2 1407.1L1578.0 1407.5L1578.8 1407.1L1579.6 1407.1L1580.4 1406.9L1581.2 1407.1L1582.0 1407.4L1582.8 1407.5L1583.6 1407.2L1584.4 1407.5L1585.2 1407.1L1586.0 1406.5L1586.8 1407.2L1587.6 1406.3L1588.4 1406.9L1589.2 1406.9L1590.0 1406.4L1590.8 1406.7L1591.6 1406.6L1592.4 1406.7L1593.2 1406.5L1594.0 1406.8L1594.8 1406.4L1595.6 1406.7L1596.4 1406.4L1597.2 1406.5L1598.0 1406.4L1598.8 1406.1L1599.6 1406.6L1600.4 1406.4L1601.2 1405.4L1602.0 1405.6L1602.8 1406.6L1603.6 1405.8L1604.4 1406.8L1605.2 1406.0L1606.0 1405.9L1606.8 1405.5L1607.6 1405.6L1608.4 1405.6L1609.2 1405.8L1610.0 1405.5L1610.8 1405.4L1611.6 1405.0L1612.4 1405.1L1613.2 1405.0L1614.0 1405.0L1614.8 1404.7L1615.6 1404.4L1616.4 1404.6L1617.2 1403.7L1618.0 1403.9L1618.8 1404.0L1619.6 1404.3L1620.4 1403.8L1621.2 1403.5L1622.0 1403.9L1622.8 1403.5L1623.6 1403.8L1624.4 1403.1L1625.2 1402.8L1626.0 1402.8L1626.8 1403.3L1627.6 1403.1L1628.4 1402.5L1629.2 1402.6L1630.0 1401.7L1630.8 1402.4L1631.6 1402.0L1632.4 1401.7L1633.2 1401.6L1634.0 1401.6L1634.8 1401.2L1635.6 1401.1L1636.4 1400.8L1637.2 1401.6L1638.0 1400.7L1638.8 1400.9L1639.6 1401.2L1640.4 1401.2L1641.2 1401.3L1642.0 1400.5L1642.8 1400.6L1643.6 1400.6L1644.4 1400.0L1645.2 1400.9L1646.0 1400.0L1646.8 1400.5L1647.6 1400.8L1648.4 1400.7L1649.2 1400.3L1650.0 1400.7L1650.8 1400.7L1651.6 1399.8L1652.4 1400.2L1653.2 1400.5L1654.0 1400.4L1654.8 1400.1L1655.6 1400.2L1656.4 1400.9L1657.2 1400.0L1658.0 1400.5L1658.8 1399.7L1659.6 1400.3L1660.4 1400.5L1661.2 1400.0L1662.0 1399.9L1662.8 1400.7L1663.6 1400.1L1664.4 1400.5L1665.2 1399.7L1666.0 1400.8L1666.8 1399.7L1667.6 1400.1L1668.4 1400.4L1669.2 1400.6L1670.0 1400.9L1670.8 1401.4L1671.6 1401.7L1672.4 1401.8L1673.2 1401.6L1674.0 1401.6L1674.8 1401.0L1675.6 1401.8L1676.4 1401.8L1677.2 1402.4L1678.0 1402.1L1678.8 1402.3L1679.6 1402.5L1680.4 1403.1L1681.2 1403.2L1682.0 1402.9L1682.8 1402.9L1683.6 1403.4L1684.4 1403.6L1685.2 1403.8L1686.0 1404.1L1686.8 1404.5L1687.6 1404.7L1688.4 1404.4L1689.2 1404.6L1690.0 1405.5L1690.8 1405.2L1691.6 1405.7L1692.4 1405.7L1693.2 1406.0L1694.0 1406.6L1694.8 1406.2L1695.6 1406.9L1696.4 1406.9L1697.2 1406.9L1698.0 1407.0L1698.8 1407.2L1699.6 1407.9L1700.4 1408.1L1701.2 1407.7L1702.0 1408.3L1702.8 1407.7L1703.6 1408.5L1704.4 1409.3L1705.2 1408.4L1706.0 1409.0L1706.8 1408.8L1707.6 1409.2L1708.4 1408.9L1709.2 1409.4L1710.0 1408.7L1710.8 1409.5L1711.6 1409.6L1712.4 1409.8L1713.2 1410.6L1714.0 1409.6L1714.8 1409.9L1715.6 1409.7L1716.4 1410.5L1717.2 1410.4L1718.0 1410.1L1718.8 1410.9L1719.6 1410.8L1720.4 1411.2L1721.2 1411.1L1722.0 1411.0L1722.8 1410.8L1723.6 1410.4L1724.4 1411.0L1725.2 1411.6L1726.0 1411.3L1726.8 1411.1L1727.6 1411.6L1728.4 1411.8L1729.2 1412.6L1730.0 1411.4L1730.8 1411.7L1731.6 1411.5L1732.4 1411.7L1733.2 1412.3L1734.0 1412.1L1734.8 1411.7L1735.6 1412.7L1736.4 1412.9L1737.2 1412.6L1738.0 1412.1L1738.8 1412.1L1739.6 1413.0L1740.4 1412.3L1741.2 1412.5L1742.0 1412.3L1742.8 1413.4L1743.6 1412.6L1744.4 1412.9L1745.2 1412.7L1746.0 1412.8L1746.8 1412.7L1747.6 1413.5L1748.4 1413.0L1749.2 1413.8L1750.0 1412.9L1750.8 1413.5L1751.6 1413.8L1752.4 1413.1L1753.2 1413.6L1754.0 1413.4L1754.8 1413.3L1755.6 1413.6L1756.4 1413.1L1757.2 1413.7L1758.0 1413.3L1758.8 1414.1L1759.6 1414.5L1760.4 1414.5L1761.2 1413.8L1762.0 1414.1L1762.8 1414.8L1763.6 1414.7L1764.4 1414.5L1765.2 1413.6L1766.0 1414.3L1766.8 1415.2L1767.6 1414.6L1768.4 1414.4L1769.2 1414.6L1770.0 1415.4L1770.8 1415.1L1771.6 1414.3L1772.4 1414.4L1773.2 1414.8L1774.0 1415.3L1774.8 1414.6L1775.6 1414.7L1776.4 1414.1L1777.2 1414.8L1778.0 1415.3L1778.8 1415.3L1779.6 1414.6L1780.4 1415.4L1781.2 1414.9L1782.0 1414.8L1782.8 1415.5L1783.6 1414.8L1784.4 1415.2L1785.2 1415.1L1786.0 1415.4L1786.8 1415.6L1787.6 1415.4L1788.4 1415.3L1789.2 1415.4L1790.0 1414.8L1790.8 1415.6L1791.6 1416.4L1792.4 1415.9L1793.2 1416.2L1794.0 1415.8L1794.8 1415.9L1795.6 1416.1L1796.4 1416.2L1797.2 1416.2L1798.0 1415.7L1798.8 1416.1L1799.6 1415.6L1800.4 1416.5L1801.2 1416.2L1802.0 1416.1L1802.8 1415.8L1803.6 1416.4L1804.4 1416.7L1805.2 1416.5L1806.0 1416.8L1806.8 1416.2L1807.6 1416.8L1808.4 1416.5L1809.2 1415.6L1810.0 1416.7L1810.8 1416.3L1811.6 1416.6L1812.4 1416.5L1813.2 1416.4L1814.0 1417.1L1814.8 1416.6L1815.6 1416.9L1816.4 1417.1L1817.2 1416.8L1818.0 1416.5L1818.8 1417.0L1819.6 1417.0L1820.4 1416.7L1821.2 1417.1L1822.0 1417.6L1822.8 1417.5L1823.6 1417.8L1824.4 1417.7L1825.2 1417.4L1826.0 1417.3L1826.8 1417.0L1827.6 1417.8L1828.4 1417.3L1829.2 1417.7L1830.0 1418.1L1830.8 1417.6L1831.6 1417.1L1832.4 1417.3L1833.2 1417.6L1834.0 1418.2L1834.8 1417.6L1835.6 1417.8L1836.4 1417.5L1837.2 1418.0L1838.0 1418.0L1838.8 1418.2L1839.6 1417.7L1840.4 1418.2L1841.2 1417.6L1842.0 1417.9L1842.8 1418.0L1843.6 1418.1L1844.4 1418.4L1845.2 1417.5L1846.0 1418.3L1846.8 1418.2L1847.6 1417.9L1848.4 1418.3L1849.2 1418.6L1850.0 1418.4L1850.8 1418.4L1851.6 1418.8L1852.4 1418.4L1853.2 1419.1L1854.0 1418.9L1854.8 1418.9L1855.6 1419.0L1856.4 1419.3L1857.2 1418.7L1858.0 1419.4L1858.8 1418.7L1859.6 1419.2L1860.4 1419.3L1861.2 1419.2L1862.0 1418.8L1862.8 1418.8L1863.6 1418.9L1864.4 1419.3L1865.2 1419.4L1866.0 1419.6L1866.8 1418.9L1867.6 1419.6L1868.4 1419.9L1869.2 1419.6L1870.0 1419.6L1870.8 1419.9L1871.6 1420.2L1872.4 1420.2L1873.2 1420.3L1874.0 1419.4L1874.8 1420.3L1875.6 1419.8L1876.4 1420.2L1877.2 1419.8L1878.0 1420.1L1878.8 1419.9L1879.6 1420.0L1880.4 1420.8L1881.2 1419.8L1882.0 1420.6L1882.8 1420.3L1883.6 1419.9L1884.4 1420.8L1885.2 1420.4L1886.0 1420.2L1886.8 1420.6L1887.6 1420.2L1888.4 1421.1L1889.2 1420.1L1890.0 1420.4L1890.8 1420.0L1891.6 1420.8L1892.4 1421.0L1893.2 1421.1L1894.0 1421.3L1894.8 1420.8L1895.6 1420.7L1896.4 1421.2L1897.2 1420.7L1898.0 1421.1L1898.8 1420.9L1899.6 1420.8L1900.4 1421.1L1901.2 1421.5L1902.0 1421.5L1902.8 1421.3L1903.6 1420.3L1904.4 1421.3L1905.2 1421.4L1906.0 1421.5L1906.8 1421.1L1907.6 1421.8L1908.4 1421.6L1909.2 1420.8L1910.0 1421.8L1910.8 1422.1L1911.6 1421.7L1912.4 1421.3L1913.2 1422.3L1914.0 1422.0L1914.8 1421.1L1915.6 1422.1L1916.4 1421.9L1917.2 1421.9L1918.0 1421.2L1918.8 1421.3L1919.6 1422.0L1920.4 1422.6L1921.2 1422.0L1922.0 1422.0L1922.8 1421.8L1923.6 1421.9L1924.4 1422.4L1925.2 1421.8L1926.0 1422.8L1926.8 1422.3L1927.6 1422.3L1928.4 1422.2L1929.2 1422.0L1930.0 1422.2L1930.8 1421.8L1931.6 1422.3L1932.4 1421.7L1933.2 1423.1L1934.0 1422.4L1934.8 1421.9L1935.6 1422.5L1936.4 1422.5L1937.2 1422.3L1938.0 1422.6L1938.8 1422.3L1939.6 1422.5L1940.4 1422.5L1941.2 1422.8L1942.0 1422.5L1942.8 1422.8L1943.6 1421.7L1944.4 1423.1L1945.2 1422.8L1946.0 1423.0L1946.8 1422.7L1947.6 1423.2L1948.4 1422.9L1949.2 1423.0L1950.0 1423.0L1950.8 1422.8L1951.6 1422.7L1952.4 1423.2L1953.2 1423.3L1954.0 1423.1L1954.8 1423.6L1955.6 1423.2L1956.4 1423.3L1957.2 1423.6L1958.0 1423.5L1958.8 1423.2L1959.6 1422.9L1960.4 1423.0L1961.2 1423.0L1962.0 1423.6L1962.8 1422.1L1963.6 1424.1L1964.4 1423.1L1965.2 1423.8L1966.0 1423.6L1966.8 1423.7L1967.6 1423.1L1968.4 1423.9L1969.2 1423.6L1970.0 1423.8L1970.8 1423.3L1971.6 1423.7L1972.4 1423.4L1973.2 1423.8L1974.0 1424.0L1974.8 1423.7L1975.6 1423.9L1976.4 1424.0L1977.2 1423.8L1978.0 1423.8L1978.8 1423.2L1979.6 1424.3L1980.4 1424.0L1981.2 1423.9L1982.0 1424.1L1982.8 1423.8L1983.6 1423.9L1984.4 1424.2L1985.2 1423.6L1986.0 1424.0L1986.8 1424.2L1987.6 1423.6L1988.4 1423.8L1989.2 1424.6L1990.0 1425.0L1990.8 1424.4L1991.6 1424.5L1992.4 1424.0L1993.2 1424.8L1994.0 1424.3L1994.8 1424.4L1995.6 1424.6L1996.4 1424.2L1997.2 1424.2L1998.0 1424.5L1998.8 1424.2L1999.6 1424.3L2000.4 1423.7L2001.2 1424.2L2002.0 1424.8L2002.8 1425.0L2003.6 1424.9L2004.4 1424.4L2005.2 1424.7L2006.0 1424.4L2006.8 1424.4L2007.6 1425.1L2008.4 1424.7L2009.2 1424.7L2010.0 1424.9L2010.8 1425.2L2011.6 1425.0L2012.4 1424.9L2013.2 1425.1L2014.0 1425.0L2014.8 1424.9L2015.6 1424.3L2016.4 1424.8L2017.2 1425.1L2018.0 1424.8L2018.8 1425.8L2019.6 1426.0L2020.4 1425.8L2021.2 1424.9L2022.0 1425.4L2022.8 1425.4L2023.6 1425.4L2024.4 1424.8L2025.2 1425.7L2026.0 1426.0L2026.8 1425.7L2027.6 1426.2L2028.4 1425.3L2029.2 1425.7L2030.0 1425.9L2030.8 1425.2L2031.6 1425.5L2032.4 1425.3L2033.2 1425.9L2034.0 1425.2L2034.8 1425.7L2035.6 1425.4L2036.4 1426.0L2037.2 1425.5L2038.0 1425.6L2038.8 1425.8L2039.6 1425.5L2040.4 1425.6L2041.2 1425.7L2042.0 1425.6L2042.8 1425.9L2043.6 1425.5L2044.4 1425.8L2045.2 1425.7L2046.0 1425.6L2046.8 1425.4L2047.6 1425.2L2048.4 1425.6L2049.2 1426.0L2050.0 1425.7L2050.8 1426.4L2051.6 1425.5L2052.4 1425.7L2053.2 1425.3L2054.0 1426.3L2054.8 1425.4L2055.6 1426.0L2056.4 1426.0L2057.2 1426.8L2058.0 1426.4L2058.8 1426.2L2059.6 1426.0L2060.4 1426.6L2061.2 1425.8L2062.0 1425.5L2062.8 1426.2L2063.6 1425.9L2064.4 1425.7L2065.2 1426.1L2066.0 1426.1L2066.8 1425.4L2067.6 1426.3L2068.4 1426.7L2069.2 1425.9L2070.0 1425.5L2070.8 1426.1L2071.6 1426.0L2072.4 1426.3L2073.2 1426.3L2074.0 1426.0L2074.8 1426.5L2075.6 1425.4L2076.4 1425.8L2077.2 1426.1L2078.0 1426.2L2078.8 1426.0L2079.6 1426.2L2080.4 1425.6L2081.2 1425.3L2082.0 1426.4L2082.8 1426.5L2083.6 1426.1L2084.4 1425.7L2085.2 1425.8L2086.0 1426.3L2086.8 1426.2L2087.6 1426.6L2088.4 1426.7L2089.2 1426.5L2090.0 1426.0L2090.8 1426.5L2091.6 1426.3L2092.4 1426.2L2093.2 1426.2L2094.0 1426.1L2094.8 1425.8L2095.6 1426.3L2096.4 1425.9L2097.2 1426.1L2098.0 1426.4L2098.8 1426.4L2099.6 1425.5L2100.4 1425.9L2101.2 1425.8L2102.0 1426.2L2102.8 1425.9L2103.6 1426.5L2104.4 1426.0L2105.2 1426.3L2106.0 1425.8L2106.8 1425.9L2107.6 1426.1L2108.4 1426.3L2109.2 1425.4L2110.0 1426.2L2110.8 1425.7L2111.6 1426.2L2112.4 1425.5L2113.2 1426.0L2114.0 1426.6L2114.8 1426.7L2115.6 1425.8L2116.4 1426.8L2117.2 1426.0L2118.0 1426.2L2118.8 1426.3L2119.6 1426.2L2120.4 1426.3L2121.2 1426.2L2122.0 1426.5L2122.8 1426.2L2123.6 1426.0L2124.4 1425.8L2125.2 1425.8L2126.0 1426.1L2126.8 1426.4L2127.6 1426.3L2128.4 1426.1L2129.2 1426.3L2130.0 1426.0L2130.8 1426.2L2131.6 1426.3L2132.4 1426.0L2133.2 1426.6L2134.0 1426.6L2134.8 1426.1" fill="none" stroke="#000000" stroke-width="6.0" stroke-linejoin="round" stroke-linecap="butt" shape-rendering="crispEdges"/>
<path d="M141 1499.9 L141 14.4 L2135.9 14.4 L2135.9 1499.9 Z" fill="none" stroke="#000" stroke-width="5.8" stroke-linejoin="bevel"/>
<line x1="523.0" y1="23.0" x2="523.0" y2="1334" stroke="#ff10ff" stroke-width="2" stroke-dasharray="9.2 9.0"/>
<line x1="630.0" y1="16.0" x2="630.0" y2="1354" stroke="#ff10ff" stroke-width="2" stroke-dasharray="9.2 9.0"/>
<line x1="695.0" y1="21.3" x2="695.0" y2="1336" stroke="#ff10ff" stroke-width="2" stroke-dasharray="9.2 9.0"/>
<line x1="817.2" y1="25.8" x2="817.2" y2="1371" stroke="#ff10ff" stroke-width="2" stroke-dasharray="9.2 9.0"/>
<line x1="339.9" y1="1472" x2="339.9" y2="1498" stroke="#000" stroke-width="5.8"/>
<text x="340.4" y="1571.7" font-size="55.3" font-weight="bold" text-anchor="middle">10</text>
<line x1="739.1" y1="1472" x2="739.1" y2="1498" stroke="#000" stroke-width="5.8"/>
<text x="739.6" y="1571.7" font-size="55.3" font-weight="bold" text-anchor="middle">20</text>
<line x1="1138.4" y1="1472" x2="1138.4" y2="1498" stroke="#000" stroke-width="5.8"/>
<text x="1138.9" y="1571.7" font-size="55.3" font-weight="bold" text-anchor="middle">30</text>
<line x1="1537.6" y1="1472" x2="1537.6" y2="1498" stroke="#000" stroke-width="5.8"/>
<text x="1538.1" y="1571.7" font-size="55.3" font-weight="bold" text-anchor="middle">40</text>
<line x1="1936.8" y1="1472" x2="1936.8" y2="1498" stroke="#000" stroke-width="5.8"/>
<text x="1937.3" y="1571.7" font-size="55.3" font-weight="bold" text-anchor="middle">50</text>
<text x="1140.5" y="1660.2" font-size="66" text-anchor="middle">2<tspan font-style="italic">θ</tspan> (°)</text>
<text transform="translate(61 761.3) rotate(-90) scale(1 1.02)" font-size="67.2" text-anchor="middle">Intensity (a.u.)</text>
<text transform="translate(1498.6 204.4) scale(1 1.015)" font-size="65.9" fill="#ff8000">I-(PP-g-GMA-NMDG)</text>
<text transform="translate(1563 590.4) scale(1 1.015)" font-size="65.6" fill="#0000ff">PP-g-GMA-NMDG</text>
<text transform="translate(1759.3 957.7) scale(1 1.02)" font-size="65.4" fill="#ff0000">PP-g-GMA</text>
<text transform="translate(1962 1336.6) scale(1 1.0)" font-size="67" fill="#000">PP</text>
<text x="513.65" y="1377.8" font-size="54" fill="#ff00ff" text-anchor="middle">(110)</text>
<text x="699.45" y="1373.1" font-size="54" fill="#ff00ff" text-anchor="middle">(130)</text>
<text x="636.3" y="1430.2" font-size="54" fill="#ff00ff" text-anchor="middle">(040)</text>
<text x="818.15" y="1431.3" font-size="54" fill="#ff00ff" text-anchor="middle">(131)</text>
</svg></body></html>
